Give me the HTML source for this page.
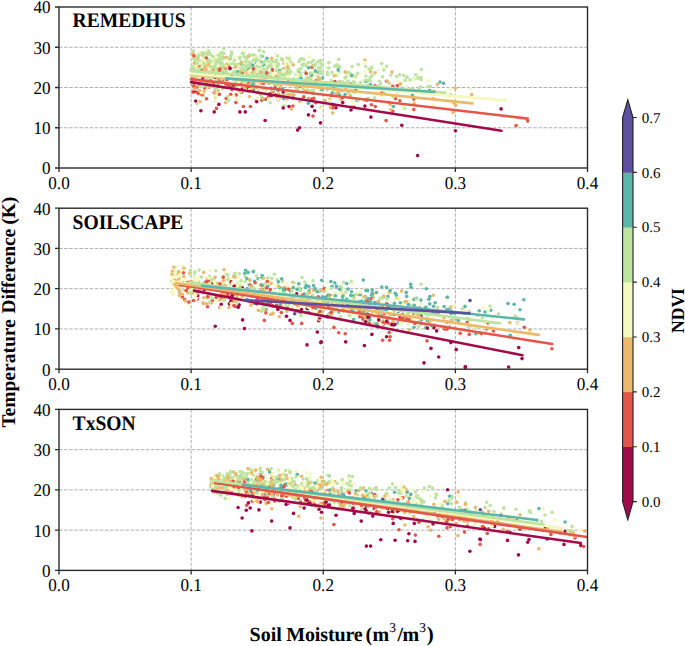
<!DOCTYPE html><html><head><meta charset="utf-8"><style>html,body{margin:0;padding:0;background:#fff;}svg{display:block;}text{font-family:"Liberation Serif",serif;text-rendering:geometricPrecision;}</style></head><body>
<svg width="685" height="646" viewBox="0 0 685 646">
<rect width="685" height="646" fill="#fff"/>
<defs><clipPath id="c0"><rect x="59.0" y="7.0" width="528.5" height="161.0"/></clipPath></defs>
<path d="M191.12 7.00V168.00M323.25 7.00V168.00M455.38 7.00V168.00M59.00 127.75H587.50M59.00 87.50H587.50M59.00 47.25H587.50" stroke="#b0b0b0" stroke-width="1" stroke-dasharray="3.6 1.5" fill="none"/>
<g clip-path="url(#c0)">
<circle cx="207.6" cy="77.8" r="1.8" fill="#f4fabd"/>
<circle cx="471.7" cy="94.6" r="1.8" fill="#ebb86c"/>
<circle cx="195.4" cy="63.0" r="1.8" fill="#ebb86c"/>
<circle cx="228.7" cy="85.1" r="1.8" fill="#e2574a"/>
<circle cx="289.6" cy="95.3" r="1.8" fill="#bde4a0"/>
<circle cx="265.0" cy="78.4" r="1.8" fill="#e2574a"/>
<circle cx="226.9" cy="84.9" r="1.8" fill="#a10b49"/>
<circle cx="220.9" cy="52.9" r="1.8" fill="#bde4a0"/>
<circle cx="254.1" cy="71.0" r="1.8" fill="#ebb86c"/>
<circle cx="437.5" cy="84.3" r="1.8" fill="#ebb86c"/>
<circle cx="267.4" cy="73.2" r="1.8" fill="#bde4a0"/>
<circle cx="338.7" cy="69.1" r="1.8" fill="#bde4a0"/>
<circle cx="357.2" cy="100.5" r="1.8" fill="#e2574a"/>
<circle cx="248.2" cy="68.5" r="1.8" fill="#f4fabd"/>
<circle cx="256.5" cy="62.7" r="1.8" fill="#5cb6a9"/>
<circle cx="291.5" cy="93.7" r="1.8" fill="#bde4a0"/>
<circle cx="279.0" cy="76.5" r="1.8" fill="#ebb86c"/>
<circle cx="261.9" cy="70.8" r="1.8" fill="#bde4a0"/>
<circle cx="203.0" cy="82.0" r="1.8" fill="#bde4a0"/>
<circle cx="226.2" cy="98.4" r="1.8" fill="#e2574a"/>
<circle cx="211.3" cy="75.3" r="1.8" fill="#bde4a0"/>
<circle cx="267.9" cy="67.3" r="1.8" fill="#ebb86c"/>
<circle cx="254.3" cy="76.2" r="1.8" fill="#bde4a0"/>
<circle cx="379.4" cy="81.2" r="1.8" fill="#bde4a0"/>
<circle cx="225.8" cy="84.1" r="1.8" fill="#e2574a"/>
<circle cx="250.2" cy="55.6" r="1.8" fill="#bde4a0"/>
<circle cx="244.2" cy="50.5" r="1.8" fill="#f4fabd"/>
<circle cx="299.8" cy="86.2" r="1.8" fill="#e2574a"/>
<circle cx="265.7" cy="75.6" r="1.8" fill="#5cb6a9"/>
<circle cx="217.5" cy="81.2" r="1.8" fill="#e2574a"/>
<circle cx="245.5" cy="61.2" r="1.8" fill="#bde4a0"/>
<circle cx="308.7" cy="98.8" r="1.8" fill="#e2574a"/>
<circle cx="284.1" cy="80.3" r="1.8" fill="#ebb86c"/>
<circle cx="220.1" cy="60.3" r="1.8" fill="#bde4a0"/>
<circle cx="252.3" cy="65.7" r="1.8" fill="#bde4a0"/>
<circle cx="261.6" cy="67.5" r="1.8" fill="#f4fabd"/>
<circle cx="256.3" cy="57.6" r="1.8" fill="#bde4a0"/>
<circle cx="214.7" cy="101.4" r="1.8" fill="#f4fabd"/>
<circle cx="304.6" cy="84.8" r="1.8" fill="#bde4a0"/>
<circle cx="203.1" cy="95.2" r="1.8" fill="#f4fabd"/>
<circle cx="248.6" cy="85.6" r="1.8" fill="#f4fabd"/>
<circle cx="353.5" cy="81.9" r="1.8" fill="#bde4a0"/>
<circle cx="302.3" cy="64.6" r="1.8" fill="#bde4a0"/>
<circle cx="353.5" cy="85.1" r="1.8" fill="#bde4a0"/>
<circle cx="302.5" cy="88.3" r="1.8" fill="#bde4a0"/>
<circle cx="306.8" cy="87.7" r="1.8" fill="#bde4a0"/>
<circle cx="222.1" cy="64.0" r="1.8" fill="#f4fabd"/>
<circle cx="228.4" cy="65.0" r="1.8" fill="#bde4a0"/>
<circle cx="386.4" cy="81.3" r="1.8" fill="#5cb6a9"/>
<circle cx="237.4" cy="64.2" r="1.8" fill="#bde4a0"/>
<circle cx="247.9" cy="73.0" r="1.8" fill="#bde4a0"/>
<circle cx="210.7" cy="66.9" r="1.8" fill="#f4fabd"/>
<circle cx="192.0" cy="70.2" r="1.8" fill="#f4fabd"/>
<circle cx="235.3" cy="83.2" r="1.8" fill="#f4fabd"/>
<circle cx="257.3" cy="78.4" r="1.8" fill="#bde4a0"/>
<circle cx="277.8" cy="82.0" r="1.8" fill="#ebb86c"/>
<circle cx="231.3" cy="74.5" r="1.8" fill="#e2574a"/>
<circle cx="360.5" cy="82.5" r="1.8" fill="#bde4a0"/>
<circle cx="241.1" cy="84.6" r="1.8" fill="#ebb86c"/>
<circle cx="215.0" cy="60.3" r="1.8" fill="#ebb86c"/>
<circle cx="225.2" cy="80.5" r="1.8" fill="#bde4a0"/>
<circle cx="267.4" cy="67.5" r="1.8" fill="#bde4a0"/>
<circle cx="221.2" cy="67.6" r="1.8" fill="#bde4a0"/>
<circle cx="236.6" cy="83.5" r="1.8" fill="#ebb86c"/>
<circle cx="216.2" cy="83.5" r="1.8" fill="#ebb86c"/>
<circle cx="220.5" cy="75.5" r="1.8" fill="#ebb86c"/>
<circle cx="243.2" cy="80.4" r="1.8" fill="#f4fabd"/>
<circle cx="236.5" cy="82.9" r="1.8" fill="#5cb6a9"/>
<circle cx="241.2" cy="77.1" r="1.8" fill="#e2574a"/>
<circle cx="262.2" cy="81.1" r="1.8" fill="#e2574a"/>
<circle cx="267.9" cy="98.3" r="1.8" fill="#ebb86c"/>
<circle cx="269.5" cy="95.4" r="1.8" fill="#a10b49"/>
<circle cx="255.7" cy="77.5" r="1.8" fill="#bde4a0"/>
<circle cx="381.8" cy="95.5" r="1.8" fill="#f4fabd"/>
<circle cx="264.7" cy="75.2" r="1.8" fill="#bde4a0"/>
<circle cx="251.2" cy="71.3" r="1.8" fill="#5cb6a9"/>
<circle cx="198.7" cy="66.5" r="1.8" fill="#bde4a0"/>
<circle cx="368.2" cy="80.2" r="1.8" fill="#ebb86c"/>
<circle cx="241.8" cy="76.8" r="1.8" fill="#bde4a0"/>
<circle cx="243.1" cy="65.3" r="1.8" fill="#bde4a0"/>
<circle cx="193.0" cy="92.3" r="1.8" fill="#e2574a"/>
<circle cx="221.5" cy="62.3" r="1.8" fill="#bde4a0"/>
<circle cx="206.9" cy="68.8" r="1.8" fill="#bde4a0"/>
<circle cx="283.2" cy="92.1" r="1.8" fill="#a10b49"/>
<circle cx="208.6" cy="66.5" r="1.8" fill="#f4fabd"/>
<circle cx="287.6" cy="67.8" r="1.8" fill="#ebb86c"/>
<circle cx="220.7" cy="81.2" r="1.8" fill="#bde4a0"/>
<circle cx="310.7" cy="73.6" r="1.8" fill="#5cb6a9"/>
<circle cx="412.0" cy="88.3" r="1.8" fill="#bde4a0"/>
<circle cx="244.6" cy="79.7" r="1.8" fill="#bde4a0"/>
<circle cx="255.1" cy="56.1" r="1.8" fill="#bde4a0"/>
<circle cx="324.8" cy="84.2" r="1.8" fill="#e2574a"/>
<circle cx="454.0" cy="103.1" r="1.8" fill="#ebb86c"/>
<circle cx="219.2" cy="58.8" r="1.8" fill="#bde4a0"/>
<circle cx="199.9" cy="68.2" r="1.8" fill="#f4fabd"/>
<circle cx="309.6" cy="86.2" r="1.8" fill="#bde4a0"/>
<circle cx="305.5" cy="87.0" r="1.8" fill="#bde4a0"/>
<circle cx="234.3" cy="60.3" r="1.8" fill="#bde4a0"/>
<circle cx="288.4" cy="93.7" r="1.8" fill="#bde4a0"/>
<circle cx="193.6" cy="59.0" r="1.8" fill="#bde4a0"/>
<circle cx="229.7" cy="59.5" r="1.8" fill="#bde4a0"/>
<circle cx="346.9" cy="88.5" r="1.8" fill="#bde4a0"/>
<circle cx="199.5" cy="68.0" r="1.8" fill="#ebb86c"/>
<circle cx="250.4" cy="106.5" r="1.8" fill="#e2574a"/>
<circle cx="197.6" cy="55.6" r="1.8" fill="#f4fabd"/>
<circle cx="282.3" cy="59.7" r="1.8" fill="#ebb86c"/>
<circle cx="229.3" cy="67.3" r="1.8" fill="#bde4a0"/>
<circle cx="237.9" cy="72.1" r="1.8" fill="#bde4a0"/>
<circle cx="364.9" cy="60.0" r="1.8" fill="#ebb86c"/>
<circle cx="275.1" cy="85.2" r="1.8" fill="#bde4a0"/>
<circle cx="227.9" cy="96.5" r="1.8" fill="#bde4a0"/>
<circle cx="330.5" cy="94.2" r="1.8" fill="#bde4a0"/>
<circle cx="248.3" cy="91.3" r="1.8" fill="#ebb86c"/>
<circle cx="192.8" cy="74.5" r="1.8" fill="#bde4a0"/>
<circle cx="252.1" cy="84.0" r="1.8" fill="#bde4a0"/>
<circle cx="237.2" cy="86.5" r="1.8" fill="#e2574a"/>
<circle cx="339.8" cy="81.5" r="1.8" fill="#ebb86c"/>
<circle cx="254.3" cy="82.5" r="1.8" fill="#ebb86c"/>
<circle cx="331.4" cy="95.5" r="1.8" fill="#e2574a"/>
<circle cx="213.4" cy="75.2" r="1.8" fill="#ebb86c"/>
<circle cx="208.9" cy="87.2" r="1.8" fill="#e2574a"/>
<circle cx="308.9" cy="90.9" r="1.8" fill="#bde4a0"/>
<circle cx="192.6" cy="76.4" r="1.8" fill="#bde4a0"/>
<circle cx="204.0" cy="52.8" r="1.8" fill="#bde4a0"/>
<circle cx="204.0" cy="91.4" r="1.8" fill="#ebb86c"/>
<circle cx="239.7" cy="58.8" r="1.8" fill="#bde4a0"/>
<circle cx="217.5" cy="70.2" r="1.8" fill="#f4fabd"/>
<circle cx="242.2" cy="84.1" r="1.8" fill="#f4fabd"/>
<circle cx="309.3" cy="99.8" r="1.8" fill="#f4fabd"/>
<circle cx="259.9" cy="84.9" r="1.8" fill="#f4fabd"/>
<circle cx="294.3" cy="95.0" r="1.8" fill="#bde4a0"/>
<circle cx="205.9" cy="88.9" r="1.8" fill="#bde4a0"/>
<circle cx="264.5" cy="90.7" r="1.8" fill="#f4fabd"/>
<circle cx="276.9" cy="80.5" r="1.8" fill="#ebb86c"/>
<circle cx="244.2" cy="56.7" r="1.8" fill="#bde4a0"/>
<circle cx="279.9" cy="97.5" r="1.8" fill="#ebb86c"/>
<circle cx="213.5" cy="76.9" r="1.8" fill="#bde4a0"/>
<circle cx="257.4" cy="91.9" r="1.8" fill="#e2574a"/>
<circle cx="390.8" cy="75.3" r="1.8" fill="#bde4a0"/>
<circle cx="224.5" cy="72.9" r="1.8" fill="#ebb86c"/>
<circle cx="234.3" cy="64.2" r="1.8" fill="#bde4a0"/>
<circle cx="372.1" cy="75.4" r="1.8" fill="#bde4a0"/>
<circle cx="381.3" cy="92.7" r="1.8" fill="#ebb86c"/>
<circle cx="399.9" cy="100.8" r="1.8" fill="#e2574a"/>
<circle cx="257.1" cy="76.9" r="1.8" fill="#5cb6a9"/>
<circle cx="222.3" cy="80.2" r="1.8" fill="#e2574a"/>
<circle cx="253.0" cy="65.5" r="1.8" fill="#bde4a0"/>
<circle cx="258.0" cy="75.0" r="1.8" fill="#f4fabd"/>
<circle cx="200.0" cy="52.2" r="1.8" fill="#f4fabd"/>
<circle cx="308.2" cy="78.6" r="1.8" fill="#bde4a0"/>
<circle cx="259.4" cy="50.4" r="1.8" fill="#bde4a0"/>
<circle cx="246.7" cy="66.5" r="1.8" fill="#bde4a0"/>
<circle cx="214.2" cy="92.8" r="1.8" fill="#e2574a"/>
<circle cx="243.1" cy="77.8" r="1.8" fill="#bde4a0"/>
<circle cx="204.9" cy="62.5" r="1.8" fill="#f4fabd"/>
<circle cx="248.5" cy="78.1" r="1.8" fill="#bde4a0"/>
<circle cx="242.3" cy="77.3" r="1.8" fill="#5cb6a9"/>
<circle cx="312.9" cy="65.3" r="1.8" fill="#ebb86c"/>
<circle cx="279.4" cy="81.9" r="1.8" fill="#f4fabd"/>
<circle cx="293.2" cy="64.9" r="1.8" fill="#ebb86c"/>
<circle cx="241.5" cy="61.8" r="1.8" fill="#bde4a0"/>
<circle cx="252.2" cy="77.7" r="1.8" fill="#ebb86c"/>
<circle cx="248.6" cy="83.3" r="1.8" fill="#e2574a"/>
<circle cx="419.1" cy="88.2" r="1.8" fill="#bde4a0"/>
<circle cx="274.6" cy="81.1" r="1.8" fill="#e2574a"/>
<circle cx="237.5" cy="77.7" r="1.8" fill="#f4fabd"/>
<circle cx="237.4" cy="65.8" r="1.8" fill="#bde4a0"/>
<circle cx="278.2" cy="99.7" r="1.8" fill="#e2574a"/>
<circle cx="192.6" cy="83.9" r="1.8" fill="#a10b49"/>
<circle cx="235.9" cy="102.6" r="1.8" fill="#e2574a"/>
<circle cx="370.4" cy="77.3" r="1.8" fill="#bde4a0"/>
<circle cx="332.0" cy="72.4" r="1.8" fill="#bde4a0"/>
<circle cx="199.8" cy="65.5" r="1.8" fill="#e2574a"/>
<circle cx="318.6" cy="83.4" r="1.8" fill="#f4fabd"/>
<circle cx="336.7" cy="75.1" r="1.8" fill="#bde4a0"/>
<circle cx="208.3" cy="60.3" r="1.8" fill="#bde4a0"/>
<circle cx="252.9" cy="70.9" r="1.8" fill="#bde4a0"/>
<circle cx="237.2" cy="86.6" r="1.8" fill="#bde4a0"/>
<circle cx="277.5" cy="55.8" r="1.8" fill="#bde4a0"/>
<circle cx="232.0" cy="89.6" r="1.8" fill="#e2574a"/>
<circle cx="318.4" cy="77.4" r="1.8" fill="#ebb86c"/>
<circle cx="288.4" cy="74.1" r="1.8" fill="#bde4a0"/>
<circle cx="364.6" cy="62.6" r="1.8" fill="#f4fabd"/>
<circle cx="322.5" cy="78.1" r="1.8" fill="#5cb6a9"/>
<circle cx="216.4" cy="86.6" r="1.8" fill="#e2574a"/>
<circle cx="401.8" cy="125.3" r="1.8" fill="#a10b49"/>
<circle cx="315.7" cy="79.8" r="1.8" fill="#f4fabd"/>
<circle cx="214.7" cy="83.4" r="1.8" fill="#e2574a"/>
<circle cx="236.4" cy="80.0" r="1.8" fill="#bde4a0"/>
<circle cx="261.9" cy="72.6" r="1.8" fill="#bde4a0"/>
<circle cx="310.8" cy="79.0" r="1.8" fill="#e2574a"/>
<circle cx="413.8" cy="99.1" r="1.8" fill="#e2574a"/>
<circle cx="201.2" cy="69.6" r="1.8" fill="#bde4a0"/>
<circle cx="248.7" cy="88.6" r="1.8" fill="#a10b49"/>
<circle cx="191.4" cy="69.9" r="1.8" fill="#e2574a"/>
<circle cx="266.9" cy="80.4" r="1.8" fill="#e2574a"/>
<circle cx="253.4" cy="88.0" r="1.8" fill="#ebb86c"/>
<circle cx="318.5" cy="68.1" r="1.8" fill="#bde4a0"/>
<circle cx="242.1" cy="72.2" r="1.8" fill="#bde4a0"/>
<circle cx="314.9" cy="72.9" r="1.8" fill="#bde4a0"/>
<circle cx="246.9" cy="67.6" r="1.8" fill="#ebb86c"/>
<circle cx="249.6" cy="89.5" r="1.8" fill="#f4fabd"/>
<circle cx="304.9" cy="90.1" r="1.8" fill="#ebb86c"/>
<circle cx="257.0" cy="75.2" r="1.8" fill="#f4fabd"/>
<circle cx="414.2" cy="103.4" r="1.8" fill="#ebb86c"/>
<circle cx="320.4" cy="90.4" r="1.8" fill="#bde4a0"/>
<circle cx="265.2" cy="72.0" r="1.8" fill="#bde4a0"/>
<circle cx="312.4" cy="79.1" r="1.8" fill="#f4fabd"/>
<circle cx="267.1" cy="62.8" r="1.8" fill="#bde4a0"/>
<circle cx="204.1" cy="60.6" r="1.8" fill="#f4fabd"/>
<circle cx="262.0" cy="56.2" r="1.8" fill="#5cb6a9"/>
<circle cx="236.7" cy="64.5" r="1.8" fill="#f4fabd"/>
<circle cx="192.6" cy="84.3" r="1.8" fill="#e2574a"/>
<circle cx="395.6" cy="98.8" r="1.8" fill="#e2574a"/>
<circle cx="210.5" cy="84.8" r="1.8" fill="#ebb86c"/>
<circle cx="389.7" cy="83.6" r="1.8" fill="#bde4a0"/>
<circle cx="200.9" cy="110.7" r="1.8" fill="#a10b49"/>
<circle cx="367.6" cy="80.5" r="1.8" fill="#bde4a0"/>
<circle cx="305.8" cy="79.8" r="1.8" fill="#bde4a0"/>
<circle cx="369.7" cy="84.9" r="1.8" fill="#bde4a0"/>
<circle cx="420.6" cy="86.9" r="1.8" fill="#bde4a0"/>
<circle cx="281.4" cy="58.7" r="1.8" fill="#bde4a0"/>
<circle cx="249.2" cy="75.5" r="1.8" fill="#ebb86c"/>
<circle cx="194.8" cy="85.4" r="1.8" fill="#bde4a0"/>
<circle cx="370.4" cy="80.9" r="1.8" fill="#bde4a0"/>
<circle cx="380.6" cy="83.9" r="1.8" fill="#bde4a0"/>
<circle cx="235.3" cy="57.2" r="1.8" fill="#f4fabd"/>
<circle cx="297.9" cy="79.4" r="1.8" fill="#bde4a0"/>
<circle cx="229.1" cy="67.1" r="1.8" fill="#e2574a"/>
<circle cx="214.6" cy="77.4" r="1.8" fill="#bde4a0"/>
<circle cx="210.5" cy="80.7" r="1.8" fill="#e2574a"/>
<circle cx="197.9" cy="56.2" r="1.8" fill="#bde4a0"/>
<circle cx="207.1" cy="61.0" r="1.8" fill="#bde4a0"/>
<circle cx="193.8" cy="84.9" r="1.8" fill="#f4fabd"/>
<circle cx="254.6" cy="57.9" r="1.8" fill="#f4fabd"/>
<circle cx="287.2" cy="69.8" r="1.8" fill="#bde4a0"/>
<circle cx="223.1" cy="73.4" r="1.8" fill="#e2574a"/>
<circle cx="299.9" cy="101.4" r="1.8" fill="#ebb86c"/>
<circle cx="196.9" cy="92.2" r="1.8" fill="#e2574a"/>
<circle cx="253.8" cy="59.9" r="1.8" fill="#f4fabd"/>
<circle cx="375.0" cy="85.7" r="1.8" fill="#e2574a"/>
<circle cx="206.6" cy="65.5" r="1.8" fill="#ebb86c"/>
<circle cx="277.8" cy="73.7" r="1.8" fill="#f4fabd"/>
<circle cx="345.1" cy="87.1" r="1.8" fill="#ebb86c"/>
<circle cx="312.1" cy="75.2" r="1.8" fill="#f4fabd"/>
<circle cx="248.5" cy="68.4" r="1.8" fill="#f4fabd"/>
<circle cx="325.0" cy="100.5" r="1.8" fill="#ebb86c"/>
<circle cx="349.6" cy="86.5" r="1.8" fill="#bde4a0"/>
<circle cx="194.1" cy="82.6" r="1.8" fill="#ebb86c"/>
<circle cx="283.6" cy="63.5" r="1.8" fill="#bde4a0"/>
<circle cx="236.6" cy="84.7" r="1.8" fill="#ebb86c"/>
<circle cx="270.0" cy="93.6" r="1.8" fill="#e2574a"/>
<circle cx="276.0" cy="61.6" r="1.8" fill="#bde4a0"/>
<circle cx="204.3" cy="70.0" r="1.8" fill="#f4fabd"/>
<circle cx="279.0" cy="82.6" r="1.8" fill="#f4fabd"/>
<circle cx="221.4" cy="73.6" r="1.8" fill="#bde4a0"/>
<circle cx="355.6" cy="89.5" r="1.8" fill="#e2574a"/>
<circle cx="229.8" cy="69.3" r="1.8" fill="#bde4a0"/>
<circle cx="278.2" cy="99.5" r="1.8" fill="#f4fabd"/>
<circle cx="246.4" cy="69.5" r="1.8" fill="#bde4a0"/>
<circle cx="218.2" cy="71.8" r="1.8" fill="#bde4a0"/>
<circle cx="410.0" cy="80.0" r="1.8" fill="#bde4a0"/>
<circle cx="348.5" cy="72.4" r="1.8" fill="#bde4a0"/>
<circle cx="255.0" cy="68.9" r="1.8" fill="#bde4a0"/>
<circle cx="212.0" cy="82.2" r="1.8" fill="#e2574a"/>
<circle cx="204.8" cy="75.8" r="1.8" fill="#e2574a"/>
<circle cx="241.6" cy="68.4" r="1.8" fill="#f4fabd"/>
<circle cx="256.0" cy="100.4" r="1.8" fill="#ebb86c"/>
<circle cx="193.4" cy="50.8" r="1.8" fill="#bde4a0"/>
<circle cx="263.5" cy="69.0" r="1.8" fill="#bde4a0"/>
<circle cx="370.6" cy="71.7" r="1.8" fill="#ebb86c"/>
<circle cx="229.5" cy="64.2" r="1.8" fill="#bde4a0"/>
<circle cx="226.9" cy="64.0" r="1.8" fill="#ebb86c"/>
<circle cx="247.9" cy="72.5" r="1.8" fill="#ebb86c"/>
<circle cx="316.6" cy="82.2" r="1.8" fill="#5cb6a9"/>
<circle cx="311.1" cy="66.7" r="1.8" fill="#bde4a0"/>
<circle cx="201.7" cy="79.5" r="1.8" fill="#e2574a"/>
<circle cx="215.7" cy="71.5" r="1.8" fill="#bde4a0"/>
<circle cx="327.7" cy="74.2" r="1.8" fill="#bde4a0"/>
<circle cx="242.7" cy="65.6" r="1.8" fill="#bde4a0"/>
<circle cx="284.2" cy="75.9" r="1.8" fill="#5cb6a9"/>
<circle cx="314.3" cy="84.8" r="1.8" fill="#5cb6a9"/>
<circle cx="194.3" cy="90.8" r="1.8" fill="#a10b49"/>
<circle cx="216.1" cy="64.1" r="1.8" fill="#bde4a0"/>
<circle cx="304.6" cy="90.4" r="1.8" fill="#5cb6a9"/>
<circle cx="217.5" cy="85.3" r="1.8" fill="#e2574a"/>
<circle cx="337.2" cy="64.8" r="1.8" fill="#bde4a0"/>
<circle cx="221.5" cy="68.4" r="1.8" fill="#bde4a0"/>
<circle cx="220.8" cy="62.0" r="1.8" fill="#bde4a0"/>
<circle cx="200.7" cy="63.7" r="1.8" fill="#bde4a0"/>
<circle cx="305.8" cy="89.9" r="1.8" fill="#5cb6a9"/>
<circle cx="275.3" cy="87.1" r="1.8" fill="#e2574a"/>
<circle cx="303.9" cy="59.5" r="1.8" fill="#bde4a0"/>
<circle cx="284.6" cy="76.7" r="1.8" fill="#bde4a0"/>
<circle cx="310.8" cy="98.9" r="1.8" fill="#ebb86c"/>
<circle cx="261.1" cy="79.0" r="1.8" fill="#bde4a0"/>
<circle cx="334.7" cy="66.1" r="1.8" fill="#bde4a0"/>
<circle cx="255.1" cy="88.6" r="1.8" fill="#f4fabd"/>
<circle cx="198.2" cy="57.5" r="1.8" fill="#bde4a0"/>
<circle cx="240.0" cy="72.1" r="1.8" fill="#ebb86c"/>
<circle cx="374.5" cy="97.7" r="1.8" fill="#bde4a0"/>
<circle cx="272.3" cy="72.2" r="1.8" fill="#e2574a"/>
<circle cx="293.1" cy="95.1" r="1.8" fill="#ebb86c"/>
<circle cx="283.7" cy="72.7" r="1.8" fill="#bde4a0"/>
<circle cx="283.2" cy="106.3" r="1.8" fill="#bde4a0"/>
<circle cx="239.6" cy="85.8" r="1.8" fill="#e2574a"/>
<circle cx="404.6" cy="106.2" r="1.8" fill="#f4fabd"/>
<circle cx="208.3" cy="50.7" r="1.8" fill="#bde4a0"/>
<circle cx="207.5" cy="67.5" r="1.8" fill="#bde4a0"/>
<circle cx="375.1" cy="72.7" r="1.8" fill="#ebb86c"/>
<circle cx="287.4" cy="71.9" r="1.8" fill="#bde4a0"/>
<circle cx="204.0" cy="59.3" r="1.8" fill="#ebb86c"/>
<circle cx="241.8" cy="69.5" r="1.8" fill="#f4fabd"/>
<circle cx="406.9" cy="77.1" r="1.8" fill="#bde4a0"/>
<circle cx="279.1" cy="72.2" r="1.8" fill="#ebb86c"/>
<circle cx="231.4" cy="68.2" r="1.8" fill="#bde4a0"/>
<circle cx="197.2" cy="66.0" r="1.8" fill="#ebb86c"/>
<circle cx="256.8" cy="58.2" r="1.8" fill="#f4fabd"/>
<circle cx="392.0" cy="72.1" r="1.8" fill="#ebb86c"/>
<circle cx="305.5" cy="72.4" r="1.8" fill="#bde4a0"/>
<circle cx="335.9" cy="107.8" r="1.8" fill="#a10b49"/>
<circle cx="223.7" cy="53.6" r="1.8" fill="#bde4a0"/>
<circle cx="327.1" cy="82.5" r="1.8" fill="#bde4a0"/>
<circle cx="195.2" cy="81.9" r="1.8" fill="#bde4a0"/>
<circle cx="245.3" cy="82.1" r="1.8" fill="#ebb86c"/>
<circle cx="316.1" cy="73.8" r="1.8" fill="#ebb86c"/>
<circle cx="309.9" cy="80.5" r="1.8" fill="#ebb86c"/>
<circle cx="208.2" cy="65.0" r="1.8" fill="#f4fabd"/>
<circle cx="238.9" cy="87.2" r="1.8" fill="#bde4a0"/>
<circle cx="203.3" cy="60.5" r="1.8" fill="#ebb86c"/>
<circle cx="202.0" cy="69.8" r="1.8" fill="#f4fabd"/>
<circle cx="211.0" cy="72.1" r="1.8" fill="#ebb86c"/>
<circle cx="213.7" cy="61.1" r="1.8" fill="#bde4a0"/>
<circle cx="192.4" cy="71.3" r="1.8" fill="#f4fabd"/>
<circle cx="300.9" cy="85.2" r="1.8" fill="#ebb86c"/>
<circle cx="204.6" cy="74.9" r="1.8" fill="#f4fabd"/>
<circle cx="342.7" cy="102.6" r="1.8" fill="#a10b49"/>
<circle cx="213.6" cy="78.0" r="1.8" fill="#bde4a0"/>
<circle cx="305.5" cy="91.3" r="1.8" fill="#e2574a"/>
<circle cx="399.5" cy="74.7" r="1.8" fill="#bde4a0"/>
<circle cx="267.2" cy="61.1" r="1.8" fill="#bde4a0"/>
<circle cx="253.4" cy="54.7" r="1.8" fill="#bde4a0"/>
<circle cx="270.2" cy="102.7" r="1.8" fill="#bde4a0"/>
<circle cx="210.2" cy="61.0" r="1.8" fill="#bde4a0"/>
<circle cx="209.8" cy="62.2" r="1.8" fill="#bde4a0"/>
<circle cx="260.3" cy="71.1" r="1.8" fill="#f4fabd"/>
<circle cx="216.3" cy="92.7" r="1.8" fill="#f4fabd"/>
<circle cx="313.2" cy="90.8" r="1.8" fill="#bde4a0"/>
<circle cx="377.1" cy="70.5" r="1.8" fill="#f4fabd"/>
<circle cx="229.2" cy="78.3" r="1.8" fill="#e2574a"/>
<circle cx="262.6" cy="88.4" r="1.8" fill="#bde4a0"/>
<circle cx="400.6" cy="84.1" r="1.8" fill="#bde4a0"/>
<circle cx="196.8" cy="59.0" r="1.8" fill="#ebb86c"/>
<circle cx="312.5" cy="83.5" r="1.8" fill="#f4fabd"/>
<circle cx="236.9" cy="72.7" r="1.8" fill="#5cb6a9"/>
<circle cx="256.7" cy="101.7" r="1.8" fill="#a10b49"/>
<circle cx="222.1" cy="56.9" r="1.8" fill="#bde4a0"/>
<circle cx="249.9" cy="54.8" r="1.8" fill="#bde4a0"/>
<circle cx="220.4" cy="60.3" r="1.8" fill="#f4fabd"/>
<circle cx="404.6" cy="108.2" r="1.8" fill="#bde4a0"/>
<circle cx="237.7" cy="65.2" r="1.8" fill="#bde4a0"/>
<circle cx="346.6" cy="72.8" r="1.8" fill="#bde4a0"/>
<circle cx="323.5" cy="81.4" r="1.8" fill="#f4fabd"/>
<circle cx="241.2" cy="71.8" r="1.8" fill="#ebb86c"/>
<circle cx="254.4" cy="60.3" r="1.8" fill="#bde4a0"/>
<circle cx="200.2" cy="86.7" r="1.8" fill="#bde4a0"/>
<circle cx="264.8" cy="64.3" r="1.8" fill="#bde4a0"/>
<circle cx="318.9" cy="72.2" r="1.8" fill="#5cb6a9"/>
<circle cx="261.6" cy="76.3" r="1.8" fill="#ebb86c"/>
<circle cx="433.8" cy="93.8" r="1.8" fill="#5cb6a9"/>
<circle cx="237.6" cy="89.7" r="1.8" fill="#ebb86c"/>
<circle cx="398.6" cy="81.2" r="1.8" fill="#f4fabd"/>
<circle cx="341.8" cy="90.4" r="1.8" fill="#5cb6a9"/>
<circle cx="279.8" cy="70.6" r="1.8" fill="#5cb6a9"/>
<circle cx="192.4" cy="71.6" r="1.8" fill="#bde4a0"/>
<circle cx="366.0" cy="88.5" r="1.8" fill="#bde4a0"/>
<circle cx="250.2" cy="64.8" r="1.8" fill="#bde4a0"/>
<circle cx="392.7" cy="111.3" r="1.8" fill="#e2574a"/>
<circle cx="230.0" cy="82.9" r="1.8" fill="#bde4a0"/>
<circle cx="312.5" cy="99.6" r="1.8" fill="#e2574a"/>
<circle cx="227.7" cy="76.7" r="1.8" fill="#f4fabd"/>
<circle cx="208.7" cy="64.9" r="1.8" fill="#ebb86c"/>
<circle cx="341.1" cy="99.5" r="1.8" fill="#ebb86c"/>
<circle cx="201.1" cy="68.0" r="1.8" fill="#f4fabd"/>
<circle cx="222.7" cy="88.3" r="1.8" fill="#ebb86c"/>
<circle cx="307.1" cy="77.5" r="1.8" fill="#bde4a0"/>
<circle cx="223.5" cy="57.9" r="1.8" fill="#ebb86c"/>
<circle cx="393.2" cy="97.0" r="1.8" fill="#bde4a0"/>
<circle cx="267.0" cy="58.2" r="1.8" fill="#5cb6a9"/>
<circle cx="193.4" cy="85.5" r="1.8" fill="#bde4a0"/>
<circle cx="253.9" cy="81.2" r="1.8" fill="#f4fabd"/>
<circle cx="222.6" cy="52.9" r="1.8" fill="#bde4a0"/>
<circle cx="214.3" cy="63.1" r="1.8" fill="#bde4a0"/>
<circle cx="283.4" cy="95.5" r="1.8" fill="#ebb86c"/>
<circle cx="288.7" cy="85.3" r="1.8" fill="#f4fabd"/>
<circle cx="351.1" cy="75.5" r="1.8" fill="#bde4a0"/>
<circle cx="329.8" cy="99.2" r="1.8" fill="#ebb86c"/>
<circle cx="365.7" cy="66.5" r="1.8" fill="#bde4a0"/>
<circle cx="195.5" cy="60.0" r="1.8" fill="#bde4a0"/>
<circle cx="216.9" cy="66.2" r="1.8" fill="#bde4a0"/>
<circle cx="223.8" cy="48.6" r="1.8" fill="#bde4a0"/>
<circle cx="340.9" cy="81.7" r="1.8" fill="#bde4a0"/>
<circle cx="276.3" cy="76.1" r="1.8" fill="#ebb86c"/>
<circle cx="338.8" cy="71.9" r="1.8" fill="#bde4a0"/>
<circle cx="217.0" cy="66.6" r="1.8" fill="#bde4a0"/>
<circle cx="248.1" cy="56.3" r="1.8" fill="#ebb86c"/>
<circle cx="198.5" cy="94.3" r="1.8" fill="#bde4a0"/>
<circle cx="287.0" cy="58.1" r="1.8" fill="#bde4a0"/>
<circle cx="292.8" cy="92.0" r="1.8" fill="#bde4a0"/>
<circle cx="205.8" cy="62.5" r="1.8" fill="#bde4a0"/>
<circle cx="207.2" cy="86.7" r="1.8" fill="#bde4a0"/>
<circle cx="217.1" cy="56.3" r="1.8" fill="#bde4a0"/>
<circle cx="226.2" cy="87.8" r="1.8" fill="#bde4a0"/>
<circle cx="192.6" cy="70.1" r="1.8" fill="#ebb86c"/>
<circle cx="290.9" cy="63.0" r="1.8" fill="#bde4a0"/>
<circle cx="215.7" cy="97.6" r="1.8" fill="#ebb86c"/>
<circle cx="243.3" cy="81.3" r="1.8" fill="#f4fabd"/>
<circle cx="203.2" cy="74.8" r="1.8" fill="#f4fabd"/>
<circle cx="346.8" cy="82.6" r="1.8" fill="#bde4a0"/>
<circle cx="332.8" cy="86.9" r="1.8" fill="#f4fabd"/>
<circle cx="311.0" cy="81.9" r="1.8" fill="#f4fabd"/>
<circle cx="210.2" cy="82.0" r="1.8" fill="#e2574a"/>
<circle cx="421.3" cy="79.8" r="1.8" fill="#bde4a0"/>
<circle cx="245.7" cy="81.7" r="1.8" fill="#ebb86c"/>
<circle cx="282.4" cy="71.0" r="1.8" fill="#bde4a0"/>
<circle cx="334.8" cy="105.4" r="1.8" fill="#e2574a"/>
<circle cx="345.2" cy="77.9" r="1.8" fill="#bde4a0"/>
<circle cx="352.7" cy="90.0" r="1.8" fill="#f4fabd"/>
<circle cx="226.1" cy="66.5" r="1.8" fill="#f4fabd"/>
<circle cx="283.5" cy="68.4" r="1.8" fill="#ebb86c"/>
<circle cx="191.7" cy="68.7" r="1.8" fill="#bde4a0"/>
<circle cx="216.7" cy="77.9" r="1.8" fill="#ebb86c"/>
<circle cx="294.1" cy="91.3" r="1.8" fill="#bde4a0"/>
<circle cx="195.4" cy="61.4" r="1.8" fill="#bde4a0"/>
<circle cx="355.4" cy="76.7" r="1.8" fill="#bde4a0"/>
<circle cx="327.2" cy="72.2" r="1.8" fill="#bde4a0"/>
<circle cx="242.9" cy="64.1" r="1.8" fill="#f4fabd"/>
<circle cx="215.4" cy="89.0" r="1.8" fill="#e2574a"/>
<circle cx="272.7" cy="74.9" r="1.8" fill="#f4fabd"/>
<circle cx="338.7" cy="59.2" r="1.8" fill="#bde4a0"/>
<circle cx="342.8" cy="83.2" r="1.8" fill="#bde4a0"/>
<circle cx="311.4" cy="91.2" r="1.8" fill="#bde4a0"/>
<circle cx="311.7" cy="75.2" r="1.8" fill="#5cb6a9"/>
<circle cx="235.4" cy="90.0" r="1.8" fill="#f4fabd"/>
<circle cx="197.1" cy="103.7" r="1.8" fill="#bde4a0"/>
<circle cx="222.2" cy="66.7" r="1.8" fill="#e2574a"/>
<circle cx="203.7" cy="62.6" r="1.8" fill="#bde4a0"/>
<circle cx="210.1" cy="80.8" r="1.8" fill="#e2574a"/>
<circle cx="332.9" cy="107.9" r="1.8" fill="#e2574a"/>
<circle cx="300.5" cy="76.8" r="1.8" fill="#bde4a0"/>
<circle cx="358.2" cy="64.6" r="1.8" fill="#bde4a0"/>
<circle cx="315.3" cy="70.9" r="1.8" fill="#5cb6a9"/>
<circle cx="282.8" cy="69.3" r="1.8" fill="#bde4a0"/>
<circle cx="371.4" cy="104.8" r="1.8" fill="#e2574a"/>
<circle cx="210.5" cy="67.0" r="1.8" fill="#bde4a0"/>
<circle cx="305.2" cy="72.2" r="1.8" fill="#bde4a0"/>
<circle cx="268.6" cy="96.8" r="1.8" fill="#e2574a"/>
<circle cx="319.4" cy="60.9" r="1.8" fill="#bde4a0"/>
<circle cx="400.4" cy="83.7" r="1.8" fill="#ebb86c"/>
<circle cx="207.7" cy="72.1" r="1.8" fill="#f4fabd"/>
<circle cx="352.0" cy="66.5" r="1.8" fill="#bde4a0"/>
<circle cx="405.2" cy="80.4" r="1.8" fill="#bde4a0"/>
<circle cx="293.1" cy="79.9" r="1.8" fill="#ebb86c"/>
<circle cx="316.2" cy="80.7" r="1.8" fill="#e2574a"/>
<circle cx="315.3" cy="64.6" r="1.8" fill="#bde4a0"/>
<circle cx="300.4" cy="77.0" r="1.8" fill="#bde4a0"/>
<circle cx="276.4" cy="78.6" r="1.8" fill="#e2574a"/>
<circle cx="403.1" cy="106.4" r="1.8" fill="#f4fabd"/>
<circle cx="327.2" cy="89.9" r="1.8" fill="#bde4a0"/>
<circle cx="200.6" cy="78.1" r="1.8" fill="#e2574a"/>
<circle cx="271.9" cy="89.9" r="1.8" fill="#bde4a0"/>
<circle cx="194.4" cy="76.6" r="1.8" fill="#bde4a0"/>
<circle cx="349.9" cy="87.4" r="1.8" fill="#bde4a0"/>
<circle cx="191.3" cy="54.0" r="1.8" fill="#bde4a0"/>
<circle cx="317.1" cy="84.3" r="1.8" fill="#bde4a0"/>
<circle cx="275.4" cy="54.3" r="1.8" fill="#f4fabd"/>
<circle cx="276.3" cy="70.5" r="1.8" fill="#bde4a0"/>
<circle cx="241.5" cy="92.2" r="1.8" fill="#e2574a"/>
<circle cx="256.1" cy="77.6" r="1.8" fill="#ebb86c"/>
<circle cx="393.4" cy="106.5" r="1.8" fill="#5cb6a9"/>
<circle cx="417.0" cy="74.7" r="1.8" fill="#f4fabd"/>
<circle cx="198.8" cy="76.4" r="1.8" fill="#ebb86c"/>
<circle cx="230.3" cy="58.2" r="1.8" fill="#ebb86c"/>
<circle cx="321.0" cy="63.4" r="1.8" fill="#bde4a0"/>
<circle cx="226.1" cy="57.3" r="1.8" fill="#ebb86c"/>
<circle cx="309.1" cy="56.4" r="1.8" fill="#f4fabd"/>
<circle cx="216.5" cy="97.3" r="1.8" fill="#f4fabd"/>
<circle cx="235.2" cy="73.4" r="1.8" fill="#ebb86c"/>
<circle cx="236.2" cy="94.9" r="1.8" fill="#e2574a"/>
<circle cx="275.6" cy="65.8" r="1.8" fill="#f4fabd"/>
<circle cx="348.1" cy="81.3" r="1.8" fill="#bde4a0"/>
<circle cx="264.6" cy="88.0" r="1.8" fill="#bde4a0"/>
<circle cx="207.5" cy="72.1" r="1.8" fill="#ebb86c"/>
<circle cx="354.3" cy="92.3" r="1.8" fill="#bde4a0"/>
<circle cx="229.5" cy="82.9" r="1.8" fill="#f4fabd"/>
<circle cx="287.5" cy="66.1" r="1.8" fill="#bde4a0"/>
<circle cx="203.0" cy="95.5" r="1.8" fill="#e2574a"/>
<circle cx="279.6" cy="88.1" r="1.8" fill="#bde4a0"/>
<circle cx="261.8" cy="79.9" r="1.8" fill="#e2574a"/>
<circle cx="332.5" cy="84.8" r="1.8" fill="#5cb6a9"/>
<circle cx="423.0" cy="93.1" r="1.8" fill="#bde4a0"/>
<circle cx="308.0" cy="62.6" r="1.8" fill="#bde4a0"/>
<circle cx="285.4" cy="76.2" r="1.8" fill="#bde4a0"/>
<circle cx="191.9" cy="67.2" r="1.8" fill="#bde4a0"/>
<circle cx="378.2" cy="87.1" r="1.8" fill="#e2574a"/>
<circle cx="250.0" cy="68.1" r="1.8" fill="#bde4a0"/>
<circle cx="270.2" cy="76.8" r="1.8" fill="#ebb86c"/>
<circle cx="243.0" cy="84.2" r="1.8" fill="#f4fabd"/>
<circle cx="375.3" cy="106.6" r="1.8" fill="#e2574a"/>
<circle cx="381.4" cy="93.6" r="1.8" fill="#e2574a"/>
<circle cx="243.4" cy="78.9" r="1.8" fill="#bde4a0"/>
<circle cx="220.4" cy="61.9" r="1.8" fill="#bde4a0"/>
<circle cx="221.1" cy="78.1" r="1.8" fill="#bde4a0"/>
<circle cx="273.9" cy="77.9" r="1.8" fill="#bde4a0"/>
<circle cx="230.5" cy="87.2" r="1.8" fill="#e2574a"/>
<circle cx="247.9" cy="71.4" r="1.8" fill="#ebb86c"/>
<circle cx="223.4" cy="58.7" r="1.8" fill="#bde4a0"/>
<circle cx="257.9" cy="90.5" r="1.8" fill="#ebb86c"/>
<circle cx="245.8" cy="66.7" r="1.8" fill="#bde4a0"/>
<circle cx="208.0" cy="60.2" r="1.8" fill="#ebb86c"/>
<circle cx="215.1" cy="88.1" r="1.8" fill="#bde4a0"/>
<circle cx="202.0" cy="77.0" r="1.8" fill="#bde4a0"/>
<circle cx="264.1" cy="72.8" r="1.8" fill="#bde4a0"/>
<circle cx="231.6" cy="54.2" r="1.8" fill="#bde4a0"/>
<circle cx="298.5" cy="71.4" r="1.8" fill="#5cb6a9"/>
<circle cx="276.0" cy="64.4" r="1.8" fill="#bde4a0"/>
<circle cx="349.8" cy="95.0" r="1.8" fill="#bde4a0"/>
<circle cx="302.8" cy="65.2" r="1.8" fill="#bde4a0"/>
<circle cx="251.4" cy="90.0" r="1.8" fill="#ebb86c"/>
<circle cx="240.3" cy="67.8" r="1.8" fill="#ebb86c"/>
<circle cx="368.1" cy="98.2" r="1.8" fill="#bde4a0"/>
<circle cx="220.8" cy="76.7" r="1.8" fill="#bde4a0"/>
<circle cx="212.5" cy="67.1" r="1.8" fill="#f4fabd"/>
<circle cx="241.5" cy="88.7" r="1.8" fill="#a10b49"/>
<circle cx="261.6" cy="97.1" r="1.8" fill="#bde4a0"/>
<circle cx="254.3" cy="90.3" r="1.8" fill="#e2574a"/>
<circle cx="252.8" cy="80.4" r="1.8" fill="#bde4a0"/>
<circle cx="414.0" cy="79.0" r="1.8" fill="#bde4a0"/>
<circle cx="338.8" cy="94.5" r="1.8" fill="#bde4a0"/>
<circle cx="338.2" cy="92.3" r="1.8" fill="#ebb86c"/>
<circle cx="270.4" cy="71.7" r="1.8" fill="#f4fabd"/>
<circle cx="194.6" cy="68.2" r="1.8" fill="#bde4a0"/>
<circle cx="237.2" cy="75.2" r="1.8" fill="#bde4a0"/>
<circle cx="206.5" cy="80.1" r="1.8" fill="#f4fabd"/>
<circle cx="204.6" cy="75.8" r="1.8" fill="#f4fabd"/>
<circle cx="202.4" cy="68.6" r="1.8" fill="#f4fabd"/>
<circle cx="412.4" cy="94.9" r="1.8" fill="#5cb6a9"/>
<circle cx="242.4" cy="53.4" r="1.8" fill="#bde4a0"/>
<circle cx="330.2" cy="82.9" r="1.8" fill="#bde4a0"/>
<circle cx="321.2" cy="107.2" r="1.8" fill="#ebb86c"/>
<circle cx="220.1" cy="66.3" r="1.8" fill="#ebb86c"/>
<circle cx="265.3" cy="60.6" r="1.8" fill="#bde4a0"/>
<circle cx="253.3" cy="67.9" r="1.8" fill="#bde4a0"/>
<circle cx="319.2" cy="83.6" r="1.8" fill="#ebb86c"/>
<circle cx="205.7" cy="70.2" r="1.8" fill="#ebb86c"/>
<circle cx="268.0" cy="80.9" r="1.8" fill="#bde4a0"/>
<circle cx="313.3" cy="83.9" r="1.8" fill="#ebb86c"/>
<circle cx="270.1" cy="61.3" r="1.8" fill="#bde4a0"/>
<circle cx="205.0" cy="61.1" r="1.8" fill="#f4fabd"/>
<circle cx="214.8" cy="65.7" r="1.8" fill="#bde4a0"/>
<circle cx="269.3" cy="83.4" r="1.8" fill="#ebb86c"/>
<circle cx="390.2" cy="104.4" r="1.8" fill="#ebb86c"/>
<circle cx="199.0" cy="84.5" r="1.8" fill="#e2574a"/>
<circle cx="248.5" cy="68.5" r="1.8" fill="#5cb6a9"/>
<circle cx="356.8" cy="84.0" r="1.8" fill="#f4fabd"/>
<circle cx="253.7" cy="66.0" r="1.8" fill="#bde4a0"/>
<circle cx="255.4" cy="71.1" r="1.8" fill="#bde4a0"/>
<circle cx="428.3" cy="80.6" r="1.8" fill="#f4fabd"/>
<circle cx="302.3" cy="81.1" r="1.8" fill="#ebb86c"/>
<circle cx="201.0" cy="78.2" r="1.8" fill="#bde4a0"/>
<circle cx="299.6" cy="84.8" r="1.8" fill="#bde4a0"/>
<circle cx="333.9" cy="89.7" r="1.8" fill="#bde4a0"/>
<circle cx="271.0" cy="66.3" r="1.8" fill="#bde4a0"/>
<circle cx="516.1" cy="125.6" r="1.8" fill="#e2574a"/>
<circle cx="272.2" cy="80.8" r="1.8" fill="#bde4a0"/>
<circle cx="238.3" cy="75.1" r="1.8" fill="#ebb86c"/>
<circle cx="278.0" cy="83.9" r="1.8" fill="#5cb6a9"/>
<circle cx="254.1" cy="87.1" r="1.8" fill="#bde4a0"/>
<circle cx="208.2" cy="81.2" r="1.8" fill="#ebb86c"/>
<circle cx="319.8" cy="73.4" r="1.8" fill="#bde4a0"/>
<circle cx="345.1" cy="94.6" r="1.8" fill="#5cb6a9"/>
<circle cx="248.0" cy="80.7" r="1.8" fill="#e2574a"/>
<circle cx="336.0" cy="93.5" r="1.8" fill="#ebb86c"/>
<circle cx="309.7" cy="77.8" r="1.8" fill="#ebb86c"/>
<circle cx="261.8" cy="100.3" r="1.8" fill="#e2574a"/>
<circle cx="413.8" cy="109.6" r="1.8" fill="#e2574a"/>
<circle cx="218.1" cy="90.2" r="1.8" fill="#ebb86c"/>
<circle cx="282.4" cy="78.3" r="1.8" fill="#f4fabd"/>
<circle cx="203.4" cy="59.9" r="1.8" fill="#f4fabd"/>
<circle cx="238.9" cy="65.5" r="1.8" fill="#f4fabd"/>
<circle cx="260.2" cy="84.4" r="1.8" fill="#ebb86c"/>
<circle cx="311.2" cy="91.0" r="1.8" fill="#bde4a0"/>
<circle cx="240.0" cy="95.9" r="1.8" fill="#f4fabd"/>
<circle cx="260.0" cy="71.4" r="1.8" fill="#bde4a0"/>
<circle cx="403.5" cy="75.5" r="1.8" fill="#bde4a0"/>
<circle cx="348.4" cy="91.9" r="1.8" fill="#ebb86c"/>
<circle cx="233.5" cy="95.8" r="1.8" fill="#f4fabd"/>
<circle cx="293.8" cy="78.9" r="1.8" fill="#bde4a0"/>
<circle cx="286.8" cy="65.7" r="1.8" fill="#bde4a0"/>
<circle cx="194.3" cy="55.9" r="1.8" fill="#bde4a0"/>
<circle cx="260.4" cy="94.2" r="1.8" fill="#ebb86c"/>
<circle cx="240.3" cy="66.2" r="1.8" fill="#f4fabd"/>
<circle cx="242.9" cy="69.2" r="1.8" fill="#bde4a0"/>
<circle cx="315.4" cy="71.5" r="1.8" fill="#5cb6a9"/>
<circle cx="418.1" cy="78.4" r="1.8" fill="#bde4a0"/>
<circle cx="196.5" cy="87.8" r="1.8" fill="#e2574a"/>
<circle cx="238.2" cy="72.9" r="1.8" fill="#bde4a0"/>
<circle cx="217.6" cy="76.6" r="1.8" fill="#e2574a"/>
<circle cx="203.4" cy="95.8" r="1.8" fill="#bde4a0"/>
<circle cx="195.1" cy="88.8" r="1.8" fill="#bde4a0"/>
<circle cx="257.4" cy="74.5" r="1.8" fill="#ebb86c"/>
<circle cx="225.4" cy="102.8" r="1.8" fill="#ebb86c"/>
<circle cx="221.4" cy="70.7" r="1.8" fill="#bde4a0"/>
<circle cx="302.1" cy="58.6" r="1.8" fill="#bde4a0"/>
<circle cx="201.8" cy="94.4" r="1.8" fill="#e2574a"/>
<circle cx="365.9" cy="76.1" r="1.8" fill="#bde4a0"/>
<circle cx="214.9" cy="75.6" r="1.8" fill="#bde4a0"/>
<circle cx="270.4" cy="78.8" r="1.8" fill="#ebb86c"/>
<circle cx="310.3" cy="84.7" r="1.8" fill="#bde4a0"/>
<circle cx="272.9" cy="91.2" r="1.8" fill="#e2574a"/>
<circle cx="350.6" cy="73.8" r="1.8" fill="#bde4a0"/>
<circle cx="218.6" cy="53.0" r="1.8" fill="#f4fabd"/>
<circle cx="296.6" cy="88.9" r="1.8" fill="#bde4a0"/>
<circle cx="270.9" cy="64.9" r="1.8" fill="#bde4a0"/>
<circle cx="386.7" cy="66.2" r="1.8" fill="#bde4a0"/>
<circle cx="218.4" cy="67.4" r="1.8" fill="#bde4a0"/>
<circle cx="254.8" cy="84.1" r="1.8" fill="#bde4a0"/>
<circle cx="319.2" cy="84.0" r="1.8" fill="#ebb86c"/>
<circle cx="245.2" cy="87.4" r="1.8" fill="#ebb86c"/>
<circle cx="264.0" cy="99.3" r="1.8" fill="#5cb6a9"/>
<circle cx="209.3" cy="86.9" r="1.8" fill="#ebb86c"/>
<circle cx="320.0" cy="78.1" r="1.8" fill="#bde4a0"/>
<circle cx="224.7" cy="68.8" r="1.8" fill="#bde4a0"/>
<circle cx="209.4" cy="60.1" r="1.8" fill="#bde4a0"/>
<circle cx="233.7" cy="72.3" r="1.8" fill="#bde4a0"/>
<circle cx="291.6" cy="82.0" r="1.8" fill="#ebb86c"/>
<circle cx="238.6" cy="84.5" r="1.8" fill="#a10b49"/>
<circle cx="351.0" cy="110.0" r="1.8" fill="#a10b49"/>
<circle cx="286.4" cy="90.9" r="1.8" fill="#f4fabd"/>
<circle cx="257.0" cy="98.3" r="1.8" fill="#f4fabd"/>
<circle cx="245.8" cy="82.5" r="1.8" fill="#bde4a0"/>
<circle cx="291.0" cy="64.1" r="1.8" fill="#bde4a0"/>
<circle cx="243.7" cy="54.0" r="1.8" fill="#bde4a0"/>
<circle cx="214.0" cy="69.2" r="1.8" fill="#e2574a"/>
<circle cx="205.9" cy="83.0" r="1.8" fill="#e2574a"/>
<circle cx="352.4" cy="84.9" r="1.8" fill="#5cb6a9"/>
<circle cx="279.6" cy="75.8" r="1.8" fill="#bde4a0"/>
<circle cx="234.6" cy="82.8" r="1.8" fill="#bde4a0"/>
<circle cx="369.0" cy="69.0" r="1.8" fill="#bde4a0"/>
<circle cx="267.5" cy="63.6" r="1.8" fill="#f4fabd"/>
<circle cx="304.1" cy="64.1" r="1.8" fill="#bde4a0"/>
<circle cx="370.6" cy="84.9" r="1.8" fill="#5cb6a9"/>
<circle cx="207.8" cy="54.2" r="1.8" fill="#bde4a0"/>
<circle cx="300.9" cy="68.6" r="1.8" fill="#bde4a0"/>
<circle cx="371.3" cy="68.3" r="1.8" fill="#bde4a0"/>
<circle cx="206.4" cy="58.2" r="1.8" fill="#bde4a0"/>
<circle cx="216.1" cy="84.1" r="1.8" fill="#a10b49"/>
<circle cx="223.6" cy="68.8" r="1.8" fill="#bde4a0"/>
<circle cx="247.3" cy="86.5" r="1.8" fill="#e2574a"/>
<circle cx="236.1" cy="71.6" r="1.8" fill="#bde4a0"/>
<circle cx="228.2" cy="58.1" r="1.8" fill="#bde4a0"/>
<circle cx="237.4" cy="71.6" r="1.8" fill="#5cb6a9"/>
<circle cx="332.4" cy="92.9" r="1.8" fill="#5cb6a9"/>
<circle cx="297.7" cy="89.4" r="1.8" fill="#bde4a0"/>
<circle cx="332.4" cy="104.2" r="1.8" fill="#a10b49"/>
<circle cx="310.9" cy="73.1" r="1.8" fill="#bde4a0"/>
<circle cx="367.3" cy="85.5" r="1.8" fill="#bde4a0"/>
<circle cx="331.2" cy="107.4" r="1.8" fill="#e2574a"/>
<circle cx="199.6" cy="79.0" r="1.8" fill="#f4fabd"/>
<circle cx="328.8" cy="62.6" r="1.8" fill="#bde4a0"/>
<circle cx="238.3" cy="79.0" r="1.8" fill="#bde4a0"/>
<circle cx="362.6" cy="80.3" r="1.8" fill="#f4fabd"/>
<circle cx="275.5" cy="94.9" r="1.8" fill="#e2574a"/>
<circle cx="387.4" cy="81.3" r="1.8" fill="#ebb86c"/>
<circle cx="350.8" cy="84.0" r="1.8" fill="#e2574a"/>
<circle cx="308.4" cy="103.3" r="1.8" fill="#5cb6a9"/>
<circle cx="228.6" cy="100.5" r="1.8" fill="#bde4a0"/>
<circle cx="250.7" cy="65.3" r="1.8" fill="#bde4a0"/>
<circle cx="255.8" cy="86.2" r="1.8" fill="#bde4a0"/>
<circle cx="350.5" cy="96.0" r="1.8" fill="#ebb86c"/>
<circle cx="225.1" cy="68.0" r="1.8" fill="#ebb86c"/>
<circle cx="200.6" cy="68.2" r="1.8" fill="#bde4a0"/>
<circle cx="289.0" cy="56.5" r="1.8" fill="#f4fabd"/>
<circle cx="277.2" cy="67.2" r="1.8" fill="#bde4a0"/>
<circle cx="211.0" cy="70.8" r="1.8" fill="#bde4a0"/>
<circle cx="224.0" cy="78.1" r="1.8" fill="#bde4a0"/>
<circle cx="337.6" cy="73.4" r="1.8" fill="#f4fabd"/>
<circle cx="219.2" cy="71.7" r="1.8" fill="#ebb86c"/>
<circle cx="319.9" cy="87.6" r="1.8" fill="#ebb86c"/>
<circle cx="286.8" cy="64.7" r="1.8" fill="#ebb86c"/>
<circle cx="266.4" cy="69.9" r="1.8" fill="#bde4a0"/>
<circle cx="220.1" cy="54.5" r="1.8" fill="#bde4a0"/>
<circle cx="290.0" cy="83.8" r="1.8" fill="#ebb86c"/>
<circle cx="200.2" cy="80.1" r="1.8" fill="#ebb86c"/>
<circle cx="382.4" cy="76.8" r="1.8" fill="#bde4a0"/>
<circle cx="443.5" cy="83.2" r="1.8" fill="#5cb6a9"/>
<circle cx="320.8" cy="60.6" r="1.8" fill="#bde4a0"/>
<circle cx="250.6" cy="70.9" r="1.8" fill="#5cb6a9"/>
<circle cx="232.7" cy="63.5" r="1.8" fill="#bde4a0"/>
<circle cx="215.1" cy="65.2" r="1.8" fill="#bde4a0"/>
<circle cx="244.6" cy="70.3" r="1.8" fill="#bde4a0"/>
<circle cx="236.8" cy="83.4" r="1.8" fill="#bde4a0"/>
<circle cx="310.7" cy="85.7" r="1.8" fill="#bde4a0"/>
<circle cx="218.8" cy="77.6" r="1.8" fill="#bde4a0"/>
<circle cx="241.4" cy="79.4" r="1.8" fill="#e2574a"/>
<circle cx="255.8" cy="59.6" r="1.8" fill="#f4fabd"/>
<circle cx="327.0" cy="67.5" r="1.8" fill="#f4fabd"/>
<circle cx="248.5" cy="65.2" r="1.8" fill="#bde4a0"/>
<circle cx="256.5" cy="69.2" r="1.8" fill="#ebb86c"/>
<circle cx="288.7" cy="68.8" r="1.8" fill="#bde4a0"/>
<circle cx="204.5" cy="87.7" r="1.8" fill="#e2574a"/>
<circle cx="257.2" cy="66.1" r="1.8" fill="#bde4a0"/>
<circle cx="259.7" cy="78.4" r="1.8" fill="#bde4a0"/>
<circle cx="260.3" cy="61.1" r="1.8" fill="#bde4a0"/>
<circle cx="296.1" cy="82.1" r="1.8" fill="#ebb86c"/>
<circle cx="260.9" cy="78.9" r="1.8" fill="#ebb86c"/>
<circle cx="278.9" cy="94.0" r="1.8" fill="#ebb86c"/>
<circle cx="217.8" cy="55.9" r="1.8" fill="#bde4a0"/>
<circle cx="278.1" cy="90.4" r="1.8" fill="#5cb6a9"/>
<circle cx="308.4" cy="114.9" r="1.8" fill="#a10b49"/>
<circle cx="300.2" cy="59.4" r="1.8" fill="#bde4a0"/>
<circle cx="247.6" cy="67.0" r="1.8" fill="#bde4a0"/>
<circle cx="297.9" cy="75.4" r="1.8" fill="#f4fabd"/>
<circle cx="311.9" cy="99.4" r="1.8" fill="#e2574a"/>
<circle cx="217.1" cy="71.4" r="1.8" fill="#bde4a0"/>
<circle cx="250.6" cy="62.8" r="1.8" fill="#bde4a0"/>
<circle cx="214.9" cy="93.0" r="1.8" fill="#ebb86c"/>
<circle cx="355.7" cy="76.1" r="1.8" fill="#bde4a0"/>
<circle cx="209.6" cy="52.5" r="1.8" fill="#bde4a0"/>
<circle cx="312.1" cy="67.8" r="1.8" fill="#e2574a"/>
<circle cx="329.8" cy="100.8" r="1.8" fill="#f4fabd"/>
<circle cx="206.4" cy="57.7" r="1.8" fill="#e2574a"/>
<circle cx="201.4" cy="74.8" r="1.8" fill="#f4fabd"/>
<circle cx="292.9" cy="106.0" r="1.8" fill="#e2574a"/>
<circle cx="336.9" cy="66.5" r="1.8" fill="#bde4a0"/>
<circle cx="313.5" cy="90.3" r="1.8" fill="#bde4a0"/>
<circle cx="276.7" cy="85.0" r="1.8" fill="#bde4a0"/>
<circle cx="199.6" cy="63.6" r="1.8" fill="#bde4a0"/>
<circle cx="295.7" cy="74.1" r="1.8" fill="#bde4a0"/>
<circle cx="195.0" cy="72.5" r="1.8" fill="#bde4a0"/>
<circle cx="202.3" cy="52.9" r="1.8" fill="#bde4a0"/>
<circle cx="261.4" cy="75.2" r="1.8" fill="#bde4a0"/>
<circle cx="319.0" cy="80.6" r="1.8" fill="#ebb86c"/>
<circle cx="216.7" cy="62.6" r="1.8" fill="#bde4a0"/>
<circle cx="263.4" cy="64.9" r="1.8" fill="#5cb6a9"/>
<circle cx="240.9" cy="83.7" r="1.8" fill="#5cb6a9"/>
<circle cx="274.6" cy="64.6" r="1.8" fill="#f4fabd"/>
<circle cx="286.1" cy="82.8" r="1.8" fill="#f4fabd"/>
<circle cx="413.7" cy="79.7" r="1.8" fill="#f4fabd"/>
<circle cx="352.1" cy="106.6" r="1.8" fill="#ebb86c"/>
<circle cx="263.7" cy="51.7" r="1.8" fill="#bde4a0"/>
<circle cx="245.0" cy="77.2" r="1.8" fill="#bde4a0"/>
<circle cx="297.7" cy="86.6" r="1.8" fill="#ebb86c"/>
<circle cx="302.0" cy="82.1" r="1.8" fill="#f4fabd"/>
<circle cx="365.1" cy="100.2" r="1.8" fill="#ebb86c"/>
<circle cx="213.2" cy="56.9" r="1.8" fill="#bde4a0"/>
<circle cx="232.8" cy="78.7" r="1.8" fill="#5cb6a9"/>
<circle cx="193.8" cy="85.9" r="1.8" fill="#e2574a"/>
<circle cx="252.7" cy="65.1" r="1.8" fill="#5cb6a9"/>
<circle cx="204.8" cy="81.0" r="1.8" fill="#ebb86c"/>
<circle cx="262.2" cy="62.5" r="1.8" fill="#5cb6a9"/>
<circle cx="284.3" cy="82.5" r="1.8" fill="#ebb86c"/>
<circle cx="289.1" cy="58.9" r="1.8" fill="#bde4a0"/>
<circle cx="215.9" cy="76.1" r="1.8" fill="#a10b49"/>
<circle cx="312.2" cy="70.3" r="1.8" fill="#f4fabd"/>
<circle cx="274.2" cy="61.5" r="1.8" fill="#bde4a0"/>
<circle cx="216.7" cy="57.0" r="1.8" fill="#bde4a0"/>
<circle cx="338.2" cy="69.9" r="1.8" fill="#5cb6a9"/>
<circle cx="308.3" cy="82.5" r="1.8" fill="#e2574a"/>
<circle cx="256.1" cy="69.5" r="1.8" fill="#f4fabd"/>
<circle cx="312.3" cy="81.7" r="1.8" fill="#bde4a0"/>
<circle cx="266.5" cy="89.5" r="1.8" fill="#bde4a0"/>
<circle cx="450.8" cy="94.6" r="1.8" fill="#bde4a0"/>
<circle cx="233.4" cy="74.9" r="1.8" fill="#f4fabd"/>
<circle cx="319.6" cy="79.9" r="1.8" fill="#ebb86c"/>
<circle cx="259.8" cy="66.9" r="1.8" fill="#bde4a0"/>
<circle cx="192.2" cy="79.1" r="1.8" fill="#e2574a"/>
<circle cx="406.3" cy="86.5" r="1.8" fill="#f4fabd"/>
<circle cx="193.2" cy="66.7" r="1.8" fill="#bde4a0"/>
<circle cx="315.8" cy="102.8" r="1.8" fill="#e2574a"/>
<circle cx="365.9" cy="81.4" r="1.8" fill="#5cb6a9"/>
<circle cx="194.1" cy="89.5" r="1.8" fill="#ebb86c"/>
<circle cx="230.5" cy="56.5" r="1.8" fill="#bde4a0"/>
<circle cx="273.1" cy="61.4" r="1.8" fill="#bde4a0"/>
<circle cx="308.5" cy="67.8" r="1.8" fill="#5cb6a9"/>
<circle cx="205.6" cy="51.6" r="1.8" fill="#bde4a0"/>
<circle cx="229.9" cy="76.0" r="1.8" fill="#bde4a0"/>
<circle cx="330.4" cy="106.9" r="1.8" fill="#ebb86c"/>
<circle cx="296.9" cy="81.8" r="1.8" fill="#f4fabd"/>
<circle cx="288.4" cy="73.2" r="1.8" fill="#bde4a0"/>
<circle cx="301.1" cy="78.6" r="1.8" fill="#5cb6a9"/>
<circle cx="240.7" cy="68.8" r="1.8" fill="#bde4a0"/>
<circle cx="236.6" cy="64.5" r="1.8" fill="#bde4a0"/>
<circle cx="208.3" cy="74.0" r="1.8" fill="#f4fabd"/>
<circle cx="260.9" cy="72.5" r="1.8" fill="#ebb86c"/>
<circle cx="301.6" cy="98.9" r="1.8" fill="#bde4a0"/>
<circle cx="256.3" cy="79.2" r="1.8" fill="#ebb86c"/>
<circle cx="287.8" cy="67.6" r="1.8" fill="#ebb86c"/>
<circle cx="277.9" cy="80.0" r="1.8" fill="#bde4a0"/>
<circle cx="245.9" cy="71.8" r="1.8" fill="#ebb86c"/>
<circle cx="195.7" cy="76.5" r="1.8" fill="#bde4a0"/>
<circle cx="248.4" cy="80.3" r="1.8" fill="#bde4a0"/>
<circle cx="227.0" cy="88.1" r="1.8" fill="#f4fabd"/>
<circle cx="216.2" cy="83.8" r="1.8" fill="#bde4a0"/>
<circle cx="282.1" cy="88.4" r="1.8" fill="#5cb6a9"/>
<circle cx="295.4" cy="81.9" r="1.8" fill="#bde4a0"/>
<circle cx="202.6" cy="76.8" r="1.8" fill="#f4fabd"/>
<circle cx="198.7" cy="62.9" r="1.8" fill="#f4fabd"/>
<circle cx="322.3" cy="73.5" r="1.8" fill="#bde4a0"/>
<circle cx="286.5" cy="94.4" r="1.8" fill="#bde4a0"/>
<circle cx="352.6" cy="101.6" r="1.8" fill="#f4fabd"/>
<circle cx="268.4" cy="79.7" r="1.8" fill="#f4fabd"/>
<circle cx="253.2" cy="60.2" r="1.8" fill="#bde4a0"/>
<circle cx="226.6" cy="86.9" r="1.8" fill="#e2574a"/>
<circle cx="352.1" cy="85.3" r="1.8" fill="#f4fabd"/>
<circle cx="213.9" cy="68.1" r="1.8" fill="#ebb86c"/>
<circle cx="255.6" cy="89.8" r="1.8" fill="#5cb6a9"/>
<circle cx="233.5" cy="85.2" r="1.8" fill="#a10b49"/>
<circle cx="249.4" cy="85.1" r="1.8" fill="#bde4a0"/>
<circle cx="277.6" cy="65.4" r="1.8" fill="#bde4a0"/>
<circle cx="352.9" cy="85.2" r="1.8" fill="#f4fabd"/>
<circle cx="321.3" cy="86.2" r="1.8" fill="#bde4a0"/>
<circle cx="199.5" cy="60.7" r="1.8" fill="#bde4a0"/>
<circle cx="279.8" cy="73.0" r="1.8" fill="#bde4a0"/>
<circle cx="198.2" cy="76.9" r="1.8" fill="#bde4a0"/>
<circle cx="300.7" cy="73.4" r="1.8" fill="#bde4a0"/>
<circle cx="242.4" cy="73.8" r="1.8" fill="#e2574a"/>
<circle cx="286.3" cy="75.6" r="1.8" fill="#f4fabd"/>
<circle cx="231.7" cy="52.0" r="1.8" fill="#bde4a0"/>
<circle cx="455.3" cy="88.3" r="1.8" fill="#ebb86c"/>
<circle cx="296.5" cy="73.1" r="1.8" fill="#f4fabd"/>
<circle cx="390.8" cy="109.7" r="1.8" fill="#ebb86c"/>
<circle cx="429.7" cy="90.6" r="1.8" fill="#e2574a"/>
<circle cx="392.8" cy="86.4" r="1.8" fill="#e2574a"/>
<circle cx="242.5" cy="65.1" r="1.8" fill="#bde4a0"/>
<circle cx="265.9" cy="99.2" r="1.8" fill="#e2574a"/>
<circle cx="322.6" cy="65.2" r="1.8" fill="#bde4a0"/>
<circle cx="352.8" cy="77.3" r="1.8" fill="#f4fabd"/>
<circle cx="320.6" cy="67.9" r="1.8" fill="#bde4a0"/>
<circle cx="218.2" cy="65.7" r="1.8" fill="#f4fabd"/>
<circle cx="217.1" cy="81.2" r="1.8" fill="#ebb86c"/>
<circle cx="211.0" cy="82.3" r="1.8" fill="#bde4a0"/>
<circle cx="212.5" cy="72.3" r="1.8" fill="#bde4a0"/>
<circle cx="198.7" cy="55.1" r="1.8" fill="#bde4a0"/>
<circle cx="244.8" cy="65.0" r="1.8" fill="#bde4a0"/>
<circle cx="204.0" cy="73.5" r="1.8" fill="#ebb86c"/>
<circle cx="261.1" cy="56.0" r="1.8" fill="#bde4a0"/>
<circle cx="268.3" cy="78.0" r="1.8" fill="#ebb86c"/>
<circle cx="258.4" cy="74.1" r="1.8" fill="#bde4a0"/>
<circle cx="427.8" cy="86.8" r="1.8" fill="#bde4a0"/>
<circle cx="290.9" cy="62.0" r="1.8" fill="#bde4a0"/>
<circle cx="220.7" cy="79.9" r="1.8" fill="#bde4a0"/>
<circle cx="309.7" cy="82.2" r="1.8" fill="#bde4a0"/>
<circle cx="381.8" cy="63.5" r="1.8" fill="#bde4a0"/>
<circle cx="303.8" cy="96.9" r="1.8" fill="#e2574a"/>
<circle cx="225.0" cy="79.3" r="1.8" fill="#bde4a0"/>
<circle cx="352.2" cy="89.2" r="1.8" fill="#bde4a0"/>
<circle cx="246.1" cy="78.2" r="1.8" fill="#bde4a0"/>
<circle cx="240.3" cy="91.3" r="1.8" fill="#e2574a"/>
<circle cx="315.1" cy="74.2" r="1.8" fill="#f4fabd"/>
<circle cx="334.1" cy="75.7" r="1.8" fill="#ebb86c"/>
<circle cx="391.3" cy="90.2" r="1.8" fill="#f4fabd"/>
<circle cx="347.7" cy="86.5" r="1.8" fill="#bde4a0"/>
<circle cx="202.2" cy="54.9" r="1.8" fill="#ebb86c"/>
<circle cx="287.2" cy="72.9" r="1.8" fill="#ebb86c"/>
<circle cx="198.2" cy="93.3" r="1.8" fill="#e2574a"/>
<circle cx="219.1" cy="55.5" r="1.8" fill="#bde4a0"/>
<circle cx="268.6" cy="99.0" r="1.8" fill="#f4fabd"/>
<circle cx="280.8" cy="86.9" r="1.8" fill="#ebb86c"/>
<circle cx="204.4" cy="81.7" r="1.8" fill="#f4fabd"/>
<circle cx="354.1" cy="107.5" r="1.8" fill="#a10b49"/>
<circle cx="339.3" cy="95.0" r="1.8" fill="#5cb6a9"/>
<circle cx="228.6" cy="74.6" r="1.8" fill="#f4fabd"/>
<circle cx="214.5" cy="59.7" r="1.8" fill="#f4fabd"/>
<circle cx="197.7" cy="70.7" r="1.8" fill="#bde4a0"/>
<circle cx="225.8" cy="70.1" r="1.8" fill="#e2574a"/>
<circle cx="290.0" cy="73.2" r="1.8" fill="#bde4a0"/>
<circle cx="219.7" cy="75.6" r="1.8" fill="#ebb86c"/>
<circle cx="211.5" cy="55.2" r="1.8" fill="#bde4a0"/>
<circle cx="203.2" cy="56.0" r="1.8" fill="#bde4a0"/>
<circle cx="290.6" cy="71.1" r="1.8" fill="#bde4a0"/>
<circle cx="367.0" cy="100.1" r="1.8" fill="#e2574a"/>
<circle cx="203.9" cy="77.7" r="1.8" fill="#ebb86c"/>
<circle cx="256.8" cy="89.9" r="1.8" fill="#f4fabd"/>
<circle cx="230.1" cy="68.5" r="1.8" fill="#a10b49"/>
<circle cx="236.8" cy="78.6" r="1.8" fill="#ebb86c"/>
<circle cx="262.8" cy="63.3" r="1.8" fill="#bde4a0"/>
<circle cx="342.5" cy="97.8" r="1.8" fill="#e2574a"/>
<circle cx="241.7" cy="74.3" r="1.8" fill="#5cb6a9"/>
<circle cx="281.5" cy="74.4" r="1.8" fill="#bde4a0"/>
<circle cx="335.9" cy="82.9" r="1.8" fill="#bde4a0"/>
<circle cx="257.4" cy="59.4" r="1.8" fill="#bde4a0"/>
<circle cx="198.1" cy="63.1" r="1.8" fill="#f4fabd"/>
<circle cx="272.4" cy="90.3" r="1.8" fill="#bde4a0"/>
<circle cx="285.6" cy="80.2" r="1.8" fill="#f4fabd"/>
<circle cx="216.5" cy="70.2" r="1.8" fill="#bde4a0"/>
<circle cx="345.4" cy="88.6" r="1.8" fill="#ebb86c"/>
<circle cx="314.4" cy="66.5" r="1.8" fill="#bde4a0"/>
<circle cx="255.7" cy="59.5" r="1.8" fill="#bde4a0"/>
<circle cx="396.7" cy="76.6" r="1.8" fill="#bde4a0"/>
<circle cx="433.3" cy="98.6" r="1.8" fill="#ebb86c"/>
<circle cx="320.6" cy="71.4" r="1.8" fill="#bde4a0"/>
<circle cx="321.9" cy="108.0" r="1.8" fill="#f4fabd"/>
<circle cx="203.4" cy="66.0" r="1.8" fill="#f4fabd"/>
<circle cx="195.8" cy="65.9" r="1.8" fill="#f4fabd"/>
<circle cx="245.0" cy="69.4" r="1.8" fill="#bde4a0"/>
<circle cx="242.4" cy="78.5" r="1.8" fill="#ebb86c"/>
<circle cx="354.7" cy="73.7" r="1.8" fill="#f4fabd"/>
<circle cx="215.8" cy="77.1" r="1.8" fill="#e2574a"/>
<circle cx="219.4" cy="94.4" r="1.8" fill="#e2574a"/>
<circle cx="240.6" cy="91.5" r="1.8" fill="#bde4a0"/>
<circle cx="216.3" cy="59.2" r="1.8" fill="#bde4a0"/>
<circle cx="286.9" cy="98.9" r="1.8" fill="#ebb86c"/>
<circle cx="278.5" cy="64.2" r="1.8" fill="#bde4a0"/>
<circle cx="358.0" cy="100.3" r="1.8" fill="#bde4a0"/>
<circle cx="210.5" cy="72.8" r="1.8" fill="#bde4a0"/>
<circle cx="247.8" cy="76.2" r="1.8" fill="#e2574a"/>
<circle cx="191.3" cy="82.6" r="1.8" fill="#f4fabd"/>
<circle cx="241.0" cy="63.8" r="1.8" fill="#5cb6a9"/>
<circle cx="285.6" cy="64.5" r="1.8" fill="#f4fabd"/>
<circle cx="252.3" cy="72.7" r="1.8" fill="#ebb86c"/>
<circle cx="226.9" cy="73.4" r="1.8" fill="#bde4a0"/>
<circle cx="227.0" cy="79.7" r="1.8" fill="#e2574a"/>
<circle cx="319.4" cy="83.1" r="1.8" fill="#bde4a0"/>
<circle cx="201.5" cy="78.0" r="1.8" fill="#f4fabd"/>
<circle cx="197.7" cy="72.3" r="1.8" fill="#bde4a0"/>
<circle cx="200.6" cy="63.2" r="1.8" fill="#f4fabd"/>
<circle cx="310.7" cy="78.5" r="1.8" fill="#bde4a0"/>
<circle cx="269.4" cy="65.8" r="1.8" fill="#bde4a0"/>
<circle cx="342.8" cy="90.8" r="1.8" fill="#bde4a0"/>
<circle cx="202.7" cy="79.1" r="1.8" fill="#a10b49"/>
<circle cx="298.7" cy="69.3" r="1.8" fill="#bde4a0"/>
<circle cx="271.6" cy="95.5" r="1.8" fill="#a10b49"/>
<circle cx="217.4" cy="73.3" r="1.8" fill="#bde4a0"/>
<circle cx="257.5" cy="63.3" r="1.8" fill="#f4fabd"/>
<circle cx="203.5" cy="54.6" r="1.8" fill="#bde4a0"/>
<circle cx="343.1" cy="82.1" r="1.8" fill="#bde4a0"/>
<circle cx="263.4" cy="83.4" r="1.8" fill="#e2574a"/>
<circle cx="204.5" cy="68.2" r="1.8" fill="#ebb86c"/>
<circle cx="194.2" cy="63.3" r="1.8" fill="#ebb86c"/>
<circle cx="193.0" cy="53.7" r="1.8" fill="#ebb86c"/>
<circle cx="216.1" cy="70.1" r="1.8" fill="#f4fabd"/>
<circle cx="220.3" cy="62.9" r="1.8" fill="#bde4a0"/>
<circle cx="248.7" cy="72.1" r="1.8" fill="#f4fabd"/>
<circle cx="298.3" cy="70.3" r="1.8" fill="#bde4a0"/>
<circle cx="276.5" cy="60.1" r="1.8" fill="#bde4a0"/>
<circle cx="268.4" cy="74.4" r="1.8" fill="#bde4a0"/>
<circle cx="209.3" cy="68.3" r="1.8" fill="#f4fabd"/>
<circle cx="203.8" cy="63.8" r="1.8" fill="#bde4a0"/>
<circle cx="271.0" cy="88.2" r="1.8" fill="#e2574a"/>
<circle cx="383.4" cy="93.0" r="1.8" fill="#e2574a"/>
<circle cx="433.3" cy="105.2" r="1.8" fill="#f4fabd"/>
<circle cx="201.9" cy="73.5" r="1.8" fill="#bde4a0"/>
<circle cx="289.9" cy="64.0" r="1.8" fill="#f4fabd"/>
<circle cx="193.9" cy="55.9" r="1.8" fill="#e2574a"/>
<circle cx="334.9" cy="81.5" r="1.8" fill="#e2574a"/>
<circle cx="397.3" cy="85.5" r="1.8" fill="#e2574a"/>
<circle cx="200.0" cy="84.4" r="1.8" fill="#ebb86c"/>
<circle cx="421.4" cy="69.4" r="1.8" fill="#bde4a0"/>
<circle cx="339.2" cy="88.2" r="1.8" fill="#bde4a0"/>
<circle cx="388.7" cy="102.5" r="1.8" fill="#ebb86c"/>
<circle cx="200.1" cy="101.6" r="1.8" fill="#ebb86c"/>
<circle cx="238.8" cy="78.6" r="1.8" fill="#e2574a"/>
<circle cx="225.5" cy="77.0" r="1.8" fill="#bde4a0"/>
<circle cx="201.8" cy="70.7" r="1.8" fill="#e2574a"/>
<circle cx="220.7" cy="59.2" r="1.8" fill="#bde4a0"/>
<circle cx="289.2" cy="94.9" r="1.8" fill="#ebb86c"/>
<circle cx="354.4" cy="82.6" r="1.8" fill="#bde4a0"/>
<circle cx="219.6" cy="79.8" r="1.8" fill="#e2574a"/>
<circle cx="415.6" cy="74.7" r="1.8" fill="#bde4a0"/>
<circle cx="206.8" cy="73.2" r="1.8" fill="#f4fabd"/>
<circle cx="213.0" cy="63.2" r="1.8" fill="#f4fabd"/>
<circle cx="339.6" cy="66.6" r="1.8" fill="#bde4a0"/>
<circle cx="226.3" cy="87.1" r="1.8" fill="#ebb86c"/>
<circle cx="269.5" cy="80.2" r="1.8" fill="#bde4a0"/>
<circle cx="230.7" cy="94.3" r="1.8" fill="#e2574a"/>
<circle cx="205.9" cy="79.2" r="1.8" fill="#bde4a0"/>
<circle cx="216.6" cy="69.5" r="1.8" fill="#bde4a0"/>
<circle cx="365.9" cy="80.2" r="1.8" fill="#bde4a0"/>
<circle cx="287.1" cy="74.2" r="1.8" fill="#bde4a0"/>
<circle cx="216.3" cy="57.2" r="1.8" fill="#f4fabd"/>
<circle cx="345.1" cy="71.9" r="1.8" fill="#ebb86c"/>
<circle cx="215.1" cy="77.3" r="1.8" fill="#a10b49"/>
<circle cx="260.5" cy="86.2" r="1.8" fill="#f4fabd"/>
<circle cx="306.0" cy="88.6" r="1.8" fill="#bde4a0"/>
<circle cx="254.0" cy="73.8" r="1.8" fill="#bde4a0"/>
<circle cx="299.1" cy="61.4" r="1.8" fill="#bde4a0"/>
<circle cx="205.0" cy="67.0" r="1.8" fill="#ebb86c"/>
<circle cx="220.6" cy="62.2" r="1.8" fill="#bde4a0"/>
<circle cx="199.5" cy="90.6" r="1.8" fill="#ebb86c"/>
<circle cx="280.0" cy="72.6" r="1.8" fill="#bde4a0"/>
<circle cx="216.5" cy="80.3" r="1.8" fill="#bde4a0"/>
<circle cx="237.5" cy="99.7" r="1.8" fill="#f4fabd"/>
<circle cx="300.7" cy="83.5" r="1.8" fill="#ebb86c"/>
<circle cx="278.2" cy="63.8" r="1.8" fill="#bde4a0"/>
<circle cx="228.5" cy="62.0" r="1.8" fill="#f4fabd"/>
<circle cx="203.4" cy="86.4" r="1.8" fill="#bde4a0"/>
<circle cx="284.6" cy="106.0" r="1.8" fill="#bde4a0"/>
<circle cx="313.8" cy="98.3" r="1.8" fill="#e2574a"/>
<circle cx="239.9" cy="57.2" r="1.8" fill="#bde4a0"/>
<circle cx="270.6" cy="72.5" r="1.8" fill="#bde4a0"/>
<circle cx="321.8" cy="89.3" r="1.8" fill="#5cb6a9"/>
<circle cx="241.3" cy="63.1" r="1.8" fill="#ebb86c"/>
<circle cx="219.5" cy="70.2" r="1.8" fill="#e2574a"/>
<circle cx="266.8" cy="72.9" r="1.8" fill="#e2574a"/>
<circle cx="252.9" cy="83.7" r="1.8" fill="#5cb6a9"/>
<circle cx="277.0" cy="96.0" r="1.8" fill="#e2574a"/>
<circle cx="283.2" cy="108.0" r="1.8" fill="#a10b49"/>
<circle cx="278.8" cy="89.3" r="1.8" fill="#e2574a"/>
<circle cx="364.7" cy="71.2" r="1.8" fill="#f4fabd"/>
<circle cx="221.2" cy="66.5" r="1.8" fill="#bde4a0"/>
<circle cx="371.6" cy="67.4" r="1.8" fill="#bde4a0"/>
<circle cx="296.3" cy="83.3" r="1.8" fill="#f4fabd"/>
<circle cx="239.7" cy="87.2" r="1.8" fill="#f4fabd"/>
<circle cx="384.5" cy="93.1" r="1.8" fill="#bde4a0"/>
<circle cx="193.8" cy="73.8" r="1.8" fill="#ebb86c"/>
<circle cx="239.9" cy="111.9" r="1.8" fill="#a10b49"/>
<circle cx="193.6" cy="71.4" r="1.8" fill="#bde4a0"/>
<circle cx="311.1" cy="62.2" r="1.8" fill="#bde4a0"/>
<circle cx="241.9" cy="81.4" r="1.8" fill="#ebb86c"/>
<circle cx="246.0" cy="57.6" r="1.8" fill="#bde4a0"/>
<circle cx="308.0" cy="79.7" r="1.8" fill="#bde4a0"/>
<circle cx="217.2" cy="62.7" r="1.8" fill="#bde4a0"/>
<circle cx="279.9" cy="72.2" r="1.8" fill="#bde4a0"/>
<circle cx="211.3" cy="72.7" r="1.8" fill="#bde4a0"/>
<circle cx="206.6" cy="98.8" r="1.8" fill="#e2574a"/>
<circle cx="397.5" cy="91.7" r="1.8" fill="#bde4a0"/>
<circle cx="313.1" cy="93.5" r="1.8" fill="#5cb6a9"/>
<circle cx="197.0" cy="62.9" r="1.8" fill="#bde4a0"/>
<circle cx="218.4" cy="60.0" r="1.8" fill="#bde4a0"/>
<circle cx="318.7" cy="89.0" r="1.8" fill="#f4fabd"/>
<circle cx="288.3" cy="80.9" r="1.8" fill="#e2574a"/>
<circle cx="384.5" cy="68.1" r="1.8" fill="#f4fabd"/>
<circle cx="222.5" cy="64.1" r="1.8" fill="#bde4a0"/>
<circle cx="453.0" cy="112.5" r="1.8" fill="#ebb86c"/>
<circle cx="262.9" cy="98.5" r="1.8" fill="#ebb86c"/>
<circle cx="354.4" cy="84.4" r="1.8" fill="#bde4a0"/>
<circle cx="259.3" cy="81.6" r="1.8" fill="#f4fabd"/>
<circle cx="306.4" cy="65.8" r="1.8" fill="#bde4a0"/>
<circle cx="249.4" cy="96.6" r="1.8" fill="#ebb86c"/>
<circle cx="195.7" cy="101.0" r="1.8" fill="#a10b49"/>
<circle cx="234.9" cy="71.9" r="1.8" fill="#bde4a0"/>
<circle cx="238.8" cy="81.9" r="1.8" fill="#f4fabd"/>
<circle cx="333.3" cy="86.9" r="1.8" fill="#5cb6a9"/>
<circle cx="223.3" cy="65.5" r="1.8" fill="#bde4a0"/>
<circle cx="270.5" cy="78.6" r="1.8" fill="#bde4a0"/>
<circle cx="434.5" cy="91.9" r="1.8" fill="#e2574a"/>
<circle cx="347.2" cy="76.2" r="1.8" fill="#f4fabd"/>
<circle cx="305.4" cy="71.9" r="1.8" fill="#bde4a0"/>
<circle cx="256.4" cy="87.6" r="1.8" fill="#ebb86c"/>
<circle cx="221.0" cy="78.7" r="1.8" fill="#bde4a0"/>
<circle cx="272.4" cy="69.5" r="1.8" fill="#e2574a"/>
<circle cx="328.8" cy="68.0" r="1.8" fill="#bde4a0"/>
<circle cx="345.7" cy="77.1" r="1.8" fill="#bde4a0"/>
<circle cx="305.3" cy="89.2" r="1.8" fill="#f4fabd"/>
<circle cx="255.7" cy="79.3" r="1.8" fill="#f4fabd"/>
<circle cx="273.1" cy="73.6" r="1.8" fill="#f4fabd"/>
<circle cx="371.6" cy="88.6" r="1.8" fill="#f4fabd"/>
<circle cx="306.2" cy="73.4" r="1.8" fill="#e2574a"/>
<circle cx="199.6" cy="75.1" r="1.8" fill="#bde4a0"/>
<circle cx="286.9" cy="61.1" r="1.8" fill="#f4fabd"/>
<circle cx="251.1" cy="78.8" r="1.8" fill="#e2574a"/>
<circle cx="191.4" cy="74.0" r="1.8" fill="#bde4a0"/>
<circle cx="229.6" cy="85.2" r="1.8" fill="#e2574a"/>
<circle cx="210.6" cy="66.8" r="1.8" fill="#bde4a0"/>
<circle cx="248.4" cy="62.3" r="1.8" fill="#bde4a0"/>
<circle cx="357.8" cy="73.3" r="1.8" fill="#bde4a0"/>
<circle cx="246.8" cy="58.8" r="1.8" fill="#bde4a0"/>
<circle cx="221.3" cy="75.2" r="1.8" fill="#ebb86c"/>
<circle cx="207.2" cy="51.7" r="1.8" fill="#bde4a0"/>
<circle cx="288.6" cy="76.4" r="1.8" fill="#f4fabd"/>
<circle cx="407.1" cy="77.3" r="1.8" fill="#bde4a0"/>
<circle cx="277.5" cy="65.7" r="1.8" fill="#bde4a0"/>
<circle cx="319.0" cy="83.0" r="1.8" fill="#f4fabd"/>
<circle cx="283.7" cy="98.6" r="1.8" fill="#5cb6a9"/>
<circle cx="208.6" cy="78.3" r="1.8" fill="#bde4a0"/>
<circle cx="256.6" cy="79.8" r="1.8" fill="#bde4a0"/>
<circle cx="317.6" cy="62.0" r="1.8" fill="#bde4a0"/>
<circle cx="219.7" cy="69.0" r="1.8" fill="#e2574a"/>
<circle cx="276.5" cy="79.8" r="1.8" fill="#bde4a0"/>
<circle cx="225.4" cy="70.7" r="1.8" fill="#bde4a0"/>
<circle cx="336.3" cy="89.1" r="1.8" fill="#ebb86c"/>
<circle cx="253.4" cy="68.9" r="1.8" fill="#e2574a"/>
<circle cx="327.8" cy="87.0" r="1.8" fill="#bde4a0"/>
<circle cx="199.0" cy="78.6" r="1.8" fill="#f4fabd"/>
<circle cx="313.0" cy="116.1" r="1.8" fill="#e2574a"/>
<circle cx="205.6" cy="51.0" r="1.8" fill="#f4fabd"/>
<circle cx="417.9" cy="77.8" r="1.8" fill="#bde4a0"/>
<circle cx="292.9" cy="98.0" r="1.8" fill="#e2574a"/>
<circle cx="206.5" cy="53.2" r="1.8" fill="#bde4a0"/>
<circle cx="299.5" cy="127.8" r="1.8" fill="#a10b49"/>
<circle cx="201.6" cy="92.7" r="1.8" fill="#f4fabd"/>
<circle cx="331.3" cy="80.6" r="1.8" fill="#bde4a0"/>
<circle cx="304.8" cy="90.5" r="1.8" fill="#ebb86c"/>
<circle cx="235.2" cy="67.2" r="1.8" fill="#ebb86c"/>
<circle cx="213.9" cy="66.7" r="1.8" fill="#bde4a0"/>
<circle cx="231.8" cy="76.6" r="1.8" fill="#a10b49"/>
<circle cx="250.3" cy="70.4" r="1.8" fill="#f4fabd"/>
<circle cx="204.1" cy="82.7" r="1.8" fill="#bde4a0"/>
<circle cx="195.7" cy="79.8" r="1.8" fill="#bde4a0"/>
<circle cx="351.9" cy="75.6" r="1.8" fill="#5cb6a9"/>
<circle cx="195.3" cy="71.8" r="1.8" fill="#bde4a0"/>
<circle cx="236.7" cy="74.9" r="1.8" fill="#5cb6a9"/>
<circle cx="232.6" cy="78.8" r="1.8" fill="#ebb86c"/>
<circle cx="271.7" cy="58.3" r="1.8" fill="#ebb86c"/>
<circle cx="237.5" cy="74.6" r="1.8" fill="#bde4a0"/>
<circle cx="313.5" cy="60.5" r="1.8" fill="#bde4a0"/>
<circle cx="283.2" cy="71.5" r="1.8" fill="#f4fabd"/>
<circle cx="292.5" cy="85.0" r="1.8" fill="#f4fabd"/>
<circle cx="207.4" cy="54.9" r="1.8" fill="#bde4a0"/>
<circle cx="383.7" cy="70.0" r="1.8" fill="#bde4a0"/>
<circle cx="217.0" cy="89.2" r="1.8" fill="#bde4a0"/>
<circle cx="312.1" cy="106.4" r="1.8" fill="#a10b49"/>
<circle cx="417.6" cy="155.6" r="1.8" fill="#a10b49"/>
<circle cx="386.1" cy="120.6" r="1.8" fill="#e2574a"/>
<circle cx="216.5" cy="108.4" r="1.8" fill="#e2574a"/>
<circle cx="430.2" cy="86.4" r="1.8" fill="#bde4a0"/>
<circle cx="314.7" cy="110.7" r="1.8" fill="#a10b49"/>
<circle cx="214.2" cy="111.9" r="1.8" fill="#a10b49"/>
<circle cx="455.8" cy="105.2" r="1.8" fill="#ebb86c"/>
<circle cx="320.5" cy="122.9" r="1.8" fill="#a10b49"/>
<circle cx="289.0" cy="106.5" r="1.8" fill="#a10b49"/>
<circle cx="421.0" cy="77.6" r="1.8" fill="#bde4a0"/>
<circle cx="501.1" cy="108.9" r="1.8" fill="#a10b49"/>
<circle cx="218.9" cy="104.4" r="1.8" fill="#a10b49"/>
<circle cx="370.9" cy="117.1" r="1.8" fill="#a10b49"/>
<circle cx="440.0" cy="82.0" r="1.8" fill="#5cb6a9"/>
<circle cx="504.8" cy="100.0" r="1.8" fill="#f4fabd"/>
<circle cx="243.4" cy="106.5" r="1.8" fill="#e2574a"/>
<circle cx="265.1" cy="120.5" r="1.8" fill="#a10b49"/>
<circle cx="245.3" cy="111.9" r="1.8" fill="#a10b49"/>
<circle cx="291.3" cy="109.0" r="1.8" fill="#ebb86c"/>
<circle cx="527.7" cy="121.1" r="1.8" fill="#e2574a"/>
<circle cx="332.7" cy="113.0" r="1.8" fill="#ebb86c"/>
<circle cx="297.6" cy="130.1" r="1.8" fill="#a10b49"/>
<circle cx="450.2" cy="88.8" r="1.8" fill="#f4fabd"/>
<circle cx="455.4" cy="130.7" r="1.8" fill="#a10b49"/>
<circle cx="364.9" cy="106.1" r="1.8" fill="#a10b49"/>
<circle cx="470.7" cy="88.8" r="1.8" fill="#f4fabd"/>
<line x1="191.0" y1="82.1" x2="501.5" y2="130.8" stroke="#a10b49" stroke-width="2.6" stroke-linecap="round"/>
<line x1="191.0" y1="79.1" x2="527.7" y2="118.6" stroke="#e2574a" stroke-width="2.6" stroke-linecap="round"/>
<line x1="191.0" y1="74.5" x2="472.3" y2="103.4" stroke="#ebb86c" stroke-width="2.6" stroke-linecap="round"/>
<line x1="191.0" y1="73.6" x2="505.0" y2="100.4" stroke="#f4fabd" stroke-width="2.6" stroke-linecap="round"/>
<line x1="191.0" y1="70.8" x2="445.4" y2="92.8" stroke="#bde4a0" stroke-width="2.6" stroke-linecap="round"/>
<line x1="226.0" y1="78.4" x2="434.3" y2="92.0" stroke="#5cb6a9" stroke-width="2.6" stroke-linecap="round"/>
</g>
<rect x="59.0" y="7.0" width="528.5" height="161.0" fill="none" stroke="#2b2b2b" stroke-width="1.4"/>
<path d="M55.00 168.00H59.00M59.00 168.00V172.00M55.00 127.75H59.00M191.12 168.00V172.00M55.00 87.50H59.00M323.25 168.00V172.00M55.00 47.25H59.00M455.38 168.00V172.00M55.00 7.00H59.00M587.50 168.00V172.00" stroke="#2b2b2b" stroke-width="1.3" fill="none"/>
<text transform="translate(50.6,174.40) scale(0.95,1)" font-size="18" text-anchor="end">0</text>
<text transform="translate(59.00,188.90) scale(0.95,1)" font-size="18" text-anchor="middle">0.0</text>
<text transform="translate(50.6,134.15) scale(0.95,1)" font-size="18" text-anchor="end">10</text>
<text transform="translate(191.12,188.90) scale(0.95,1)" font-size="18" text-anchor="middle">0.1</text>
<text transform="translate(50.6,93.90) scale(0.95,1)" font-size="18" text-anchor="end">20</text>
<text transform="translate(323.25,188.90) scale(0.95,1)" font-size="18" text-anchor="middle">0.2</text>
<text transform="translate(50.6,53.65) scale(0.95,1)" font-size="18" text-anchor="end">30</text>
<text transform="translate(455.38,188.90) scale(0.95,1)" font-size="18" text-anchor="middle">0.3</text>
<text transform="translate(50.6,13.40) scale(0.95,1)" font-size="18" text-anchor="end">40</text>
<text transform="translate(587.50,188.90) scale(0.95,1)" font-size="18" text-anchor="middle">0.4</text>
<text transform="translate(72.6,27.40) scale(0.94,1)" font-size="20.8" font-weight="bold">REMEDHUS</text>
<defs><clipPath id="c1"><rect x="59.0" y="208.2" width="528.5" height="161.0"/></clipPath></defs>
<path d="M191.12 208.20V369.20M323.25 208.20V369.20M455.38 208.20V369.20M59.00 328.95H587.50M59.00 288.70H587.50M59.00 248.45H587.50" stroke="#b0b0b0" stroke-width="1" stroke-dasharray="3.6 1.5" fill="none"/>
<g clip-path="url(#c1)">
<circle cx="389.2" cy="332.5" r="1.8" fill="#e2574a"/>
<circle cx="187.7" cy="292.8" r="1.8" fill="#ebb86c"/>
<circle cx="470.0" cy="300.5" r="1.8" fill="#5d50a0"/>
<circle cx="485.0" cy="312.0" r="1.8" fill="#5cb6a9"/>
<circle cx="301.7" cy="323.4" r="1.8" fill="#e2574a"/>
<circle cx="465.3" cy="366.6" r="1.8" fill="#a10b49"/>
<circle cx="244.4" cy="328.6" r="1.8" fill="#a10b49"/>
<circle cx="390.1" cy="336.7" r="1.8" fill="#e2574a"/>
<circle cx="509.8" cy="322.6" r="1.8" fill="#ebb86c"/>
<circle cx="522.0" cy="358.6" r="1.8" fill="#a10b49"/>
<circle cx="518.7" cy="347.6" r="1.8" fill="#a10b49"/>
<circle cx="290.0" cy="320.4" r="1.8" fill="#a10b49"/>
<circle cx="450.8" cy="342.6" r="1.8" fill="#a10b49"/>
<circle cx="220.1" cy="307.5" r="1.8" fill="#e2574a"/>
<circle cx="317.3" cy="332.1" r="1.8" fill="#a10b49"/>
<circle cx="338.7" cy="332.8" r="1.8" fill="#e2574a"/>
<circle cx="508.0" cy="303.5" r="1.8" fill="#5cb6a9"/>
<circle cx="292.3" cy="323.4" r="1.8" fill="#e2574a"/>
<circle cx="382.6" cy="340.2" r="1.8" fill="#e2574a"/>
<circle cx="318.7" cy="320.8" r="1.8" fill="#a10b49"/>
<circle cx="456.2" cy="349.6" r="1.8" fill="#a10b49"/>
<circle cx="524.3" cy="327.3" r="1.8" fill="#e2574a"/>
<circle cx="307.0" cy="344.9" r="1.8" fill="#a10b49"/>
<circle cx="215.2" cy="326.2" r="1.8" fill="#a10b49"/>
<circle cx="551.9" cy="348.8" r="1.8" fill="#e2574a"/>
<circle cx="173.4" cy="284.8" r="1.8" fill="#f4fabd"/>
<circle cx="479.2" cy="310.7" r="1.8" fill="#5cb6a9"/>
<circle cx="188.6" cy="304.5" r="1.8" fill="#f4fabd"/>
<circle cx="221.0" cy="286.5" r="1.8" fill="#bde4a0"/>
<circle cx="298.6" cy="311.3" r="1.8" fill="#5cb6a9"/>
<circle cx="379.6" cy="314.6" r="1.8" fill="#e2574a"/>
<circle cx="349.0" cy="300.8" r="1.8" fill="#e2574a"/>
<circle cx="330.5" cy="312.8" r="1.8" fill="#f4fabd"/>
<circle cx="429.8" cy="303.9" r="1.8" fill="#5cb6a9"/>
<circle cx="402.2" cy="303.7" r="1.8" fill="#f4fabd"/>
<circle cx="335.0" cy="302.2" r="1.8" fill="#f4fabd"/>
<circle cx="402.6" cy="318.3" r="1.8" fill="#5cb6a9"/>
<circle cx="406.7" cy="318.9" r="1.8" fill="#e2574a"/>
<circle cx="184.7" cy="278.9" r="1.8" fill="#f4fabd"/>
<circle cx="294.9" cy="285.9" r="1.8" fill="#f4fabd"/>
<circle cx="222.5" cy="298.7" r="1.8" fill="#f4fabd"/>
<circle cx="280.1" cy="294.1" r="1.8" fill="#5cb6a9"/>
<circle cx="341.9" cy="300.0" r="1.8" fill="#bde4a0"/>
<circle cx="228.9" cy="278.4" r="1.8" fill="#ebb86c"/>
<circle cx="211.3" cy="302.9" r="1.8" fill="#ebb86c"/>
<circle cx="176.0" cy="284.6" r="1.8" fill="#ebb86c"/>
<circle cx="311.8" cy="310.0" r="1.8" fill="#f4fabd"/>
<circle cx="396.2" cy="297.3" r="1.8" fill="#bde4a0"/>
<circle cx="247.7" cy="291.3" r="1.8" fill="#e2574a"/>
<circle cx="282.7" cy="281.6" r="1.8" fill="#bde4a0"/>
<circle cx="407.7" cy="324.0" r="1.8" fill="#f4fabd"/>
<circle cx="300.1" cy="305.6" r="1.8" fill="#f4fabd"/>
<circle cx="380.3" cy="310.1" r="1.8" fill="#e2574a"/>
<circle cx="322.5" cy="297.2" r="1.8" fill="#bde4a0"/>
<circle cx="281.5" cy="299.8" r="1.8" fill="#f4fabd"/>
<circle cx="365.0" cy="305.5" r="1.8" fill="#5cb6a9"/>
<circle cx="203.7" cy="272.4" r="1.8" fill="#ebb86c"/>
<circle cx="433.2" cy="313.1" r="1.8" fill="#5cb6a9"/>
<circle cx="191.6" cy="286.0" r="1.8" fill="#e2574a"/>
<circle cx="359.7" cy="316.8" r="1.8" fill="#e2574a"/>
<circle cx="194.9" cy="271.9" r="1.8" fill="#bde4a0"/>
<circle cx="309.0" cy="290.9" r="1.8" fill="#5cb6a9"/>
<circle cx="204.3" cy="289.6" r="1.8" fill="#a10b49"/>
<circle cx="329.2" cy="314.3" r="1.8" fill="#a10b49"/>
<circle cx="410.0" cy="313.5" r="1.8" fill="#5cb6a9"/>
<circle cx="277.3" cy="279.6" r="1.8" fill="#bde4a0"/>
<circle cx="354.0" cy="298.6" r="1.8" fill="#ebb86c"/>
<circle cx="365.0" cy="319.1" r="1.8" fill="#f4fabd"/>
<circle cx="191.1" cy="282.1" r="1.8" fill="#e2574a"/>
<circle cx="230.2" cy="283.9" r="1.8" fill="#bde4a0"/>
<circle cx="227.6" cy="274.9" r="1.8" fill="#bde4a0"/>
<circle cx="180.7" cy="273.3" r="1.8" fill="#f4fabd"/>
<circle cx="374.3" cy="307.5" r="1.8" fill="#5cb6a9"/>
<circle cx="249.2" cy="284.7" r="1.8" fill="#5cb6a9"/>
<circle cx="304.9" cy="297.1" r="1.8" fill="#bde4a0"/>
<circle cx="305.6" cy="286.4" r="1.8" fill="#f4fabd"/>
<circle cx="232.4" cy="292.7" r="1.8" fill="#bde4a0"/>
<circle cx="470.5" cy="325.5" r="1.8" fill="#e2574a"/>
<circle cx="187.3" cy="288.1" r="1.8" fill="#e2574a"/>
<circle cx="363.3" cy="280.1" r="1.8" fill="#5cb6a9"/>
<circle cx="221.5" cy="297.4" r="1.8" fill="#e2574a"/>
<circle cx="339.1" cy="312.0" r="1.8" fill="#5cb6a9"/>
<circle cx="265.7" cy="294.8" r="1.8" fill="#ebb86c"/>
<circle cx="324.4" cy="304.4" r="1.8" fill="#a10b49"/>
<circle cx="209.3" cy="279.2" r="1.8" fill="#f4fabd"/>
<circle cx="383.3" cy="296.9" r="1.8" fill="#5cb6a9"/>
<circle cx="303.3" cy="300.7" r="1.8" fill="#a10b49"/>
<circle cx="283.0" cy="306.1" r="1.8" fill="#ebb86c"/>
<circle cx="436.7" cy="313.2" r="1.8" fill="#e2574a"/>
<circle cx="284.4" cy="287.3" r="1.8" fill="#ebb86c"/>
<circle cx="332.3" cy="297.6" r="1.8" fill="#5cb6a9"/>
<circle cx="254.7" cy="294.4" r="1.8" fill="#f4fabd"/>
<circle cx="254.3" cy="303.4" r="1.8" fill="#5cb6a9"/>
<circle cx="300.1" cy="296.9" r="1.8" fill="#ebb86c"/>
<circle cx="447.9" cy="297.1" r="1.8" fill="#bde4a0"/>
<circle cx="281.7" cy="290.4" r="1.8" fill="#bde4a0"/>
<circle cx="235.2" cy="299.3" r="1.8" fill="#ebb86c"/>
<circle cx="325.9" cy="302.9" r="1.8" fill="#5cb6a9"/>
<circle cx="175.1" cy="275.6" r="1.8" fill="#f4fabd"/>
<circle cx="341.3" cy="303.0" r="1.8" fill="#f4fabd"/>
<circle cx="257.7" cy="303.9" r="1.8" fill="#bde4a0"/>
<circle cx="351.2" cy="317.3" r="1.8" fill="#f4fabd"/>
<circle cx="254.9" cy="292.2" r="1.8" fill="#f4fabd"/>
<circle cx="281.6" cy="291.9" r="1.8" fill="#f4fabd"/>
<circle cx="386.6" cy="322.4" r="1.8" fill="#e2574a"/>
<circle cx="258.3" cy="285.4" r="1.8" fill="#f4fabd"/>
<circle cx="281.9" cy="296.8" r="1.8" fill="#bde4a0"/>
<circle cx="290.9" cy="301.2" r="1.8" fill="#a10b49"/>
<circle cx="468.3" cy="326.8" r="1.8" fill="#bde4a0"/>
<circle cx="174.7" cy="272.1" r="1.8" fill="#f4fabd"/>
<circle cx="250.8" cy="285.2" r="1.8" fill="#e2574a"/>
<circle cx="437.7" cy="307.4" r="1.8" fill="#bde4a0"/>
<circle cx="297.4" cy="304.7" r="1.8" fill="#e2574a"/>
<circle cx="343.2" cy="295.1" r="1.8" fill="#ebb86c"/>
<circle cx="273.8" cy="292.8" r="1.8" fill="#ebb86c"/>
<circle cx="292.1" cy="294.8" r="1.8" fill="#f4fabd"/>
<circle cx="363.5" cy="308.8" r="1.8" fill="#5cb6a9"/>
<circle cx="224.3" cy="273.7" r="1.8" fill="#f4fabd"/>
<circle cx="411.1" cy="322.1" r="1.8" fill="#f4fabd"/>
<circle cx="386.6" cy="336.7" r="1.8" fill="#a10b49"/>
<circle cx="244.1" cy="293.3" r="1.8" fill="#f4fabd"/>
<circle cx="290.5" cy="291.6" r="1.8" fill="#5cb6a9"/>
<circle cx="398.9" cy="309.8" r="1.8" fill="#f4fabd"/>
<circle cx="420.0" cy="314.8" r="1.8" fill="#e2574a"/>
<circle cx="230.5" cy="278.6" r="1.8" fill="#f4fabd"/>
<circle cx="318.4" cy="313.0" r="1.8" fill="#ebb86c"/>
<circle cx="334.4" cy="306.2" r="1.8" fill="#bde4a0"/>
<circle cx="342.3" cy="311.4" r="1.8" fill="#5cb6a9"/>
<circle cx="332.0" cy="286.5" r="1.8" fill="#5cb6a9"/>
<circle cx="353.6" cy="295.7" r="1.8" fill="#5cb6a9"/>
<circle cx="304.4" cy="293.1" r="1.8" fill="#f4fabd"/>
<circle cx="194.4" cy="273.0" r="1.8" fill="#bde4a0"/>
<circle cx="420.7" cy="303.4" r="1.8" fill="#f4fabd"/>
<circle cx="420.9" cy="300.1" r="1.8" fill="#5cb6a9"/>
<circle cx="244.9" cy="273.3" r="1.8" fill="#5cb6a9"/>
<circle cx="426.3" cy="288.7" r="1.8" fill="#5cb6a9"/>
<circle cx="373.8" cy="323.1" r="1.8" fill="#bde4a0"/>
<circle cx="328.7" cy="305.0" r="1.8" fill="#5cb6a9"/>
<circle cx="300.4" cy="312.2" r="1.8" fill="#e2574a"/>
<circle cx="281.9" cy="306.9" r="1.8" fill="#5cb6a9"/>
<circle cx="348.0" cy="301.1" r="1.8" fill="#f4fabd"/>
<circle cx="175.6" cy="287.4" r="1.8" fill="#ebb86c"/>
<circle cx="268.7" cy="297.8" r="1.8" fill="#ebb86c"/>
<circle cx="330.7" cy="299.9" r="1.8" fill="#5cb6a9"/>
<circle cx="267.4" cy="294.9" r="1.8" fill="#bde4a0"/>
<circle cx="252.0" cy="296.3" r="1.8" fill="#5cb6a9"/>
<circle cx="313.3" cy="290.1" r="1.8" fill="#ebb86c"/>
<circle cx="371.5" cy="313.7" r="1.8" fill="#bde4a0"/>
<circle cx="334.8" cy="293.2" r="1.8" fill="#f4fabd"/>
<circle cx="221.2" cy="304.2" r="1.8" fill="#a10b49"/>
<circle cx="213.7" cy="279.2" r="1.8" fill="#bde4a0"/>
<circle cx="451.1" cy="313.4" r="1.8" fill="#5cb6a9"/>
<circle cx="183.4" cy="272.7" r="1.8" fill="#e2574a"/>
<circle cx="174.8" cy="280.1" r="1.8" fill="#ebb86c"/>
<circle cx="180.9" cy="271.1" r="1.8" fill="#f4fabd"/>
<circle cx="514.1" cy="304.3" r="1.8" fill="#5cb6a9"/>
<circle cx="250.9" cy="305.3" r="1.8" fill="#ebb86c"/>
<circle cx="214.1" cy="288.6" r="1.8" fill="#ebb86c"/>
<circle cx="420.2" cy="309.6" r="1.8" fill="#f4fabd"/>
<circle cx="410.3" cy="313.0" r="1.8" fill="#5cb6a9"/>
<circle cx="266.6" cy="301.9" r="1.8" fill="#e2574a"/>
<circle cx="475.8" cy="333.7" r="1.8" fill="#5cb6a9"/>
<circle cx="364.4" cy="345.6" r="1.8" fill="#a10b49"/>
<circle cx="234.1" cy="286.7" r="1.8" fill="#bde4a0"/>
<circle cx="236.6" cy="287.9" r="1.8" fill="#e2574a"/>
<circle cx="237.4" cy="298.7" r="1.8" fill="#ebb86c"/>
<circle cx="482.4" cy="317.8" r="1.8" fill="#bde4a0"/>
<circle cx="305.4" cy="287.5" r="1.8" fill="#5cb6a9"/>
<circle cx="444.4" cy="329.0" r="1.8" fill="#e2574a"/>
<circle cx="225.2" cy="289.6" r="1.8" fill="#e2574a"/>
<circle cx="321.5" cy="307.7" r="1.8" fill="#5cb6a9"/>
<circle cx="498.6" cy="313.7" r="1.8" fill="#bde4a0"/>
<circle cx="254.6" cy="281.4" r="1.8" fill="#5cb6a9"/>
<circle cx="300.5" cy="289.0" r="1.8" fill="#5cb6a9"/>
<circle cx="347.6" cy="311.2" r="1.8" fill="#bde4a0"/>
<circle cx="394.4" cy="303.4" r="1.8" fill="#5cb6a9"/>
<circle cx="212.4" cy="300.3" r="1.8" fill="#e2574a"/>
<circle cx="258.1" cy="278.7" r="1.8" fill="#5cb6a9"/>
<circle cx="517.9" cy="335.0" r="1.8" fill="#f4fabd"/>
<circle cx="216.6" cy="288.5" r="1.8" fill="#bde4a0"/>
<circle cx="371.9" cy="334.4" r="1.8" fill="#a10b49"/>
<circle cx="415.3" cy="322.6" r="1.8" fill="#ebb86c"/>
<circle cx="263.7" cy="304.9" r="1.8" fill="#bde4a0"/>
<circle cx="361.9" cy="301.1" r="1.8" fill="#5cb6a9"/>
<circle cx="374.6" cy="304.5" r="1.8" fill="#bde4a0"/>
<circle cx="230.8" cy="291.3" r="1.8" fill="#f4fabd"/>
<circle cx="266.8" cy="294.1" r="1.8" fill="#bde4a0"/>
<circle cx="357.1" cy="301.0" r="1.8" fill="#f4fabd"/>
<circle cx="264.3" cy="320.4" r="1.8" fill="#e2574a"/>
<circle cx="285.3" cy="304.1" r="1.8" fill="#5cb6a9"/>
<circle cx="402.4" cy="320.8" r="1.8" fill="#e2574a"/>
<circle cx="308.8" cy="312.5" r="1.8" fill="#5cb6a9"/>
<circle cx="261.6" cy="311.2" r="1.8" fill="#bde4a0"/>
<circle cx="279.2" cy="287.4" r="1.8" fill="#5cb6a9"/>
<circle cx="460.2" cy="333.2" r="1.8" fill="#e2574a"/>
<circle cx="195.1" cy="293.2" r="1.8" fill="#e2574a"/>
<circle cx="173.0" cy="294.6" r="1.8" fill="#f4fabd"/>
<circle cx="362.6" cy="318.9" r="1.8" fill="#5cb6a9"/>
<circle cx="409.4" cy="329.8" r="1.8" fill="#ebb86c"/>
<circle cx="189.8" cy="273.2" r="1.8" fill="#ebb86c"/>
<circle cx="372.7" cy="308.2" r="1.8" fill="#ebb86c"/>
<circle cx="253.9" cy="270.8" r="1.8" fill="#bde4a0"/>
<circle cx="331.5" cy="296.0" r="1.8" fill="#5cb6a9"/>
<circle cx="217.8" cy="283.4" r="1.8" fill="#ebb86c"/>
<circle cx="197.7" cy="295.8" r="1.8" fill="#a10b49"/>
<circle cx="253.5" cy="290.9" r="1.8" fill="#5cb6a9"/>
<circle cx="321.2" cy="305.7" r="1.8" fill="#bde4a0"/>
<circle cx="369.4" cy="307.8" r="1.8" fill="#5cb6a9"/>
<circle cx="343.3" cy="309.9" r="1.8" fill="#ebb86c"/>
<circle cx="218.1" cy="285.1" r="1.8" fill="#bde4a0"/>
<circle cx="413.8" cy="299.9" r="1.8" fill="#bde4a0"/>
<circle cx="237.4" cy="284.5" r="1.8" fill="#f4fabd"/>
<circle cx="288.5" cy="286.5" r="1.8" fill="#f4fabd"/>
<circle cx="238.0" cy="283.1" r="1.8" fill="#bde4a0"/>
<circle cx="276.5" cy="305.4" r="1.8" fill="#e2574a"/>
<circle cx="299.3" cy="299.3" r="1.8" fill="#ebb86c"/>
<circle cx="207.5" cy="297.6" r="1.8" fill="#ebb86c"/>
<circle cx="369.3" cy="316.7" r="1.8" fill="#5cb6a9"/>
<circle cx="390.4" cy="315.0" r="1.8" fill="#ebb86c"/>
<circle cx="366.9" cy="299.4" r="1.8" fill="#f4fabd"/>
<circle cx="262.1" cy="287.2" r="1.8" fill="#f4fabd"/>
<circle cx="347.5" cy="304.5" r="1.8" fill="#ebb86c"/>
<circle cx="359.4" cy="310.5" r="1.8" fill="#ebb86c"/>
<circle cx="416.4" cy="298.4" r="1.8" fill="#5cb6a9"/>
<circle cx="429.4" cy="322.1" r="1.8" fill="#ebb86c"/>
<circle cx="386.5" cy="287.4" r="1.8" fill="#5cb6a9"/>
<circle cx="317.4" cy="299.2" r="1.8" fill="#e2574a"/>
<circle cx="431.6" cy="319.9" r="1.8" fill="#ebb86c"/>
<circle cx="308.8" cy="286.5" r="1.8" fill="#5cb6a9"/>
<circle cx="263.5" cy="302.7" r="1.8" fill="#e2574a"/>
<circle cx="518.0" cy="323.1" r="1.8" fill="#e2574a"/>
<circle cx="256.4" cy="276.0" r="1.8" fill="#bde4a0"/>
<circle cx="412.6" cy="313.8" r="1.8" fill="#e2574a"/>
<circle cx="281.2" cy="291.5" r="1.8" fill="#5cb6a9"/>
<circle cx="179.5" cy="295.6" r="1.8" fill="#ebb86c"/>
<circle cx="365.6" cy="303.2" r="1.8" fill="#5cb6a9"/>
<circle cx="406.7" cy="296.4" r="1.8" fill="#5cb6a9"/>
<circle cx="449.0" cy="309.2" r="1.8" fill="#5cb6a9"/>
<circle cx="211.7" cy="283.9" r="1.8" fill="#a10b49"/>
<circle cx="280.9" cy="296.2" r="1.8" fill="#ebb86c"/>
<circle cx="392.6" cy="309.3" r="1.8" fill="#f4fabd"/>
<circle cx="306.6" cy="296.1" r="1.8" fill="#bde4a0"/>
<circle cx="453.0" cy="319.9" r="1.8" fill="#bde4a0"/>
<circle cx="301.2" cy="305.6" r="1.8" fill="#f4fabd"/>
<circle cx="290.8" cy="300.7" r="1.8" fill="#bde4a0"/>
<circle cx="334.8" cy="282.9" r="1.8" fill="#5cb6a9"/>
<circle cx="216.2" cy="297.4" r="1.8" fill="#e2574a"/>
<circle cx="299.2" cy="288.0" r="1.8" fill="#bde4a0"/>
<circle cx="466.9" cy="318.2" r="1.8" fill="#bde4a0"/>
<circle cx="193.3" cy="281.7" r="1.8" fill="#bde4a0"/>
<circle cx="415.6" cy="312.8" r="1.8" fill="#bde4a0"/>
<circle cx="419.5" cy="321.9" r="1.8" fill="#bde4a0"/>
<circle cx="215.0" cy="285.0" r="1.8" fill="#f4fabd"/>
<circle cx="207.3" cy="278.7" r="1.8" fill="#ebb86c"/>
<circle cx="190.7" cy="285.5" r="1.8" fill="#e2574a"/>
<circle cx="223.1" cy="279.4" r="1.8" fill="#f4fabd"/>
<circle cx="234.4" cy="285.8" r="1.8" fill="#e2574a"/>
<circle cx="362.3" cy="307.3" r="1.8" fill="#f4fabd"/>
<circle cx="281.6" cy="306.3" r="1.8" fill="#e2574a"/>
<circle cx="287.6" cy="288.5" r="1.8" fill="#bde4a0"/>
<circle cx="341.5" cy="311.9" r="1.8" fill="#f4fabd"/>
<circle cx="273.4" cy="298.0" r="1.8" fill="#ebb86c"/>
<circle cx="327.7" cy="299.8" r="1.8" fill="#5cb6a9"/>
<circle cx="245.4" cy="281.3" r="1.8" fill="#bde4a0"/>
<circle cx="182.8" cy="285.3" r="1.8" fill="#e2574a"/>
<circle cx="490.7" cy="310.3" r="1.8" fill="#5cb6a9"/>
<circle cx="332.5" cy="310.1" r="1.8" fill="#ebb86c"/>
<circle cx="330.0" cy="305.1" r="1.8" fill="#f4fabd"/>
<circle cx="310.9" cy="298.2" r="1.8" fill="#e2574a"/>
<circle cx="294.9" cy="311.3" r="1.8" fill="#ebb86c"/>
<circle cx="325.8" cy="289.5" r="1.8" fill="#5cb6a9"/>
<circle cx="289.1" cy="297.4" r="1.8" fill="#bde4a0"/>
<circle cx="402.6" cy="314.4" r="1.8" fill="#e2574a"/>
<circle cx="360.5" cy="312.7" r="1.8" fill="#f4fabd"/>
<circle cx="444.0" cy="318.1" r="1.8" fill="#ebb86c"/>
<circle cx="252.0" cy="290.1" r="1.8" fill="#f4fabd"/>
<circle cx="394.1" cy="314.4" r="1.8" fill="#a10b49"/>
<circle cx="314.6" cy="306.6" r="1.8" fill="#e2574a"/>
<circle cx="281.6" cy="294.1" r="1.8" fill="#f4fabd"/>
<circle cx="411.1" cy="287.2" r="1.8" fill="#5cb6a9"/>
<circle cx="357.7" cy="294.7" r="1.8" fill="#ebb86c"/>
<circle cx="469.2" cy="311.2" r="1.8" fill="#bde4a0"/>
<circle cx="292.6" cy="305.9" r="1.8" fill="#f4fabd"/>
<circle cx="262.2" cy="275.5" r="1.8" fill="#5cb6a9"/>
<circle cx="280.9" cy="296.4" r="1.8" fill="#5cb6a9"/>
<circle cx="366.8" cy="318.4" r="1.8" fill="#ebb86c"/>
<circle cx="292.0" cy="299.0" r="1.8" fill="#ebb86c"/>
<circle cx="328.6" cy="314.7" r="1.8" fill="#bde4a0"/>
<circle cx="312.5" cy="295.6" r="1.8" fill="#ebb86c"/>
<circle cx="362.8" cy="304.1" r="1.8" fill="#f4fabd"/>
<circle cx="400.3" cy="302.7" r="1.8" fill="#5cb6a9"/>
<circle cx="410.7" cy="284.4" r="1.8" fill="#5cb6a9"/>
<circle cx="416.4" cy="308.1" r="1.8" fill="#5cb6a9"/>
<circle cx="233.3" cy="294.8" r="1.8" fill="#e2574a"/>
<circle cx="227.0" cy="294.8" r="1.8" fill="#e2574a"/>
<circle cx="362.5" cy="317.3" r="1.8" fill="#e2574a"/>
<circle cx="197.4" cy="299.0" r="1.8" fill="#e2574a"/>
<circle cx="297.8" cy="305.9" r="1.8" fill="#ebb86c"/>
<circle cx="266.2" cy="309.3" r="1.8" fill="#5cb6a9"/>
<circle cx="523.8" cy="299.7" r="1.8" fill="#5cb6a9"/>
<circle cx="392.0" cy="308.2" r="1.8" fill="#f4fabd"/>
<circle cx="350.9" cy="309.8" r="1.8" fill="#bde4a0"/>
<circle cx="205.5" cy="282.3" r="1.8" fill="#e2574a"/>
<circle cx="364.0" cy="305.9" r="1.8" fill="#ebb86c"/>
<circle cx="376.5" cy="292.5" r="1.8" fill="#5cb6a9"/>
<circle cx="277.5" cy="285.0" r="1.8" fill="#bde4a0"/>
<circle cx="387.7" cy="318.4" r="1.8" fill="#f4fabd"/>
<circle cx="381.0" cy="314.5" r="1.8" fill="#f4fabd"/>
<circle cx="217.8" cy="286.0" r="1.8" fill="#ebb86c"/>
<circle cx="388.6" cy="323.2" r="1.8" fill="#e2574a"/>
<circle cx="403.5" cy="318.4" r="1.8" fill="#e2574a"/>
<circle cx="313.6" cy="285.5" r="1.8" fill="#5cb6a9"/>
<circle cx="259.8" cy="295.2" r="1.8" fill="#e2574a"/>
<circle cx="213.9" cy="281.5" r="1.8" fill="#f4fabd"/>
<circle cx="172.4" cy="271.1" r="1.8" fill="#ebb86c"/>
<circle cx="261.2" cy="285.0" r="1.8" fill="#e2574a"/>
<circle cx="330.3" cy="308.5" r="1.8" fill="#bde4a0"/>
<circle cx="384.1" cy="313.9" r="1.8" fill="#e2574a"/>
<circle cx="367.0" cy="321.2" r="1.8" fill="#ebb86c"/>
<circle cx="381.2" cy="305.7" r="1.8" fill="#f4fabd"/>
<circle cx="337.0" cy="309.2" r="1.8" fill="#bde4a0"/>
<circle cx="425.2" cy="324.2" r="1.8" fill="#ebb86c"/>
<circle cx="281.3" cy="312.6" r="1.8" fill="#e2574a"/>
<circle cx="435.2" cy="302.7" r="1.8" fill="#5cb6a9"/>
<circle cx="223.1" cy="296.0" r="1.8" fill="#e2574a"/>
<circle cx="184.7" cy="289.6" r="1.8" fill="#ebb86c"/>
<circle cx="321.9" cy="305.1" r="1.8" fill="#5cb6a9"/>
<circle cx="281.8" cy="301.6" r="1.8" fill="#a10b49"/>
<circle cx="368.2" cy="299.6" r="1.8" fill="#5cb6a9"/>
<circle cx="182.8" cy="282.5" r="1.8" fill="#e2574a"/>
<circle cx="271.8" cy="306.1" r="1.8" fill="#f4fabd"/>
<circle cx="225.6" cy="289.6" r="1.8" fill="#ebb86c"/>
<circle cx="401.5" cy="291.1" r="1.8" fill="#ebb86c"/>
<circle cx="351.2" cy="281.4" r="1.8" fill="#bde4a0"/>
<circle cx="378.2" cy="309.6" r="1.8" fill="#5cb6a9"/>
<circle cx="304.3" cy="294.0" r="1.8" fill="#5cb6a9"/>
<circle cx="412.6" cy="321.6" r="1.8" fill="#e2574a"/>
<circle cx="411.1" cy="305.8" r="1.8" fill="#bde4a0"/>
<circle cx="365.9" cy="300.5" r="1.8" fill="#5cb6a9"/>
<circle cx="417.9" cy="312.5" r="1.8" fill="#5cb6a9"/>
<circle cx="193.2" cy="287.4" r="1.8" fill="#f4fabd"/>
<circle cx="187.1" cy="282.5" r="1.8" fill="#ebb86c"/>
<circle cx="179.8" cy="285.4" r="1.8" fill="#ebb86c"/>
<circle cx="198.2" cy="285.0" r="1.8" fill="#a10b49"/>
<circle cx="428.9" cy="299.2" r="1.8" fill="#5cb6a9"/>
<circle cx="301.1" cy="315.6" r="1.8" fill="#bde4a0"/>
<circle cx="302.1" cy="295.1" r="1.8" fill="#e2574a"/>
<circle cx="234.8" cy="288.9" r="1.8" fill="#bde4a0"/>
<circle cx="251.0" cy="291.5" r="1.8" fill="#5cb6a9"/>
<circle cx="265.7" cy="283.8" r="1.8" fill="#bde4a0"/>
<circle cx="172.2" cy="291.3" r="1.8" fill="#f4fabd"/>
<circle cx="373.1" cy="297.6" r="1.8" fill="#ebb86c"/>
<circle cx="403.6" cy="319.9" r="1.8" fill="#ebb86c"/>
<circle cx="467.1" cy="322.5" r="1.8" fill="#e2574a"/>
<circle cx="380.7" cy="320.7" r="1.8" fill="#bde4a0"/>
<circle cx="319.3" cy="291.2" r="1.8" fill="#5cb6a9"/>
<circle cx="357.2" cy="301.5" r="1.8" fill="#bde4a0"/>
<circle cx="282.1" cy="303.0" r="1.8" fill="#f4fabd"/>
<circle cx="248.1" cy="272.4" r="1.8" fill="#5cb6a9"/>
<circle cx="322.5" cy="310.9" r="1.8" fill="#a10b49"/>
<circle cx="356.0" cy="306.4" r="1.8" fill="#f4fabd"/>
<circle cx="238.7" cy="283.0" r="1.8" fill="#f4fabd"/>
<circle cx="247.2" cy="288.5" r="1.8" fill="#5cb6a9"/>
<circle cx="234.0" cy="276.6" r="1.8" fill="#e2574a"/>
<circle cx="265.1" cy="305.1" r="1.8" fill="#bde4a0"/>
<circle cx="305.3" cy="314.8" r="1.8" fill="#f4fabd"/>
<circle cx="386.9" cy="293.0" r="1.8" fill="#f4fabd"/>
<circle cx="306.9" cy="307.0" r="1.8" fill="#ebb86c"/>
<circle cx="179.9" cy="291.4" r="1.8" fill="#ebb86c"/>
<circle cx="424.8" cy="307.9" r="1.8" fill="#bde4a0"/>
<circle cx="306.8" cy="301.8" r="1.8" fill="#5cb6a9"/>
<circle cx="199.6" cy="285.7" r="1.8" fill="#e2574a"/>
<circle cx="429.2" cy="309.7" r="1.8" fill="#f4fabd"/>
<circle cx="421.2" cy="316.6" r="1.8" fill="#a10b49"/>
<circle cx="363.7" cy="309.9" r="1.8" fill="#5cb6a9"/>
<circle cx="341.3" cy="291.3" r="1.8" fill="#bde4a0"/>
<circle cx="275.7" cy="285.4" r="1.8" fill="#f4fabd"/>
<circle cx="288.7" cy="289.3" r="1.8" fill="#e2574a"/>
<circle cx="286.9" cy="283.8" r="1.8" fill="#f4fabd"/>
<circle cx="302.0" cy="277.6" r="1.8" fill="#bde4a0"/>
<circle cx="363.2" cy="314.8" r="1.8" fill="#bde4a0"/>
<circle cx="346.8" cy="299.0" r="1.8" fill="#5cb6a9"/>
<circle cx="182.7" cy="283.6" r="1.8" fill="#f4fabd"/>
<circle cx="283.7" cy="306.5" r="1.8" fill="#bde4a0"/>
<circle cx="293.7" cy="301.1" r="1.8" fill="#ebb86c"/>
<circle cx="239.1" cy="304.9" r="1.8" fill="#a10b49"/>
<circle cx="253.0" cy="291.9" r="1.8" fill="#5cb6a9"/>
<circle cx="203.3" cy="283.2" r="1.8" fill="#bde4a0"/>
<circle cx="189.7" cy="281.5" r="1.8" fill="#ebb86c"/>
<circle cx="348.1" cy="289.1" r="1.8" fill="#5cb6a9"/>
<circle cx="294.5" cy="296.2" r="1.8" fill="#5cb6a9"/>
<circle cx="208.5" cy="281.0" r="1.8" fill="#e2574a"/>
<circle cx="326.0" cy="302.5" r="1.8" fill="#ebb86c"/>
<circle cx="386.8" cy="321.1" r="1.8" fill="#a10b49"/>
<circle cx="263.8" cy="287.3" r="1.8" fill="#ebb86c"/>
<circle cx="387.9" cy="296.4" r="1.8" fill="#5cb6a9"/>
<circle cx="366.9" cy="307.9" r="1.8" fill="#e2574a"/>
<circle cx="307.7" cy="294.1" r="1.8" fill="#bde4a0"/>
<circle cx="207.5" cy="306.8" r="1.8" fill="#e2574a"/>
<circle cx="365.3" cy="296.7" r="1.8" fill="#5cb6a9"/>
<circle cx="425.8" cy="327.7" r="1.8" fill="#5cb6a9"/>
<circle cx="278.5" cy="281.7" r="1.8" fill="#5cb6a9"/>
<circle cx="264.8" cy="309.8" r="1.8" fill="#ebb86c"/>
<circle cx="202.3" cy="286.0" r="1.8" fill="#f4fabd"/>
<circle cx="328.2" cy="303.1" r="1.8" fill="#e2574a"/>
<circle cx="340.3" cy="286.5" r="1.8" fill="#bde4a0"/>
<circle cx="398.1" cy="322.9" r="1.8" fill="#5cb6a9"/>
<circle cx="271.8" cy="278.3" r="1.8" fill="#bde4a0"/>
<circle cx="227.4" cy="292.5" r="1.8" fill="#e2574a"/>
<circle cx="433.6" cy="306.2" r="1.8" fill="#5cb6a9"/>
<circle cx="413.5" cy="323.5" r="1.8" fill="#f4fabd"/>
<circle cx="353.6" cy="319.6" r="1.8" fill="#5cb6a9"/>
<circle cx="352.8" cy="300.5" r="1.8" fill="#f4fabd"/>
<circle cx="332.9" cy="301.4" r="1.8" fill="#bde4a0"/>
<circle cx="408.2" cy="314.6" r="1.8" fill="#ebb86c"/>
<circle cx="215.8" cy="270.8" r="1.8" fill="#bde4a0"/>
<circle cx="292.8" cy="282.2" r="1.8" fill="#ebb86c"/>
<circle cx="281.5" cy="302.6" r="1.8" fill="#ebb86c"/>
<circle cx="298.9" cy="303.7" r="1.8" fill="#ebb86c"/>
<circle cx="446.7" cy="309.7" r="1.8" fill="#5cb6a9"/>
<circle cx="272.7" cy="305.9" r="1.8" fill="#e2574a"/>
<circle cx="175.9" cy="266.8" r="1.8" fill="#f4fabd"/>
<circle cx="343.6" cy="282.2" r="1.8" fill="#bde4a0"/>
<circle cx="196.7" cy="287.3" r="1.8" fill="#bde4a0"/>
<circle cx="393.1" cy="321.5" r="1.8" fill="#ebb86c"/>
<circle cx="281.3" cy="288.6" r="1.8" fill="#5cb6a9"/>
<circle cx="290.7" cy="298.0" r="1.8" fill="#5cb6a9"/>
<circle cx="364.8" cy="317.9" r="1.8" fill="#ebb86c"/>
<circle cx="224.4" cy="280.2" r="1.8" fill="#bde4a0"/>
<circle cx="204.1" cy="288.4" r="1.8" fill="#ebb86c"/>
<circle cx="342.4" cy="304.1" r="1.8" fill="#ebb86c"/>
<circle cx="336.7" cy="302.9" r="1.8" fill="#5cb6a9"/>
<circle cx="296.8" cy="293.7" r="1.8" fill="#a10b49"/>
<circle cx="434.0" cy="325.3" r="1.8" fill="#e2574a"/>
<circle cx="380.2" cy="298.3" r="1.8" fill="#bde4a0"/>
<circle cx="338.9" cy="302.6" r="1.8" fill="#bde4a0"/>
<circle cx="450.9" cy="320.4" r="1.8" fill="#ebb86c"/>
<circle cx="321.5" cy="309.3" r="1.8" fill="#bde4a0"/>
<circle cx="383.7" cy="296.0" r="1.8" fill="#ebb86c"/>
<circle cx="348.2" cy="304.8" r="1.8" fill="#e2574a"/>
<circle cx="294.9" cy="303.9" r="1.8" fill="#5cb6a9"/>
<circle cx="269.8" cy="283.7" r="1.8" fill="#bde4a0"/>
<circle cx="173.3" cy="284.4" r="1.8" fill="#f4fabd"/>
<circle cx="197.3" cy="281.8" r="1.8" fill="#bde4a0"/>
<circle cx="348.1" cy="304.3" r="1.8" fill="#5d50a0"/>
<circle cx="399.5" cy="317.3" r="1.8" fill="#ebb86c"/>
<circle cx="221.1" cy="307.5" r="1.8" fill="#f4fabd"/>
<circle cx="191.8" cy="282.3" r="1.8" fill="#ebb86c"/>
<circle cx="263.8" cy="288.4" r="1.8" fill="#f4fabd"/>
<circle cx="294.2" cy="302.8" r="1.8" fill="#ebb86c"/>
<circle cx="179.5" cy="282.0" r="1.8" fill="#ebb86c"/>
<circle cx="239.3" cy="273.9" r="1.8" fill="#bde4a0"/>
<circle cx="329.4" cy="295.4" r="1.8" fill="#e2574a"/>
<circle cx="323.8" cy="305.6" r="1.8" fill="#bde4a0"/>
<circle cx="230.3" cy="289.6" r="1.8" fill="#f4fabd"/>
<circle cx="216.4" cy="287.9" r="1.8" fill="#e2574a"/>
<circle cx="232.3" cy="295.4" r="1.8" fill="#a10b49"/>
<circle cx="209.7" cy="302.1" r="1.8" fill="#bde4a0"/>
<circle cx="230.4" cy="290.0" r="1.8" fill="#ebb86c"/>
<circle cx="313.6" cy="297.1" r="1.8" fill="#f4fabd"/>
<circle cx="381.3" cy="315.9" r="1.8" fill="#5cb6a9"/>
<circle cx="419.5" cy="307.7" r="1.8" fill="#5cb6a9"/>
<circle cx="269.1" cy="299.8" r="1.8" fill="#e2574a"/>
<circle cx="191.7" cy="293.1" r="1.8" fill="#ebb86c"/>
<circle cx="235.4" cy="293.4" r="1.8" fill="#e2574a"/>
<circle cx="434.0" cy="327.8" r="1.8" fill="#a10b49"/>
<circle cx="335.5" cy="295.8" r="1.8" fill="#5cb6a9"/>
<circle cx="322.4" cy="298.6" r="1.8" fill="#f4fabd"/>
<circle cx="341.5" cy="287.6" r="1.8" fill="#bde4a0"/>
<circle cx="298.8" cy="303.5" r="1.8" fill="#5cb6a9"/>
<circle cx="427.4" cy="328.1" r="1.8" fill="#a10b49"/>
<circle cx="285.9" cy="302.4" r="1.8" fill="#e2574a"/>
<circle cx="477.3" cy="315.5" r="1.8" fill="#bde4a0"/>
<circle cx="242.6" cy="319.9" r="1.8" fill="#a10b49"/>
<circle cx="438.1" cy="313.0" r="1.8" fill="#5cb6a9"/>
<circle cx="300.5" cy="290.5" r="1.8" fill="#bde4a0"/>
<circle cx="230.3" cy="291.7" r="1.8" fill="#e2574a"/>
<circle cx="260.5" cy="292.5" r="1.8" fill="#5cb6a9"/>
<circle cx="267.7" cy="286.5" r="1.8" fill="#5cb6a9"/>
<circle cx="224.4" cy="293.4" r="1.8" fill="#ebb86c"/>
<circle cx="328.1" cy="294.7" r="1.8" fill="#ebb86c"/>
<circle cx="320.8" cy="307.4" r="1.8" fill="#f4fabd"/>
<circle cx="279.0" cy="286.5" r="1.8" fill="#ebb86c"/>
<circle cx="371.6" cy="306.2" r="1.8" fill="#f4fabd"/>
<circle cx="186.2" cy="290.5" r="1.8" fill="#e2574a"/>
<circle cx="184.6" cy="299.5" r="1.8" fill="#e2574a"/>
<circle cx="409.0" cy="301.1" r="1.8" fill="#f4fabd"/>
<circle cx="323.4" cy="297.7" r="1.8" fill="#5cb6a9"/>
<circle cx="195.8" cy="294.9" r="1.8" fill="#f4fabd"/>
<circle cx="209.6" cy="276.3" r="1.8" fill="#bde4a0"/>
<circle cx="327.2" cy="282.5" r="1.8" fill="#f4fabd"/>
<circle cx="175.1" cy="282.2" r="1.8" fill="#f4fabd"/>
<circle cx="261.1" cy="278.6" r="1.8" fill="#5cb6a9"/>
<circle cx="298.8" cy="283.7" r="1.8" fill="#5cb6a9"/>
<circle cx="285.4" cy="303.7" r="1.8" fill="#bde4a0"/>
<circle cx="198.6" cy="282.0" r="1.8" fill="#ebb86c"/>
<circle cx="516.9" cy="317.6" r="1.8" fill="#bde4a0"/>
<circle cx="224.2" cy="284.7" r="1.8" fill="#bde4a0"/>
<circle cx="377.6" cy="323.8" r="1.8" fill="#ebb86c"/>
<circle cx="356.3" cy="306.6" r="1.8" fill="#e2574a"/>
<circle cx="194.4" cy="277.0" r="1.8" fill="#bde4a0"/>
<circle cx="465.0" cy="306.4" r="1.8" fill="#5cb6a9"/>
<circle cx="361.0" cy="309.2" r="1.8" fill="#e2574a"/>
<circle cx="257.2" cy="304.1" r="1.8" fill="#bde4a0"/>
<circle cx="179.0" cy="278.4" r="1.8" fill="#ebb86c"/>
<circle cx="370.8" cy="298.8" r="1.8" fill="#e2574a"/>
<circle cx="272.3" cy="313.9" r="1.8" fill="#bde4a0"/>
<circle cx="327.9" cy="317.0" r="1.8" fill="#a10b49"/>
<circle cx="493.4" cy="330.9" r="1.8" fill="#e2574a"/>
<circle cx="195.0" cy="292.2" r="1.8" fill="#bde4a0"/>
<circle cx="389.6" cy="340.2" r="1.8" fill="#e2574a"/>
<circle cx="400.6" cy="310.2" r="1.8" fill="#5cb6a9"/>
<circle cx="417.3" cy="311.3" r="1.8" fill="#ebb86c"/>
<circle cx="297.2" cy="289.4" r="1.8" fill="#5cb6a9"/>
<circle cx="350.3" cy="306.3" r="1.8" fill="#5cb6a9"/>
<circle cx="400.4" cy="317.0" r="1.8" fill="#a10b49"/>
<circle cx="245.1" cy="276.5" r="1.8" fill="#bde4a0"/>
<circle cx="431.5" cy="325.8" r="1.8" fill="#5cb6a9"/>
<circle cx="368.9" cy="317.8" r="1.8" fill="#a10b49"/>
<circle cx="270.1" cy="281.9" r="1.8" fill="#f4fabd"/>
<circle cx="270.6" cy="314.5" r="1.8" fill="#ebb86c"/>
<circle cx="220.1" cy="285.6" r="1.8" fill="#e2574a"/>
<circle cx="342.7" cy="299.8" r="1.8" fill="#5cb6a9"/>
<circle cx="375.6" cy="310.7" r="1.8" fill="#5d50a0"/>
<circle cx="174.9" cy="282.0" r="1.8" fill="#f4fabd"/>
<circle cx="398.5" cy="298.4" r="1.8" fill="#ebb86c"/>
<circle cx="394.2" cy="310.4" r="1.8" fill="#ebb86c"/>
<circle cx="323.1" cy="300.4" r="1.8" fill="#5cb6a9"/>
<circle cx="401.6" cy="321.2" r="1.8" fill="#f4fabd"/>
<circle cx="264.3" cy="298.0" r="1.8" fill="#a10b49"/>
<circle cx="518.3" cy="323.3" r="1.8" fill="#f4fabd"/>
<circle cx="383.5" cy="324.1" r="1.8" fill="#a10b49"/>
<circle cx="180.7" cy="284.0" r="1.8" fill="#f4fabd"/>
<circle cx="394.9" cy="324.4" r="1.8" fill="#a10b49"/>
<circle cx="370.3" cy="301.0" r="1.8" fill="#5cb6a9"/>
<circle cx="253.5" cy="287.7" r="1.8" fill="#bde4a0"/>
<circle cx="353.6" cy="298.1" r="1.8" fill="#bde4a0"/>
<circle cx="188.8" cy="302.1" r="1.8" fill="#e2574a"/>
<circle cx="414.3" cy="305.3" r="1.8" fill="#5cb6a9"/>
<circle cx="223.1" cy="282.0" r="1.8" fill="#f4fabd"/>
<circle cx="257.3" cy="292.9" r="1.8" fill="#bde4a0"/>
<circle cx="479.1" cy="332.9" r="1.8" fill="#ebb86c"/>
<circle cx="455.7" cy="318.7" r="1.8" fill="#ebb86c"/>
<circle cx="363.9" cy="319.7" r="1.8" fill="#e2574a"/>
<circle cx="194.4" cy="288.9" r="1.8" fill="#bde4a0"/>
<circle cx="319.1" cy="319.5" r="1.8" fill="#ebb86c"/>
<circle cx="222.7" cy="289.5" r="1.8" fill="#ebb86c"/>
<circle cx="352.2" cy="283.7" r="1.8" fill="#f4fabd"/>
<circle cx="199.3" cy="277.5" r="1.8" fill="#f4fabd"/>
<circle cx="373.6" cy="311.4" r="1.8" fill="#bde4a0"/>
<circle cx="356.1" cy="314.8" r="1.8" fill="#f4fabd"/>
<circle cx="226.6" cy="289.8" r="1.8" fill="#e2574a"/>
<circle cx="383.5" cy="323.4" r="1.8" fill="#e2574a"/>
<circle cx="254.0" cy="295.5" r="1.8" fill="#e2574a"/>
<circle cx="258.4" cy="310.4" r="1.8" fill="#ebb86c"/>
<circle cx="451.9" cy="311.4" r="1.8" fill="#5cb6a9"/>
<circle cx="376.9" cy="317.3" r="1.8" fill="#f4fabd"/>
<circle cx="316.0" cy="308.4" r="1.8" fill="#5cb6a9"/>
<circle cx="178.3" cy="276.2" r="1.8" fill="#f4fabd"/>
<circle cx="172.0" cy="274.2" r="1.8" fill="#ebb86c"/>
<circle cx="383.4" cy="311.4" r="1.8" fill="#5cb6a9"/>
<circle cx="219.7" cy="296.1" r="1.8" fill="#e2574a"/>
<circle cx="322.5" cy="296.8" r="1.8" fill="#5cb6a9"/>
<circle cx="356.4" cy="306.5" r="1.8" fill="#f4fabd"/>
<circle cx="295.7" cy="303.0" r="1.8" fill="#ebb86c"/>
<circle cx="257.8" cy="298.4" r="1.8" fill="#ebb86c"/>
<circle cx="481.4" cy="333.6" r="1.8" fill="#e2574a"/>
<circle cx="318.2" cy="302.2" r="1.8" fill="#f4fabd"/>
<circle cx="315.5" cy="290.4" r="1.8" fill="#5cb6a9"/>
<circle cx="331.6" cy="303.9" r="1.8" fill="#e2574a"/>
<circle cx="322.5" cy="313.4" r="1.8" fill="#bde4a0"/>
<circle cx="271.2" cy="283.4" r="1.8" fill="#ebb86c"/>
<circle cx="251.1" cy="300.4" r="1.8" fill="#f4fabd"/>
<circle cx="250.6" cy="302.2" r="1.8" fill="#e2574a"/>
<circle cx="364.6" cy="312.2" r="1.8" fill="#5cb6a9"/>
<circle cx="390.6" cy="325.1" r="1.8" fill="#bde4a0"/>
<circle cx="386.9" cy="298.9" r="1.8" fill="#bde4a0"/>
<circle cx="298.9" cy="309.3" r="1.8" fill="#f4fabd"/>
<circle cx="392.7" cy="322.6" r="1.8" fill="#ebb86c"/>
<circle cx="331.6" cy="296.5" r="1.8" fill="#5cb6a9"/>
<circle cx="469.1" cy="319.4" r="1.8" fill="#5cb6a9"/>
<circle cx="242.3" cy="296.6" r="1.8" fill="#ebb86c"/>
<circle cx="365.8" cy="298.2" r="1.8" fill="#bde4a0"/>
<circle cx="363.4" cy="307.8" r="1.8" fill="#e2574a"/>
<circle cx="386.3" cy="310.3" r="1.8" fill="#5cb6a9"/>
<circle cx="176.8" cy="273.2" r="1.8" fill="#ebb86c"/>
<circle cx="318.9" cy="290.9" r="1.8" fill="#bde4a0"/>
<circle cx="261.7" cy="300.8" r="1.8" fill="#e2574a"/>
<circle cx="222.9" cy="277.8" r="1.8" fill="#bde4a0"/>
<circle cx="322.1" cy="290.3" r="1.8" fill="#ebb86c"/>
<circle cx="181.9" cy="297.7" r="1.8" fill="#f4fabd"/>
<circle cx="364.3" cy="307.5" r="1.8" fill="#5cb6a9"/>
<circle cx="488.3" cy="309.8" r="1.8" fill="#f4fabd"/>
<circle cx="450.9" cy="307.1" r="1.8" fill="#ebb86c"/>
<circle cx="199.1" cy="270.1" r="1.8" fill="#bde4a0"/>
<circle cx="377.0" cy="312.7" r="1.8" fill="#f4fabd"/>
<circle cx="275.0" cy="294.2" r="1.8" fill="#bde4a0"/>
<circle cx="465.4" cy="367.5" r="1.8" fill="#a10b49"/>
<circle cx="376.4" cy="324.1" r="1.8" fill="#5cb6a9"/>
<circle cx="355.2" cy="307.6" r="1.8" fill="#ebb86c"/>
<circle cx="267.8" cy="277.9" r="1.8" fill="#f4fabd"/>
<circle cx="367.8" cy="299.3" r="1.8" fill="#ebb86c"/>
<circle cx="274.3" cy="274.2" r="1.8" fill="#bde4a0"/>
<circle cx="317.4" cy="291.8" r="1.8" fill="#5cb6a9"/>
<circle cx="421.5" cy="313.5" r="1.8" fill="#5cb6a9"/>
<circle cx="372.2" cy="290.0" r="1.8" fill="#5cb6a9"/>
<circle cx="280.6" cy="293.0" r="1.8" fill="#f4fabd"/>
<circle cx="242.0" cy="287.3" r="1.8" fill="#a10b49"/>
<circle cx="286.8" cy="298.5" r="1.8" fill="#ebb86c"/>
<circle cx="245.6" cy="270.2" r="1.8" fill="#5cb6a9"/>
<circle cx="382.7" cy="307.9" r="1.8" fill="#e2574a"/>
<circle cx="286.5" cy="316.2" r="1.8" fill="#a10b49"/>
<circle cx="194.0" cy="290.0" r="1.8" fill="#bde4a0"/>
<circle cx="359.9" cy="301.5" r="1.8" fill="#5cb6a9"/>
<circle cx="281.7" cy="278.9" r="1.8" fill="#5cb6a9"/>
<circle cx="458.2" cy="320.5" r="1.8" fill="#5cb6a9"/>
<circle cx="194.7" cy="279.7" r="1.8" fill="#f4fabd"/>
<circle cx="366.9" cy="304.2" r="1.8" fill="#bde4a0"/>
<circle cx="387.6" cy="318.4" r="1.8" fill="#e2574a"/>
<circle cx="328.8" cy="306.2" r="1.8" fill="#e2574a"/>
<circle cx="448.6" cy="326.1" r="1.8" fill="#e2574a"/>
<circle cx="336.6" cy="301.9" r="1.8" fill="#ebb86c"/>
<circle cx="367.3" cy="307.9" r="1.8" fill="#bde4a0"/>
<circle cx="327.5" cy="295.7" r="1.8" fill="#5cb6a9"/>
<circle cx="231.0" cy="300.4" r="1.8" fill="#e2574a"/>
<circle cx="418.7" cy="326.4" r="1.8" fill="#bde4a0"/>
<circle cx="267.6" cy="303.2" r="1.8" fill="#e2574a"/>
<circle cx="237.5" cy="292.7" r="1.8" fill="#f4fabd"/>
<circle cx="421.4" cy="323.6" r="1.8" fill="#5cb6a9"/>
<circle cx="312.9" cy="306.9" r="1.8" fill="#5cb6a9"/>
<circle cx="360.2" cy="294.7" r="1.8" fill="#5cb6a9"/>
<circle cx="240.9" cy="285.3" r="1.8" fill="#bde4a0"/>
<circle cx="427.2" cy="317.2" r="1.8" fill="#bde4a0"/>
<circle cx="421.1" cy="284.3" r="1.8" fill="#bde4a0"/>
<circle cx="359.4" cy="311.6" r="1.8" fill="#e2574a"/>
<circle cx="238.7" cy="300.0" r="1.8" fill="#bde4a0"/>
<circle cx="190.1" cy="292.9" r="1.8" fill="#bde4a0"/>
<circle cx="242.3" cy="284.0" r="1.8" fill="#f4fabd"/>
<circle cx="307.3" cy="308.8" r="1.8" fill="#a10b49"/>
<circle cx="306.5" cy="303.0" r="1.8" fill="#e2574a"/>
<circle cx="229.1" cy="292.6" r="1.8" fill="#bde4a0"/>
<circle cx="262.7" cy="289.4" r="1.8" fill="#5cb6a9"/>
<circle cx="194.8" cy="294.9" r="1.8" fill="#f4fabd"/>
<circle cx="283.5" cy="304.6" r="1.8" fill="#f4fabd"/>
<circle cx="231.1" cy="281.8" r="1.8" fill="#a10b49"/>
<circle cx="220.0" cy="283.8" r="1.8" fill="#e2574a"/>
<circle cx="330.6" cy="305.2" r="1.8" fill="#f4fabd"/>
<circle cx="367.0" cy="289.7" r="1.8" fill="#bde4a0"/>
<circle cx="331.5" cy="314.4" r="1.8" fill="#ebb86c"/>
<circle cx="392.8" cy="309.5" r="1.8" fill="#bde4a0"/>
<circle cx="413.2" cy="320.3" r="1.8" fill="#f4fabd"/>
<circle cx="229.3" cy="303.9" r="1.8" fill="#a10b49"/>
<circle cx="178.6" cy="271.8" r="1.8" fill="#ebb86c"/>
<circle cx="365.5" cy="320.5" r="1.8" fill="#bde4a0"/>
<circle cx="365.6" cy="321.7" r="1.8" fill="#a10b49"/>
<circle cx="269.8" cy="292.1" r="1.8" fill="#ebb86c"/>
<circle cx="291.6" cy="309.3" r="1.8" fill="#ebb86c"/>
<circle cx="408.4" cy="304.5" r="1.8" fill="#5cb6a9"/>
<circle cx="210.2" cy="296.3" r="1.8" fill="#f4fabd"/>
<circle cx="367.3" cy="301.0" r="1.8" fill="#e2574a"/>
<circle cx="270.8" cy="302.7" r="1.8" fill="#e2574a"/>
<circle cx="429.9" cy="296.6" r="1.8" fill="#5cb6a9"/>
<circle cx="250.7" cy="302.2" r="1.8" fill="#f4fabd"/>
<circle cx="339.0" cy="301.1" r="1.8" fill="#5cb6a9"/>
<circle cx="302.9" cy="305.5" r="1.8" fill="#f4fabd"/>
<circle cx="246.9" cy="278.6" r="1.8" fill="#5cb6a9"/>
<circle cx="369.4" cy="323.3" r="1.8" fill="#e2574a"/>
<circle cx="208.5" cy="277.9" r="1.8" fill="#f4fabd"/>
<circle cx="308.4" cy="307.3" r="1.8" fill="#f4fabd"/>
<circle cx="211.5" cy="279.8" r="1.8" fill="#bde4a0"/>
<circle cx="171.9" cy="281.3" r="1.8" fill="#ebb86c"/>
<circle cx="322.8" cy="310.4" r="1.8" fill="#ebb86c"/>
<circle cx="378.6" cy="301.9" r="1.8" fill="#5cb6a9"/>
<circle cx="321.7" cy="280.2" r="1.8" fill="#5cb6a9"/>
<circle cx="235.1" cy="306.4" r="1.8" fill="#e2574a"/>
<circle cx="378.1" cy="301.4" r="1.8" fill="#ebb86c"/>
<circle cx="389.7" cy="292.3" r="1.8" fill="#ebb86c"/>
<circle cx="413.5" cy="308.9" r="1.8" fill="#ebb86c"/>
<circle cx="414.2" cy="299.3" r="1.8" fill="#5cb6a9"/>
<circle cx="437.0" cy="315.2" r="1.8" fill="#bde4a0"/>
<circle cx="286.8" cy="311.2" r="1.8" fill="#ebb86c"/>
<circle cx="282.7" cy="298.3" r="1.8" fill="#5cb6a9"/>
<circle cx="469.2" cy="334.4" r="1.8" fill="#e2574a"/>
<circle cx="220.1" cy="290.1" r="1.8" fill="#f4fabd"/>
<circle cx="405.0" cy="302.0" r="1.8" fill="#ebb86c"/>
<circle cx="226.6" cy="287.3" r="1.8" fill="#bde4a0"/>
<circle cx="190.3" cy="270.4" r="1.8" fill="#bde4a0"/>
<circle cx="178.6" cy="289.2" r="1.8" fill="#ebb86c"/>
<circle cx="416.1" cy="299.1" r="1.8" fill="#bde4a0"/>
<circle cx="233.0" cy="305.1" r="1.8" fill="#f4fabd"/>
<circle cx="382.9" cy="320.4" r="1.8" fill="#bde4a0"/>
<circle cx="273.9" cy="291.9" r="1.8" fill="#f4fabd"/>
<circle cx="256.5" cy="303.4" r="1.8" fill="#a10b49"/>
<circle cx="318.3" cy="296.8" r="1.8" fill="#e2574a"/>
<circle cx="211.9" cy="298.3" r="1.8" fill="#bde4a0"/>
<circle cx="334.0" cy="327.4" r="1.8" fill="#e2574a"/>
<circle cx="250.1" cy="280.6" r="1.8" fill="#bde4a0"/>
<circle cx="219.8" cy="290.6" r="1.8" fill="#ebb86c"/>
<circle cx="415.1" cy="323.4" r="1.8" fill="#e2574a"/>
<circle cx="261.8" cy="289.5" r="1.8" fill="#ebb86c"/>
<circle cx="343.2" cy="308.4" r="1.8" fill="#ebb86c"/>
<circle cx="235.0" cy="273.4" r="1.8" fill="#bde4a0"/>
<circle cx="332.4" cy="296.1" r="1.8" fill="#bde4a0"/>
<circle cx="281.1" cy="290.4" r="1.8" fill="#f4fabd"/>
<circle cx="183.7" cy="276.2" r="1.8" fill="#ebb86c"/>
<circle cx="186.5" cy="284.3" r="1.8" fill="#ebb86c"/>
<circle cx="284.9" cy="289.4" r="1.8" fill="#e2574a"/>
<circle cx="315.0" cy="290.1" r="1.8" fill="#ebb86c"/>
<circle cx="367.7" cy="290.6" r="1.8" fill="#5cb6a9"/>
<circle cx="224.2" cy="297.5" r="1.8" fill="#bde4a0"/>
<circle cx="357.7" cy="292.6" r="1.8" fill="#f4fabd"/>
<circle cx="458.1" cy="330.0" r="1.8" fill="#f4fabd"/>
<circle cx="225.3" cy="285.7" r="1.8" fill="#ebb86c"/>
<circle cx="266.5" cy="288.0" r="1.8" fill="#e2574a"/>
<circle cx="378.7" cy="319.9" r="1.8" fill="#a10b49"/>
<circle cx="410.5" cy="319.2" r="1.8" fill="#bde4a0"/>
<circle cx="332.0" cy="297.5" r="1.8" fill="#f4fabd"/>
<circle cx="249.7" cy="279.8" r="1.8" fill="#ebb86c"/>
<circle cx="382.4" cy="303.1" r="1.8" fill="#f4fabd"/>
<circle cx="319.8" cy="317.8" r="1.8" fill="#a10b49"/>
<circle cx="178.4" cy="275.9" r="1.8" fill="#f4fabd"/>
<circle cx="190.9" cy="289.7" r="1.8" fill="#f4fabd"/>
<circle cx="336.2" cy="304.5" r="1.8" fill="#bde4a0"/>
<circle cx="391.8" cy="324.6" r="1.8" fill="#a10b49"/>
<circle cx="346.6" cy="283.6" r="1.8" fill="#5cb6a9"/>
<circle cx="270.3" cy="289.6" r="1.8" fill="#e2574a"/>
<circle cx="345.9" cy="291.9" r="1.8" fill="#bde4a0"/>
<circle cx="446.9" cy="329.2" r="1.8" fill="#e2574a"/>
<circle cx="454.5" cy="313.3" r="1.8" fill="#5cb6a9"/>
<circle cx="308.2" cy="292.5" r="1.8" fill="#bde4a0"/>
<circle cx="339.6" cy="289.3" r="1.8" fill="#5cb6a9"/>
<circle cx="206.9" cy="303.7" r="1.8" fill="#ebb86c"/>
<circle cx="314.5" cy="313.7" r="1.8" fill="#f4fabd"/>
<circle cx="247.2" cy="299.6" r="1.8" fill="#5cb6a9"/>
<circle cx="175.4" cy="272.7" r="1.8" fill="#f4fabd"/>
<circle cx="381.8" cy="287.0" r="1.8" fill="#5cb6a9"/>
<circle cx="365.2" cy="313.1" r="1.8" fill="#bde4a0"/>
<circle cx="185.2" cy="301.0" r="1.8" fill="#ebb86c"/>
<circle cx="406.2" cy="292.4" r="1.8" fill="#5cb6a9"/>
<circle cx="354.2" cy="304.5" r="1.8" fill="#ebb86c"/>
<circle cx="411.0" cy="313.5" r="1.8" fill="#f4fabd"/>
<circle cx="193.5" cy="300.5" r="1.8" fill="#e2574a"/>
<circle cx="230.2" cy="277.5" r="1.8" fill="#f4fabd"/>
<circle cx="365.4" cy="314.4" r="1.8" fill="#ebb86c"/>
<circle cx="418.3" cy="317.1" r="1.8" fill="#f4fabd"/>
<circle cx="301.6" cy="300.0" r="1.8" fill="#e2574a"/>
<circle cx="406.4" cy="301.6" r="1.8" fill="#ebb86c"/>
<circle cx="352.3" cy="310.1" r="1.8" fill="#5cb6a9"/>
<circle cx="327.1" cy="302.9" r="1.8" fill="#5cb6a9"/>
<circle cx="290.9" cy="301.1" r="1.8" fill="#bde4a0"/>
<circle cx="402.0" cy="318.0" r="1.8" fill="#e2574a"/>
<circle cx="194.2" cy="283.5" r="1.8" fill="#f4fabd"/>
<circle cx="264.9" cy="302.7" r="1.8" fill="#bde4a0"/>
<circle cx="345.2" cy="333.7" r="1.8" fill="#e2574a"/>
<circle cx="400.1" cy="323.8" r="1.8" fill="#f4fabd"/>
<circle cx="485.8" cy="330.1" r="1.8" fill="#bde4a0"/>
<circle cx="224.2" cy="299.6" r="1.8" fill="#ebb86c"/>
<circle cx="397.1" cy="311.2" r="1.8" fill="#f4fabd"/>
<circle cx="396.3" cy="294.9" r="1.8" fill="#5cb6a9"/>
<circle cx="174.1" cy="288.9" r="1.8" fill="#f4fabd"/>
<circle cx="238.2" cy="307.3" r="1.8" fill="#a10b49"/>
<circle cx="184.5" cy="284.2" r="1.8" fill="#e2574a"/>
<circle cx="294.0" cy="282.7" r="1.8" fill="#bde4a0"/>
<circle cx="487.9" cy="322.9" r="1.8" fill="#e2574a"/>
<circle cx="336.5" cy="286.4" r="1.8" fill="#5cb6a9"/>
<circle cx="421.6" cy="319.8" r="1.8" fill="#5cb6a9"/>
<circle cx="213.9" cy="289.3" r="1.8" fill="#ebb86c"/>
<circle cx="203.9" cy="297.7" r="1.8" fill="#ebb86c"/>
<circle cx="297.1" cy="310.7" r="1.8" fill="#e2574a"/>
<circle cx="199.6" cy="289.3" r="1.8" fill="#ebb86c"/>
<circle cx="227.9" cy="294.6" r="1.8" fill="#e2574a"/>
<circle cx="476.4" cy="327.2" r="1.8" fill="#bde4a0"/>
<circle cx="464.7" cy="309.8" r="1.8" fill="#f4fabd"/>
<circle cx="262.3" cy="285.2" r="1.8" fill="#5cb6a9"/>
<circle cx="241.4" cy="289.9" r="1.8" fill="#bde4a0"/>
<circle cx="376.8" cy="312.5" r="1.8" fill="#ebb86c"/>
<circle cx="184.6" cy="287.6" r="1.8" fill="#f4fabd"/>
<circle cx="231.1" cy="301.6" r="1.8" fill="#a10b49"/>
<circle cx="351.6" cy="291.7" r="1.8" fill="#5cb6a9"/>
<circle cx="407.2" cy="312.0" r="1.8" fill="#bde4a0"/>
<circle cx="263.6" cy="278.0" r="1.8" fill="#ebb86c"/>
<circle cx="235.7" cy="294.4" r="1.8" fill="#ebb86c"/>
<circle cx="333.4" cy="311.2" r="1.8" fill="#bde4a0"/>
<circle cx="291.8" cy="290.7" r="1.8" fill="#bde4a0"/>
<circle cx="320.8" cy="342.6" r="1.8" fill="#a10b49"/>
<circle cx="253.2" cy="271.7" r="1.8" fill="#5cb6a9"/>
<circle cx="267.3" cy="281.3" r="1.8" fill="#e2574a"/>
<circle cx="319.3" cy="303.2" r="1.8" fill="#f4fabd"/>
<circle cx="201.6" cy="276.9" r="1.8" fill="#bde4a0"/>
<circle cx="301.5" cy="309.5" r="1.8" fill="#a10b49"/>
<circle cx="236.7" cy="289.0" r="1.8" fill="#ebb86c"/>
<circle cx="315.6" cy="303.6" r="1.8" fill="#bde4a0"/>
<circle cx="416.1" cy="314.4" r="1.8" fill="#bde4a0"/>
<circle cx="459.3" cy="323.3" r="1.8" fill="#5cb6a9"/>
<circle cx="251.7" cy="290.0" r="1.8" fill="#bde4a0"/>
<circle cx="256.8" cy="291.2" r="1.8" fill="#ebb86c"/>
<circle cx="462.3" cy="308.7" r="1.8" fill="#bde4a0"/>
<circle cx="262.7" cy="308.4" r="1.8" fill="#bde4a0"/>
<circle cx="447.0" cy="321.9" r="1.8" fill="#a10b49"/>
<circle cx="174.1" cy="283.8" r="1.8" fill="#ebb86c"/>
<circle cx="237.1" cy="302.9" r="1.8" fill="#bde4a0"/>
<circle cx="390.1" cy="290.6" r="1.8" fill="#5cb6a9"/>
<circle cx="287.4" cy="308.0" r="1.8" fill="#e2574a"/>
<circle cx="293.2" cy="287.5" r="1.8" fill="#5cb6a9"/>
<circle cx="323.1" cy="309.3" r="1.8" fill="#e2574a"/>
<circle cx="330.4" cy="301.5" r="1.8" fill="#f4fabd"/>
<circle cx="227.0" cy="274.3" r="1.8" fill="#bde4a0"/>
<circle cx="223.2" cy="280.8" r="1.8" fill="#ebb86c"/>
<circle cx="326.4" cy="316.5" r="1.8" fill="#a10b49"/>
<circle cx="382.8" cy="323.7" r="1.8" fill="#f4fabd"/>
<circle cx="172.9" cy="281.9" r="1.8" fill="#f4fabd"/>
<circle cx="315.0" cy="288.6" r="1.8" fill="#5cb6a9"/>
<circle cx="231.3" cy="303.5" r="1.8" fill="#f4fabd"/>
<circle cx="433.2" cy="295.3" r="1.8" fill="#ebb86c"/>
<circle cx="266.8" cy="297.4" r="1.8" fill="#a10b49"/>
<circle cx="363.3" cy="311.9" r="1.8" fill="#bde4a0"/>
<circle cx="193.2" cy="284.5" r="1.8" fill="#e2574a"/>
<circle cx="394.3" cy="299.9" r="1.8" fill="#f4fabd"/>
<circle cx="229.6" cy="297.4" r="1.8" fill="#a10b49"/>
<circle cx="227.9" cy="279.5" r="1.8" fill="#bde4a0"/>
<circle cx="190.8" cy="286.8" r="1.8" fill="#ebb86c"/>
<circle cx="492.0" cy="318.0" r="1.8" fill="#f4fabd"/>
<circle cx="382.0" cy="310.3" r="1.8" fill="#ebb86c"/>
<circle cx="325.2" cy="291.1" r="1.8" fill="#bde4a0"/>
<circle cx="339.7" cy="293.0" r="1.8" fill="#f4fabd"/>
<circle cx="223.8" cy="300.8" r="1.8" fill="#bde4a0"/>
<circle cx="332.8" cy="306.8" r="1.8" fill="#bde4a0"/>
<circle cx="190.5" cy="274.9" r="1.8" fill="#bde4a0"/>
<circle cx="336.7" cy="305.5" r="1.8" fill="#e2574a"/>
<circle cx="224.0" cy="269.8" r="1.8" fill="#ebb86c"/>
<circle cx="202.9" cy="302.7" r="1.8" fill="#ebb86c"/>
<circle cx="395.2" cy="293.2" r="1.8" fill="#5cb6a9"/>
<circle cx="368.3" cy="308.0" r="1.8" fill="#5cb6a9"/>
<circle cx="187.2" cy="282.8" r="1.8" fill="#e2574a"/>
<circle cx="299.7" cy="294.7" r="1.8" fill="#f4fabd"/>
<circle cx="343.7" cy="301.9" r="1.8" fill="#f4fabd"/>
<circle cx="444.1" cy="306.6" r="1.8" fill="#5cb6a9"/>
<circle cx="237.0" cy="295.6" r="1.8" fill="#ebb86c"/>
<circle cx="520.0" cy="309.7" r="1.8" fill="#5cb6a9"/>
<circle cx="336.7" cy="302.7" r="1.8" fill="#bde4a0"/>
<circle cx="181.2" cy="281.2" r="1.8" fill="#f4fabd"/>
<circle cx="223.3" cy="277.1" r="1.8" fill="#e2574a"/>
<circle cx="325.3" cy="297.4" r="1.8" fill="#5cb6a9"/>
<circle cx="418.7" cy="315.5" r="1.8" fill="#ebb86c"/>
<circle cx="448.0" cy="325.1" r="1.8" fill="#f4fabd"/>
<circle cx="289.1" cy="304.1" r="1.8" fill="#bde4a0"/>
<circle cx="176.6" cy="280.8" r="1.8" fill="#ebb86c"/>
<circle cx="190.7" cy="285.6" r="1.8" fill="#e2574a"/>
<circle cx="210.0" cy="270.4" r="1.8" fill="#f4fabd"/>
<circle cx="194.9" cy="277.7" r="1.8" fill="#f4fabd"/>
<circle cx="340.4" cy="316.5" r="1.8" fill="#bde4a0"/>
<circle cx="360.7" cy="291.9" r="1.8" fill="#f4fabd"/>
<circle cx="437.8" cy="320.5" r="1.8" fill="#5cb6a9"/>
<circle cx="285.8" cy="300.9" r="1.8" fill="#f4fabd"/>
<circle cx="373.8" cy="293.6" r="1.8" fill="#ebb86c"/>
<circle cx="197.6" cy="280.6" r="1.8" fill="#f4fabd"/>
<circle cx="425.6" cy="313.7" r="1.8" fill="#bde4a0"/>
<circle cx="454.1" cy="305.4" r="1.8" fill="#f4fabd"/>
<circle cx="382.5" cy="312.8" r="1.8" fill="#ebb86c"/>
<circle cx="331.2" cy="312.3" r="1.8" fill="#e2574a"/>
<circle cx="336.8" cy="300.9" r="1.8" fill="#e2574a"/>
<circle cx="171.5" cy="292.4" r="1.8" fill="#f4fabd"/>
<circle cx="294.1" cy="295.0" r="1.8" fill="#bde4a0"/>
<circle cx="351.6" cy="304.9" r="1.8" fill="#5cb6a9"/>
<circle cx="323.1" cy="304.9" r="1.8" fill="#f4fabd"/>
<circle cx="306.7" cy="299.8" r="1.8" fill="#ebb86c"/>
<circle cx="323.0" cy="309.3" r="1.8" fill="#f4fabd"/>
<circle cx="179.6" cy="292.6" r="1.8" fill="#ebb86c"/>
<circle cx="209.7" cy="283.6" r="1.8" fill="#f4fabd"/>
<circle cx="233.9" cy="305.5" r="1.8" fill="#e2574a"/>
<circle cx="241.0" cy="280.7" r="1.8" fill="#bde4a0"/>
<circle cx="291.0" cy="294.0" r="1.8" fill="#f4fabd"/>
<circle cx="353.5" cy="306.5" r="1.8" fill="#5cb6a9"/>
<circle cx="234.5" cy="301.3" r="1.8" fill="#ebb86c"/>
<circle cx="353.5" cy="312.7" r="1.8" fill="#a10b49"/>
<circle cx="280.1" cy="305.9" r="1.8" fill="#e2574a"/>
<circle cx="414.0" cy="327.3" r="1.8" fill="#5cb6a9"/>
<circle cx="380.4" cy="309.2" r="1.8" fill="#bde4a0"/>
<circle cx="275.1" cy="295.5" r="1.8" fill="#ebb86c"/>
<circle cx="367.8" cy="314.7" r="1.8" fill="#ebb86c"/>
<circle cx="216.6" cy="301.1" r="1.8" fill="#f4fabd"/>
<circle cx="348.9" cy="300.0" r="1.8" fill="#bde4a0"/>
<circle cx="367.6" cy="314.2" r="1.8" fill="#a10b49"/>
<circle cx="284.1" cy="292.4" r="1.8" fill="#bde4a0"/>
<circle cx="253.1" cy="291.5" r="1.8" fill="#5cb6a9"/>
<circle cx="197.8" cy="292.2" r="1.8" fill="#ebb86c"/>
<circle cx="299.7" cy="312.2" r="1.8" fill="#5cb6a9"/>
<circle cx="277.3" cy="308.4" r="1.8" fill="#ebb86c"/>
<circle cx="427.5" cy="320.4" r="1.8" fill="#5cb6a9"/>
<circle cx="250.8" cy="286.3" r="1.8" fill="#ebb86c"/>
<circle cx="371.7" cy="295.2" r="1.8" fill="#5cb6a9"/>
<circle cx="483.6" cy="307.9" r="1.8" fill="#f4fabd"/>
<circle cx="203.8" cy="303.6" r="1.8" fill="#ebb86c"/>
<circle cx="309.4" cy="292.6" r="1.8" fill="#ebb86c"/>
<circle cx="382.2" cy="298.2" r="1.8" fill="#bde4a0"/>
<circle cx="305.8" cy="301.7" r="1.8" fill="#5cb6a9"/>
<circle cx="273.0" cy="313.4" r="1.8" fill="#ebb86c"/>
<circle cx="243.4" cy="290.6" r="1.8" fill="#bde4a0"/>
<circle cx="208.0" cy="295.7" r="1.8" fill="#f4fabd"/>
<circle cx="349.6" cy="315.2" r="1.8" fill="#bde4a0"/>
<circle cx="399.0" cy="298.1" r="1.8" fill="#f4fabd"/>
<circle cx="285.4" cy="301.5" r="1.8" fill="#ebb86c"/>
<circle cx="330.9" cy="281.5" r="1.8" fill="#5cb6a9"/>
<circle cx="387.4" cy="306.1" r="1.8" fill="#ebb86c"/>
<circle cx="209.1" cy="285.8" r="1.8" fill="#bde4a0"/>
<circle cx="263.5" cy="291.1" r="1.8" fill="#ebb86c"/>
<circle cx="326.5" cy="288.8" r="1.8" fill="#f4fabd"/>
<circle cx="328.9" cy="298.1" r="1.8" fill="#bde4a0"/>
<circle cx="388.5" cy="306.3" r="1.8" fill="#e2574a"/>
<circle cx="308.4" cy="299.0" r="1.8" fill="#5cb6a9"/>
<circle cx="474.3" cy="327.0" r="1.8" fill="#f4fabd"/>
<circle cx="369.9" cy="303.4" r="1.8" fill="#5cb6a9"/>
<circle cx="324.4" cy="288.5" r="1.8" fill="#e2574a"/>
<circle cx="323.4" cy="305.5" r="1.8" fill="#bde4a0"/>
<circle cx="215.0" cy="277.2" r="1.8" fill="#ebb86c"/>
<circle cx="338.9" cy="301.6" r="1.8" fill="#ebb86c"/>
<circle cx="486.8" cy="328.6" r="1.8" fill="#5cb6a9"/>
<circle cx="365.9" cy="290.5" r="1.8" fill="#5cb6a9"/>
<circle cx="234.0" cy="277.1" r="1.8" fill="#bde4a0"/>
<circle cx="383.2" cy="322.2" r="1.8" fill="#e2574a"/>
<circle cx="206.5" cy="281.9" r="1.8" fill="#e2574a"/>
<circle cx="388.8" cy="318.3" r="1.8" fill="#bde4a0"/>
<circle cx="173.0" cy="277.8" r="1.8" fill="#f4fabd"/>
<circle cx="275.1" cy="301.4" r="1.8" fill="#bde4a0"/>
<circle cx="255.1" cy="282.7" r="1.8" fill="#e2574a"/>
<circle cx="350.8" cy="295.4" r="1.8" fill="#5cb6a9"/>
<circle cx="279.2" cy="316.7" r="1.8" fill="#ebb86c"/>
<circle cx="196.2" cy="298.4" r="1.8" fill="#f4fabd"/>
<circle cx="234.7" cy="293.6" r="1.8" fill="#f4fabd"/>
<circle cx="173.9" cy="267.2" r="1.8" fill="#ebb86c"/>
<circle cx="374.5" cy="302.6" r="1.8" fill="#5cb6a9"/>
<circle cx="373.8" cy="310.1" r="1.8" fill="#f4fabd"/>
<circle cx="378.0" cy="326.7" r="1.8" fill="#a10b49"/>
<circle cx="418.3" cy="310.0" r="1.8" fill="#f4fabd"/>
<circle cx="306.3" cy="285.4" r="1.8" fill="#5cb6a9"/>
<circle cx="174.3" cy="281.1" r="1.8" fill="#ebb86c"/>
<circle cx="387.7" cy="304.8" r="1.8" fill="#5cb6a9"/>
<circle cx="236.1" cy="290.0" r="1.8" fill="#ebb86c"/>
<circle cx="353.9" cy="314.0" r="1.8" fill="#f4fabd"/>
<circle cx="238.4" cy="277.2" r="1.8" fill="#f4fabd"/>
<circle cx="283.5" cy="289.9" r="1.8" fill="#5cb6a9"/>
<circle cx="355.8" cy="294.4" r="1.8" fill="#bde4a0"/>
<circle cx="277.9" cy="301.8" r="1.8" fill="#f4fabd"/>
<circle cx="372.1" cy="293.0" r="1.8" fill="#5cb6a9"/>
<circle cx="260.2" cy="279.9" r="1.8" fill="#f4fabd"/>
<circle cx="243.9" cy="291.4" r="1.8" fill="#e2574a"/>
<circle cx="181.7" cy="266.5" r="1.8" fill="#f4fabd"/>
<circle cx="232.6" cy="282.8" r="1.8" fill="#f4fabd"/>
<circle cx="367.8" cy="316.9" r="1.8" fill="#a10b49"/>
<circle cx="375.2" cy="303.0" r="1.8" fill="#5cb6a9"/>
<circle cx="386.7" cy="303.8" r="1.8" fill="#e2574a"/>
<circle cx="256.0" cy="292.6" r="1.8" fill="#5cb6a9"/>
<circle cx="257.3" cy="299.3" r="1.8" fill="#e2574a"/>
<circle cx="352.7" cy="304.8" r="1.8" fill="#f4fabd"/>
<circle cx="363.7" cy="296.8" r="1.8" fill="#ebb86c"/>
<circle cx="267.7" cy="278.0" r="1.8" fill="#bde4a0"/>
<circle cx="313.1" cy="307.4" r="1.8" fill="#e2574a"/>
<circle cx="346.8" cy="302.0" r="1.8" fill="#bde4a0"/>
<circle cx="342.7" cy="296.5" r="1.8" fill="#5cb6a9"/>
<circle cx="292.5" cy="298.5" r="1.8" fill="#e2574a"/>
<circle cx="260.2" cy="291.4" r="1.8" fill="#5cb6a9"/>
<circle cx="280.3" cy="304.9" r="1.8" fill="#5cb6a9"/>
<circle cx="235.1" cy="277.0" r="1.8" fill="#ebb86c"/>
<circle cx="207.9" cy="296.6" r="1.8" fill="#e2574a"/>
<circle cx="331.6" cy="288.3" r="1.8" fill="#bde4a0"/>
<circle cx="398.2" cy="313.5" r="1.8" fill="#5cb6a9"/>
<circle cx="219.8" cy="299.7" r="1.8" fill="#ebb86c"/>
<circle cx="266.7" cy="296.0" r="1.8" fill="#ebb86c"/>
<circle cx="447.2" cy="297.3" r="1.8" fill="#5cb6a9"/>
<circle cx="237.7" cy="286.6" r="1.8" fill="#f4fabd"/>
<circle cx="425.9" cy="307.2" r="1.8" fill="#5cb6a9"/>
<circle cx="239.8" cy="288.0" r="1.8" fill="#ebb86c"/>
<circle cx="408.9" cy="319.4" r="1.8" fill="#e2574a"/>
<circle cx="277.9" cy="309.5" r="1.8" fill="#a10b49"/>
<circle cx="379.3" cy="309.3" r="1.8" fill="#5cb6a9"/>
<circle cx="436.6" cy="330.9" r="1.8" fill="#a10b49"/>
<circle cx="294.2" cy="310.0" r="1.8" fill="#bde4a0"/>
<circle cx="320.1" cy="316.0" r="1.8" fill="#f4fabd"/>
<circle cx="222.0" cy="293.6" r="1.8" fill="#ebb86c"/>
<circle cx="312.9" cy="280.8" r="1.8" fill="#bde4a0"/>
<circle cx="304.8" cy="282.1" r="1.8" fill="#bde4a0"/>
<circle cx="205.3" cy="288.1" r="1.8" fill="#f4fabd"/>
<circle cx="319.9" cy="311.4" r="1.8" fill="#e2574a"/>
<circle cx="432.0" cy="318.9" r="1.8" fill="#f4fabd"/>
<circle cx="184.0" cy="268.2" r="1.8" fill="#ebb86c"/>
<circle cx="444.9" cy="327.1" r="1.8" fill="#ebb86c"/>
<circle cx="368.2" cy="298.6" r="1.8" fill="#5cb6a9"/>
<circle cx="430.4" cy="314.0" r="1.8" fill="#5cb6a9"/>
<circle cx="326.8" cy="289.2" r="1.8" fill="#f4fabd"/>
<circle cx="363.6" cy="311.3" r="1.8" fill="#5cb6a9"/>
<circle cx="176.9" cy="286.1" r="1.8" fill="#ebb86c"/>
<circle cx="417.4" cy="322.3" r="1.8" fill="#bde4a0"/>
<circle cx="234.0" cy="286.9" r="1.8" fill="#a10b49"/>
<circle cx="209.4" cy="294.4" r="1.8" fill="#ebb86c"/>
<circle cx="370.0" cy="319.7" r="1.8" fill="#5cb6a9"/>
<circle cx="321.2" cy="341.9" r="1.8" fill="#a10b49"/>
<circle cx="530.0" cy="330.0" r="1.8" fill="#ebb86c"/>
<circle cx="182.5" cy="297.0" r="1.8" fill="#e2574a"/>
<circle cx="229.0" cy="307.5" r="1.8" fill="#ebb86c"/>
<circle cx="265.9" cy="312.9" r="1.8" fill="#e2574a"/>
<circle cx="431.0" cy="348.4" r="1.8" fill="#a10b49"/>
<circle cx="490.0" cy="306.0" r="1.8" fill="#bde4a0"/>
<circle cx="508.6" cy="367.0" r="1.8" fill="#a10b49"/>
<circle cx="515.0" cy="316.0" r="1.8" fill="#bde4a0"/>
<circle cx="438.7" cy="357.0" r="1.8" fill="#a10b49"/>
<circle cx="182.5" cy="294.2" r="1.8" fill="#ebb86c"/>
<circle cx="294.7" cy="313.8" r="1.8" fill="#5d50a0"/>
<circle cx="424.0" cy="362.9" r="1.8" fill="#a10b49"/>
<circle cx="427.0" cy="340.9" r="1.8" fill="#e2574a"/>
<circle cx="393.6" cy="325.0" r="1.8" fill="#a10b49"/>
<circle cx="510.3" cy="335.2" r="1.8" fill="#5cb6a9"/>
<circle cx="345.7" cy="341.9" r="1.8" fill="#a10b49"/>
<line x1="194.0" y1="290.6" x2="522.5" y2="355.2" stroke="#a10b49" stroke-width="2.6" stroke-linecap="round"/>
<line x1="180.0" y1="284.8" x2="552.3" y2="344.0" stroke="#e2574a" stroke-width="2.6" stroke-linecap="round"/>
<line x1="172.0" y1="281.3" x2="537.0" y2="334.9" stroke="#f4fabd" stroke-width="2.6" stroke-linecap="round"/>
<line x1="176.0" y1="283.0" x2="538.8" y2="334.9" stroke="#ebb86c" stroke-width="2.6" stroke-linecap="round"/>
<line x1="190.0" y1="282.6" x2="500.0" y2="323.4" stroke="#bde4a0" stroke-width="2.6" stroke-linecap="round"/>
<line x1="202.0" y1="285.8" x2="524.0" y2="319.4" stroke="#5cb6a9" stroke-width="2.6" stroke-linecap="round"/>
<line x1="244.5" y1="300.0" x2="469.5" y2="313.4" stroke="#5d50a0" stroke-width="2.6" stroke-linecap="round"/>
</g>
<rect x="59.0" y="208.2" width="528.5" height="161.0" fill="none" stroke="#2b2b2b" stroke-width="1.4"/>
<path d="M55.00 369.20H59.00M59.00 369.20V373.20M55.00 328.95H59.00M191.12 369.20V373.20M55.00 288.70H59.00M323.25 369.20V373.20M55.00 248.45H59.00M455.38 369.20V373.20M55.00 208.20H59.00M587.50 369.20V373.20" stroke="#2b2b2b" stroke-width="1.3" fill="none"/>
<text transform="translate(50.6,375.60) scale(0.95,1)" font-size="18" text-anchor="end">0</text>
<text transform="translate(59.00,390.10) scale(0.95,1)" font-size="18" text-anchor="middle">0.0</text>
<text transform="translate(50.6,335.35) scale(0.95,1)" font-size="18" text-anchor="end">10</text>
<text transform="translate(191.12,390.10) scale(0.95,1)" font-size="18" text-anchor="middle">0.1</text>
<text transform="translate(50.6,295.10) scale(0.95,1)" font-size="18" text-anchor="end">20</text>
<text transform="translate(323.25,390.10) scale(0.95,1)" font-size="18" text-anchor="middle">0.2</text>
<text transform="translate(50.6,254.85) scale(0.95,1)" font-size="18" text-anchor="end">30</text>
<text transform="translate(455.38,390.10) scale(0.95,1)" font-size="18" text-anchor="middle">0.3</text>
<text transform="translate(50.6,214.60) scale(0.95,1)" font-size="18" text-anchor="end">40</text>
<text transform="translate(587.50,390.10) scale(0.95,1)" font-size="18" text-anchor="middle">0.4</text>
<text transform="translate(72.6,228.60) scale(0.94,1)" font-size="20.8" font-weight="bold">SOILSCAPE</text>
<defs><clipPath id="c2"><rect x="59.0" y="409.4" width="528.5" height="161.0"/></clipPath></defs>
<path d="M191.12 409.40V570.40M323.25 409.40V570.40M455.38 409.40V570.40M59.00 530.15H587.50M59.00 489.90H587.50M59.00 449.65H587.50" stroke="#b0b0b0" stroke-width="1" stroke-dasharray="3.6 1.5" fill="none"/>
<g clip-path="url(#c2)">
<circle cx="564.0" cy="544.4" r="1.8" fill="#a10b49"/>
<circle cx="407.7" cy="540.7" r="1.8" fill="#a10b49"/>
<circle cx="555.0" cy="520.0" r="1.8" fill="#f4fabd"/>
<circle cx="433.0" cy="523.9" r="1.8" fill="#a10b49"/>
<circle cx="479.9" cy="539.1" r="1.8" fill="#a10b49"/>
<circle cx="458.0" cy="535.6" r="1.8" fill="#ebb86c"/>
<circle cx="575.0" cy="538.0" r="1.8" fill="#e2574a"/>
<circle cx="246.7" cy="505.2" r="1.8" fill="#e2574a"/>
<circle cx="480.4" cy="539.6" r="1.8" fill="#a10b49"/>
<circle cx="570.0" cy="535.0" r="1.8" fill="#ebb86c"/>
<circle cx="393.2" cy="523.4" r="1.8" fill="#a10b49"/>
<circle cx="333.9" cy="524.6" r="1.8" fill="#e2574a"/>
<circle cx="354.2" cy="513.4" r="1.8" fill="#a10b49"/>
<circle cx="246.3" cy="510.3" r="1.8" fill="#a10b49"/>
<circle cx="336.0" cy="515.2" r="1.8" fill="#a10b49"/>
<circle cx="298.8" cy="516.2" r="1.8" fill="#ebb86c"/>
<circle cx="361.2" cy="521.1" r="1.8" fill="#a10b49"/>
<circle cx="366.4" cy="546.1" r="1.8" fill="#a10b49"/>
<circle cx="250.2" cy="508.0" r="1.8" fill="#a10b49"/>
<circle cx="469.9" cy="551.2" r="1.8" fill="#a10b49"/>
<circle cx="399.0" cy="529.7" r="1.8" fill="#e2574a"/>
<circle cx="447.6" cy="489.7" r="1.8" fill="#a10b49"/>
<circle cx="414.3" cy="523.4" r="1.8" fill="#a10b49"/>
<circle cx="580.8" cy="545.4" r="1.8" fill="#a10b49"/>
<circle cx="545.0" cy="515.0" r="1.8" fill="#bde4a0"/>
<circle cx="395.1" cy="540.2" r="1.8" fill="#a10b49"/>
<circle cx="507.5" cy="540.4" r="1.8" fill="#a10b49"/>
<circle cx="258.9" cy="509.9" r="1.8" fill="#a10b49"/>
<circle cx="248.4" cy="502.9" r="1.8" fill="#a10b49"/>
<circle cx="518.5" cy="554.9" r="1.8" fill="#a10b49"/>
<circle cx="238.1" cy="507.5" r="1.8" fill="#a10b49"/>
<circle cx="260.3" cy="502.1" r="1.8" fill="#a10b49"/>
<circle cx="290.0" cy="527.9" r="1.8" fill="#a10b49"/>
<circle cx="380.8" cy="539.8" r="1.8" fill="#a10b49"/>
<circle cx="565.3" cy="531.2" r="1.8" fill="#a10b49"/>
<circle cx="271.7" cy="508.7" r="1.8" fill="#ebb86c"/>
<circle cx="370.6" cy="546.1" r="1.8" fill="#a10b49"/>
<circle cx="415.7" cy="492.0" r="1.8" fill="#bde4a0"/>
<circle cx="345.0" cy="504.5" r="1.8" fill="#f4fabd"/>
<circle cx="321.2" cy="477.2" r="1.8" fill="#ebb86c"/>
<circle cx="274.6" cy="500.9" r="1.8" fill="#e2574a"/>
<circle cx="218.0" cy="483.1" r="1.8" fill="#f4fabd"/>
<circle cx="234.3" cy="488.6" r="1.8" fill="#f4fabd"/>
<circle cx="352.3" cy="497.4" r="1.8" fill="#f4fabd"/>
<circle cx="260.3" cy="468.3" r="1.8" fill="#bde4a0"/>
<circle cx="454.6" cy="515.5" r="1.8" fill="#ebb86c"/>
<circle cx="292.5" cy="493.4" r="1.8" fill="#f4fabd"/>
<circle cx="312.6" cy="493.8" r="1.8" fill="#ebb86c"/>
<circle cx="212.7" cy="490.4" r="1.8" fill="#bde4a0"/>
<circle cx="276.1" cy="491.3" r="1.8" fill="#bde4a0"/>
<circle cx="334.7" cy="481.6" r="1.8" fill="#ebb86c"/>
<circle cx="503.7" cy="509.1" r="1.8" fill="#f4fabd"/>
<circle cx="387.4" cy="508.8" r="1.8" fill="#e2574a"/>
<circle cx="273.4" cy="498.1" r="1.8" fill="#e2574a"/>
<circle cx="324.9" cy="493.4" r="1.8" fill="#e2574a"/>
<circle cx="275.1" cy="479.6" r="1.8" fill="#ebb86c"/>
<circle cx="333.4" cy="493.1" r="1.8" fill="#f4fabd"/>
<circle cx="398.4" cy="510.7" r="1.8" fill="#e2574a"/>
<circle cx="262.4" cy="482.8" r="1.8" fill="#ebb86c"/>
<circle cx="311.4" cy="491.0" r="1.8" fill="#ebb86c"/>
<circle cx="257.8" cy="483.3" r="1.8" fill="#5cb6a9"/>
<circle cx="366.6" cy="505.7" r="1.8" fill="#a10b49"/>
<circle cx="409.6" cy="496.1" r="1.8" fill="#f4fabd"/>
<circle cx="327.3" cy="498.0" r="1.8" fill="#ebb86c"/>
<circle cx="321.0" cy="518.0" r="1.8" fill="#ebb86c"/>
<circle cx="410.8" cy="494.4" r="1.8" fill="#5cb6a9"/>
<circle cx="271.1" cy="476.0" r="1.8" fill="#f4fabd"/>
<circle cx="431.5" cy="512.7" r="1.8" fill="#bde4a0"/>
<circle cx="313.2" cy="497.3" r="1.8" fill="#bde4a0"/>
<circle cx="285.1" cy="484.6" r="1.8" fill="#e2574a"/>
<circle cx="231.3" cy="489.6" r="1.8" fill="#e2574a"/>
<circle cx="305.4" cy="502.3" r="1.8" fill="#ebb86c"/>
<circle cx="313.0" cy="503.2" r="1.8" fill="#a10b49"/>
<circle cx="357.9" cy="499.6" r="1.8" fill="#e2574a"/>
<circle cx="324.9" cy="484.2" r="1.8" fill="#ebb86c"/>
<circle cx="293.1" cy="497.3" r="1.8" fill="#bde4a0"/>
<circle cx="345.3" cy="497.8" r="1.8" fill="#ebb86c"/>
<circle cx="232.8" cy="480.3" r="1.8" fill="#ebb86c"/>
<circle cx="273.2" cy="477.9" r="1.8" fill="#ebb86c"/>
<circle cx="283.2" cy="479.0" r="1.8" fill="#f4fabd"/>
<circle cx="415.7" cy="510.6" r="1.8" fill="#e2574a"/>
<circle cx="368.8" cy="495.2" r="1.8" fill="#5cb6a9"/>
<circle cx="277.9" cy="489.8" r="1.8" fill="#bde4a0"/>
<circle cx="394.6" cy="492.3" r="1.8" fill="#5cb6a9"/>
<circle cx="345.7" cy="489.8" r="1.8" fill="#ebb86c"/>
<circle cx="300.1" cy="493.8" r="1.8" fill="#bde4a0"/>
<circle cx="415.4" cy="535.1" r="1.8" fill="#e2574a"/>
<circle cx="464.6" cy="514.9" r="1.8" fill="#ebb86c"/>
<circle cx="306.8" cy="486.2" r="1.8" fill="#f4fabd"/>
<circle cx="327.7" cy="495.0" r="1.8" fill="#f4fabd"/>
<circle cx="311.8" cy="505.1" r="1.8" fill="#5cb6a9"/>
<circle cx="316.6" cy="491.2" r="1.8" fill="#e2574a"/>
<circle cx="435.0" cy="494.1" r="1.8" fill="#f4fabd"/>
<circle cx="408.9" cy="533.7" r="1.8" fill="#a10b49"/>
<circle cx="447.8" cy="503.7" r="1.8" fill="#5cb6a9"/>
<circle cx="231.6" cy="491.5" r="1.8" fill="#e2574a"/>
<circle cx="417.3" cy="495.4" r="1.8" fill="#bde4a0"/>
<circle cx="259.7" cy="490.0" r="1.8" fill="#ebb86c"/>
<circle cx="464.4" cy="515.1" r="1.8" fill="#ebb86c"/>
<circle cx="326.2" cy="483.1" r="1.8" fill="#bde4a0"/>
<circle cx="240.3" cy="485.7" r="1.8" fill="#f4fabd"/>
<circle cx="344.7" cy="502.1" r="1.8" fill="#f4fabd"/>
<circle cx="388.6" cy="512.3" r="1.8" fill="#a10b49"/>
<circle cx="279.0" cy="480.2" r="1.8" fill="#5cb6a9"/>
<circle cx="382.5" cy="507.9" r="1.8" fill="#ebb86c"/>
<circle cx="430.6" cy="530.2" r="1.8" fill="#ebb86c"/>
<circle cx="466.8" cy="509.0" r="1.8" fill="#bde4a0"/>
<circle cx="480.3" cy="509.7" r="1.8" fill="#5d50a0"/>
<circle cx="230.4" cy="492.3" r="1.8" fill="#f4fabd"/>
<circle cx="224.9" cy="480.9" r="1.8" fill="#f4fabd"/>
<circle cx="211.6" cy="481.0" r="1.8" fill="#bde4a0"/>
<circle cx="239.6" cy="485.4" r="1.8" fill="#ebb86c"/>
<circle cx="545.3" cy="528.4" r="1.8" fill="#ebb86c"/>
<circle cx="262.1" cy="472.5" r="1.8" fill="#bde4a0"/>
<circle cx="310.9" cy="474.0" r="1.8" fill="#f4fabd"/>
<circle cx="444.9" cy="516.7" r="1.8" fill="#f4fabd"/>
<circle cx="242.7" cy="472.6" r="1.8" fill="#bde4a0"/>
<circle cx="281.6" cy="483.8" r="1.8" fill="#f4fabd"/>
<circle cx="378.9" cy="505.7" r="1.8" fill="#ebb86c"/>
<circle cx="396.7" cy="508.7" r="1.8" fill="#ebb86c"/>
<circle cx="247.4" cy="488.7" r="1.8" fill="#bde4a0"/>
<circle cx="487.2" cy="533.4" r="1.8" fill="#e2574a"/>
<circle cx="302.6" cy="492.3" r="1.8" fill="#f4fabd"/>
<circle cx="227.0" cy="483.0" r="1.8" fill="#ebb86c"/>
<circle cx="285.5" cy="493.8" r="1.8" fill="#bde4a0"/>
<circle cx="271.8" cy="478.7" r="1.8" fill="#e2574a"/>
<circle cx="444.1" cy="519.1" r="1.8" fill="#ebb86c"/>
<circle cx="261.8" cy="488.9" r="1.8" fill="#f4fabd"/>
<circle cx="392.5" cy="483.9" r="1.8" fill="#bde4a0"/>
<circle cx="270.3" cy="503.1" r="1.8" fill="#f4fabd"/>
<circle cx="273.6" cy="485.7" r="1.8" fill="#e2574a"/>
<circle cx="355.2" cy="498.1" r="1.8" fill="#f4fabd"/>
<circle cx="371.3" cy="495.5" r="1.8" fill="#bde4a0"/>
<circle cx="371.3" cy="493.5" r="1.8" fill="#5d50a0"/>
<circle cx="573.1" cy="532.5" r="1.8" fill="#ebb86c"/>
<circle cx="268.1" cy="486.8" r="1.8" fill="#bde4a0"/>
<circle cx="273.4" cy="495.1" r="1.8" fill="#e2574a"/>
<circle cx="358.9" cy="490.6" r="1.8" fill="#ebb86c"/>
<circle cx="350.2" cy="487.4" r="1.8" fill="#f4fabd"/>
<circle cx="407.9" cy="501.6" r="1.8" fill="#f4fabd"/>
<circle cx="219.4" cy="475.6" r="1.8" fill="#ebb86c"/>
<circle cx="416.2" cy="507.3" r="1.8" fill="#f4fabd"/>
<circle cx="374.3" cy="508.8" r="1.8" fill="#a10b49"/>
<circle cx="258.5" cy="483.9" r="1.8" fill="#ebb86c"/>
<circle cx="235.9" cy="483.9" r="1.8" fill="#ebb86c"/>
<circle cx="547.1" cy="539.0" r="1.8" fill="#a10b49"/>
<circle cx="324.1" cy="481.4" r="1.8" fill="#bde4a0"/>
<circle cx="245.9" cy="491.7" r="1.8" fill="#ebb86c"/>
<circle cx="331.8" cy="481.3" r="1.8" fill="#bde4a0"/>
<circle cx="322.4" cy="485.2" r="1.8" fill="#bde4a0"/>
<circle cx="321.5" cy="512.2" r="1.8" fill="#a10b49"/>
<circle cx="239.2" cy="482.5" r="1.8" fill="#5cb6a9"/>
<circle cx="286.4" cy="496.3" r="1.8" fill="#e2574a"/>
<circle cx="392.4" cy="508.9" r="1.8" fill="#bde4a0"/>
<circle cx="245.7" cy="474.1" r="1.8" fill="#bde4a0"/>
<circle cx="411.6" cy="508.2" r="1.8" fill="#f4fabd"/>
<circle cx="224.1" cy="480.9" r="1.8" fill="#ebb86c"/>
<circle cx="312.4" cy="497.8" r="1.8" fill="#ebb86c"/>
<circle cx="241.7" cy="496.8" r="1.8" fill="#bde4a0"/>
<circle cx="231.3" cy="492.1" r="1.8" fill="#e2574a"/>
<circle cx="443.7" cy="509.3" r="1.8" fill="#bde4a0"/>
<circle cx="293.7" cy="497.3" r="1.8" fill="#ebb86c"/>
<circle cx="369.6" cy="493.1" r="1.8" fill="#bde4a0"/>
<circle cx="281.5" cy="488.1" r="1.8" fill="#e2574a"/>
<circle cx="240.0" cy="478.1" r="1.8" fill="#e2574a"/>
<circle cx="508.0" cy="518.4" r="1.8" fill="#bde4a0"/>
<circle cx="368.6" cy="513.0" r="1.8" fill="#a10b49"/>
<circle cx="459.0" cy="514.0" r="1.8" fill="#ebb86c"/>
<circle cx="233.2" cy="483.4" r="1.8" fill="#bde4a0"/>
<circle cx="388.3" cy="507.9" r="1.8" fill="#a10b49"/>
<circle cx="245.4" cy="496.2" r="1.8" fill="#e2574a"/>
<circle cx="416.2" cy="495.9" r="1.8" fill="#f4fabd"/>
<circle cx="488.7" cy="511.3" r="1.8" fill="#ebb86c"/>
<circle cx="253.5" cy="471.8" r="1.8" fill="#ebb86c"/>
<circle cx="303.0" cy="492.5" r="1.8" fill="#ebb86c"/>
<circle cx="322.5" cy="481.4" r="1.8" fill="#ebb86c"/>
<circle cx="296.5" cy="493.4" r="1.8" fill="#f4fabd"/>
<circle cx="236.9" cy="481.1" r="1.8" fill="#ebb86c"/>
<circle cx="391.4" cy="501.6" r="1.8" fill="#ebb86c"/>
<circle cx="250.3" cy="482.3" r="1.8" fill="#ebb86c"/>
<circle cx="286.1" cy="478.1" r="1.8" fill="#f4fabd"/>
<circle cx="281.9" cy="498.2" r="1.8" fill="#bde4a0"/>
<circle cx="361.7" cy="508.9" r="1.8" fill="#bde4a0"/>
<circle cx="290.1" cy="472.7" r="1.8" fill="#bde4a0"/>
<circle cx="442.2" cy="505.4" r="1.8" fill="#bde4a0"/>
<circle cx="309.9" cy="489.4" r="1.8" fill="#e2574a"/>
<circle cx="310.2" cy="493.6" r="1.8" fill="#f4fabd"/>
<circle cx="407.4" cy="502.4" r="1.8" fill="#ebb86c"/>
<circle cx="301.8" cy="483.7" r="1.8" fill="#bde4a0"/>
<circle cx="286.1" cy="475.2" r="1.8" fill="#ebb86c"/>
<circle cx="418.5" cy="506.1" r="1.8" fill="#f4fabd"/>
<circle cx="311.2" cy="482.1" r="1.8" fill="#bde4a0"/>
<circle cx="329.4" cy="504.4" r="1.8" fill="#5cb6a9"/>
<circle cx="325.2" cy="497.9" r="1.8" fill="#e2574a"/>
<circle cx="247.6" cy="479.9" r="1.8" fill="#5cb6a9"/>
<circle cx="275.1" cy="483.0" r="1.8" fill="#bde4a0"/>
<circle cx="560.0" cy="533.0" r="1.8" fill="#e2574a"/>
<circle cx="324.7" cy="499.6" r="1.8" fill="#f4fabd"/>
<circle cx="219.8" cy="489.8" r="1.8" fill="#f4fabd"/>
<circle cx="408.0" cy="508.5" r="1.8" fill="#bde4a0"/>
<circle cx="416.5" cy="504.0" r="1.8" fill="#bde4a0"/>
<circle cx="386.8" cy="494.0" r="1.8" fill="#ebb86c"/>
<circle cx="331.4" cy="489.7" r="1.8" fill="#bde4a0"/>
<circle cx="269.6" cy="483.1" r="1.8" fill="#bde4a0"/>
<circle cx="262.2" cy="491.6" r="1.8" fill="#f4fabd"/>
<circle cx="436.5" cy="494.4" r="1.8" fill="#bde4a0"/>
<circle cx="308.3" cy="490.1" r="1.8" fill="#ebb86c"/>
<circle cx="216.3" cy="485.6" r="1.8" fill="#ebb86c"/>
<circle cx="227.2" cy="473.9" r="1.8" fill="#bde4a0"/>
<circle cx="306.0" cy="488.6" r="1.8" fill="#ebb86c"/>
<circle cx="356.0" cy="490.7" r="1.8" fill="#5cb6a9"/>
<circle cx="435.4" cy="508.4" r="1.8" fill="#5cb6a9"/>
<circle cx="248.0" cy="468.6" r="1.8" fill="#ebb86c"/>
<circle cx="237.1" cy="485.1" r="1.8" fill="#f4fabd"/>
<circle cx="228.7" cy="479.0" r="1.8" fill="#f4fabd"/>
<circle cx="297.2" cy="474.4" r="1.8" fill="#5cb6a9"/>
<circle cx="482.9" cy="513.2" r="1.8" fill="#bde4a0"/>
<circle cx="462.2" cy="517.6" r="1.8" fill="#f4fabd"/>
<circle cx="240.0" cy="486.3" r="1.8" fill="#ebb86c"/>
<circle cx="493.0" cy="517.2" r="1.8" fill="#bde4a0"/>
<circle cx="312.3" cy="497.8" r="1.8" fill="#bde4a0"/>
<circle cx="402.8" cy="497.6" r="1.8" fill="#e2574a"/>
<circle cx="261.3" cy="484.4" r="1.8" fill="#ebb86c"/>
<circle cx="261.5" cy="485.2" r="1.8" fill="#e2574a"/>
<circle cx="310.3" cy="502.5" r="1.8" fill="#a10b49"/>
<circle cx="339.6" cy="508.6" r="1.8" fill="#f4fabd"/>
<circle cx="317.1" cy="484.5" r="1.8" fill="#ebb86c"/>
<circle cx="260.4" cy="491.9" r="1.8" fill="#f4fabd"/>
<circle cx="304.1" cy="483.9" r="1.8" fill="#f4fabd"/>
<circle cx="570.7" cy="531.4" r="1.8" fill="#ebb86c"/>
<circle cx="274.0" cy="480.6" r="1.8" fill="#bde4a0"/>
<circle cx="304.1" cy="508.1" r="1.8" fill="#a10b49"/>
<circle cx="235.9" cy="474.2" r="1.8" fill="#ebb86c"/>
<circle cx="237.4" cy="485.7" r="1.8" fill="#bde4a0"/>
<circle cx="365.6" cy="493.1" r="1.8" fill="#bde4a0"/>
<circle cx="313.2" cy="502.3" r="1.8" fill="#ebb86c"/>
<circle cx="295.0" cy="484.9" r="1.8" fill="#ebb86c"/>
<circle cx="374.7" cy="496.8" r="1.8" fill="#f4fabd"/>
<circle cx="545.6" cy="527.8" r="1.8" fill="#a10b49"/>
<circle cx="329.0" cy="475.8" r="1.8" fill="#5cb6a9"/>
<circle cx="263.7" cy="476.2" r="1.8" fill="#bde4a0"/>
<circle cx="279.3" cy="501.2" r="1.8" fill="#ebb86c"/>
<circle cx="239.0" cy="494.9" r="1.8" fill="#ebb86c"/>
<circle cx="301.6" cy="476.3" r="1.8" fill="#ebb86c"/>
<circle cx="368.0" cy="504.9" r="1.8" fill="#bde4a0"/>
<circle cx="542.9" cy="530.3" r="1.8" fill="#e2574a"/>
<circle cx="494.5" cy="526.4" r="1.8" fill="#a10b49"/>
<circle cx="494.0" cy="511.6" r="1.8" fill="#bde4a0"/>
<circle cx="216.0" cy="487.4" r="1.8" fill="#ebb86c"/>
<circle cx="483.7" cy="515.7" r="1.8" fill="#ebb86c"/>
<circle cx="330.7" cy="483.8" r="1.8" fill="#f4fabd"/>
<circle cx="385.2" cy="500.0" r="1.8" fill="#bde4a0"/>
<circle cx="264.6" cy="489.1" r="1.8" fill="#ebb86c"/>
<circle cx="285.6" cy="470.5" r="1.8" fill="#bde4a0"/>
<circle cx="422.6" cy="520.1" r="1.8" fill="#bde4a0"/>
<circle cx="291.8" cy="478.2" r="1.8" fill="#bde4a0"/>
<circle cx="233.0" cy="471.9" r="1.8" fill="#ebb86c"/>
<circle cx="456.3" cy="523.5" r="1.8" fill="#ebb86c"/>
<circle cx="333.0" cy="487.8" r="1.8" fill="#bde4a0"/>
<circle cx="235.7" cy="491.6" r="1.8" fill="#f4fabd"/>
<circle cx="347.5" cy="497.9" r="1.8" fill="#bde4a0"/>
<circle cx="280.3" cy="486.9" r="1.8" fill="#bde4a0"/>
<circle cx="227.5" cy="475.6" r="1.8" fill="#ebb86c"/>
<circle cx="353.2" cy="503.0" r="1.8" fill="#bde4a0"/>
<circle cx="315.4" cy="490.3" r="1.8" fill="#ebb86c"/>
<circle cx="337.2" cy="483.5" r="1.8" fill="#bde4a0"/>
<circle cx="347.8" cy="502.0" r="1.8" fill="#5cb6a9"/>
<circle cx="529.3" cy="510.7" r="1.8" fill="#f4fabd"/>
<circle cx="414.1" cy="499.1" r="1.8" fill="#f4fabd"/>
<circle cx="280.1" cy="475.1" r="1.8" fill="#f4fabd"/>
<circle cx="368.9" cy="504.3" r="1.8" fill="#a10b49"/>
<circle cx="269.5" cy="485.6" r="1.8" fill="#e2574a"/>
<circle cx="411.8" cy="510.8" r="1.8" fill="#bde4a0"/>
<circle cx="256.3" cy="469.8" r="1.8" fill="#f4fabd"/>
<circle cx="279.2" cy="486.2" r="1.8" fill="#bde4a0"/>
<circle cx="219.7" cy="487.7" r="1.8" fill="#ebb86c"/>
<circle cx="300.3" cy="489.6" r="1.8" fill="#f4fabd"/>
<circle cx="242.1" cy="518.0" r="1.8" fill="#a10b49"/>
<circle cx="237.7" cy="494.0" r="1.8" fill="#bde4a0"/>
<circle cx="239.2" cy="490.1" r="1.8" fill="#bde4a0"/>
<circle cx="297.5" cy="485.8" r="1.8" fill="#bde4a0"/>
<circle cx="512.8" cy="518.6" r="1.8" fill="#f4fabd"/>
<circle cx="453.8" cy="515.9" r="1.8" fill="#f4fabd"/>
<circle cx="437.8" cy="516.0" r="1.8" fill="#e2574a"/>
<circle cx="297.5" cy="494.9" r="1.8" fill="#e2574a"/>
<circle cx="317.6" cy="480.9" r="1.8" fill="#bde4a0"/>
<circle cx="261.3" cy="485.9" r="1.8" fill="#e2574a"/>
<circle cx="243.7" cy="483.8" r="1.8" fill="#bde4a0"/>
<circle cx="271.7" cy="483.2" r="1.8" fill="#ebb86c"/>
<circle cx="273.3" cy="497.6" r="1.8" fill="#bde4a0"/>
<circle cx="418.9" cy="522.2" r="1.8" fill="#e2574a"/>
<circle cx="248.8" cy="486.9" r="1.8" fill="#e2574a"/>
<circle cx="226.6" cy="482.4" r="1.8" fill="#ebb86c"/>
<circle cx="229.2" cy="498.2" r="1.8" fill="#f4fabd"/>
<circle cx="485.0" cy="507.6" r="1.8" fill="#bde4a0"/>
<circle cx="246.9" cy="474.6" r="1.8" fill="#bde4a0"/>
<circle cx="343.6" cy="499.5" r="1.8" fill="#ebb86c"/>
<circle cx="430.9" cy="518.7" r="1.8" fill="#f4fabd"/>
<circle cx="343.5" cy="492.9" r="1.8" fill="#5d50a0"/>
<circle cx="420.7" cy="499.1" r="1.8" fill="#bde4a0"/>
<circle cx="246.7" cy="492.6" r="1.8" fill="#e2574a"/>
<circle cx="284.2" cy="486.0" r="1.8" fill="#e2574a"/>
<circle cx="379.4" cy="511.9" r="1.8" fill="#ebb86c"/>
<circle cx="253.7" cy="498.4" r="1.8" fill="#ebb86c"/>
<circle cx="241.1" cy="495.1" r="1.8" fill="#f4fabd"/>
<circle cx="310.8" cy="494.7" r="1.8" fill="#f4fabd"/>
<circle cx="365.1" cy="508.9" r="1.8" fill="#a10b49"/>
<circle cx="295.3" cy="496.7" r="1.8" fill="#bde4a0"/>
<circle cx="256.9" cy="480.2" r="1.8" fill="#f4fabd"/>
<circle cx="225.9" cy="481.2" r="1.8" fill="#ebb86c"/>
<circle cx="349.1" cy="488.6" r="1.8" fill="#f4fabd"/>
<circle cx="552.7" cy="529.1" r="1.8" fill="#f4fabd"/>
<circle cx="260.0" cy="474.6" r="1.8" fill="#5cb6a9"/>
<circle cx="285.4" cy="492.9" r="1.8" fill="#e2574a"/>
<circle cx="240.9" cy="482.7" r="1.8" fill="#5cb6a9"/>
<circle cx="225.7" cy="484.8" r="1.8" fill="#bde4a0"/>
<circle cx="308.3" cy="502.5" r="1.8" fill="#f4fabd"/>
<circle cx="240.2" cy="492.6" r="1.8" fill="#bde4a0"/>
<circle cx="216.6" cy="475.6" r="1.8" fill="#ebb86c"/>
<circle cx="410.0" cy="501.1" r="1.8" fill="#e2574a"/>
<circle cx="369.4" cy="495.9" r="1.8" fill="#bde4a0"/>
<circle cx="251.1" cy="482.0" r="1.8" fill="#bde4a0"/>
<circle cx="427.3" cy="516.2" r="1.8" fill="#f4fabd"/>
<circle cx="328.4" cy="498.8" r="1.8" fill="#e2574a"/>
<circle cx="371.2" cy="495.9" r="1.8" fill="#bde4a0"/>
<circle cx="281.2" cy="480.9" r="1.8" fill="#bde4a0"/>
<circle cx="312.7" cy="493.4" r="1.8" fill="#ebb86c"/>
<circle cx="364.0" cy="498.2" r="1.8" fill="#5d50a0"/>
<circle cx="328.3" cy="482.8" r="1.8" fill="#ebb86c"/>
<circle cx="258.1" cy="481.0" r="1.8" fill="#ebb86c"/>
<circle cx="381.6" cy="506.6" r="1.8" fill="#e2574a"/>
<circle cx="279.7" cy="488.2" r="1.8" fill="#5cb6a9"/>
<circle cx="297.1" cy="490.1" r="1.8" fill="#5cb6a9"/>
<circle cx="482.4" cy="516.4" r="1.8" fill="#e2574a"/>
<circle cx="469.7" cy="514.9" r="1.8" fill="#bde4a0"/>
<circle cx="346.9" cy="483.3" r="1.8" fill="#bde4a0"/>
<circle cx="253.0" cy="483.8" r="1.8" fill="#5cb6a9"/>
<circle cx="302.7" cy="484.4" r="1.8" fill="#bde4a0"/>
<circle cx="303.0" cy="487.0" r="1.8" fill="#bde4a0"/>
<circle cx="260.5" cy="470.7" r="1.8" fill="#bde4a0"/>
<circle cx="438.7" cy="519.3" r="1.8" fill="#ebb86c"/>
<circle cx="327.2" cy="503.5" r="1.8" fill="#bde4a0"/>
<circle cx="311.7" cy="487.9" r="1.8" fill="#f4fabd"/>
<circle cx="344.1" cy="504.6" r="1.8" fill="#ebb86c"/>
<circle cx="250.7" cy="469.6" r="1.8" fill="#bde4a0"/>
<circle cx="224.7" cy="487.2" r="1.8" fill="#bde4a0"/>
<circle cx="418.1" cy="498.0" r="1.8" fill="#bde4a0"/>
<circle cx="413.7" cy="516.6" r="1.8" fill="#ebb86c"/>
<circle cx="514.0" cy="516.2" r="1.8" fill="#f4fabd"/>
<circle cx="320.3" cy="485.1" r="1.8" fill="#ebb86c"/>
<circle cx="332.3" cy="508.5" r="1.8" fill="#f4fabd"/>
<circle cx="255.9" cy="479.9" r="1.8" fill="#ebb86c"/>
<circle cx="255.8" cy="470.1" r="1.8" fill="#ebb86c"/>
<circle cx="401.2" cy="493.3" r="1.8" fill="#bde4a0"/>
<circle cx="401.3" cy="497.7" r="1.8" fill="#ebb86c"/>
<circle cx="414.2" cy="502.3" r="1.8" fill="#f4fabd"/>
<circle cx="541.6" cy="521.5" r="1.8" fill="#bde4a0"/>
<circle cx="274.3" cy="489.4" r="1.8" fill="#bde4a0"/>
<circle cx="315.0" cy="495.8" r="1.8" fill="#5cb6a9"/>
<circle cx="530.0" cy="512.0" r="1.8" fill="#bde4a0"/>
<circle cx="467.6" cy="504.6" r="1.8" fill="#f4fabd"/>
<circle cx="447.5" cy="523.2" r="1.8" fill="#bde4a0"/>
<circle cx="372.8" cy="516.1" r="1.8" fill="#a10b49"/>
<circle cx="234.7" cy="485.7" r="1.8" fill="#f4fabd"/>
<circle cx="406.1" cy="489.6" r="1.8" fill="#ebb86c"/>
<circle cx="320.0" cy="488.5" r="1.8" fill="#bde4a0"/>
<circle cx="519.4" cy="528.7" r="1.8" fill="#a10b49"/>
<circle cx="295.9" cy="477.0" r="1.8" fill="#bde4a0"/>
<circle cx="430.2" cy="496.2" r="1.8" fill="#f4fabd"/>
<circle cx="298.4" cy="498.5" r="1.8" fill="#e2574a"/>
<circle cx="241.0" cy="492.7" r="1.8" fill="#f4fabd"/>
<circle cx="268.1" cy="495.1" r="1.8" fill="#ebb86c"/>
<circle cx="349.4" cy="489.5" r="1.8" fill="#f4fabd"/>
<circle cx="251.4" cy="479.5" r="1.8" fill="#bde4a0"/>
<circle cx="356.4" cy="504.0" r="1.8" fill="#f4fabd"/>
<circle cx="317.1" cy="491.1" r="1.8" fill="#bde4a0"/>
<circle cx="329.5" cy="490.0" r="1.8" fill="#5cb6a9"/>
<circle cx="399.2" cy="505.8" r="1.8" fill="#bde4a0"/>
<circle cx="421.5" cy="501.6" r="1.8" fill="#ebb86c"/>
<circle cx="265.6" cy="484.6" r="1.8" fill="#ebb86c"/>
<circle cx="351.3" cy="485.8" r="1.8" fill="#bde4a0"/>
<circle cx="278.5" cy="477.6" r="1.8" fill="#bde4a0"/>
<circle cx="288.9" cy="469.8" r="1.8" fill="#f4fabd"/>
<circle cx="225.4" cy="483.1" r="1.8" fill="#f4fabd"/>
<circle cx="263.1" cy="495.7" r="1.8" fill="#ebb86c"/>
<circle cx="254.8" cy="487.7" r="1.8" fill="#ebb86c"/>
<circle cx="376.4" cy="487.6" r="1.8" fill="#bde4a0"/>
<circle cx="409.7" cy="504.7" r="1.8" fill="#bde4a0"/>
<circle cx="447.0" cy="521.9" r="1.8" fill="#ebb86c"/>
<circle cx="366.1" cy="500.2" r="1.8" fill="#e2574a"/>
<circle cx="434.4" cy="513.0" r="1.8" fill="#5d50a0"/>
<circle cx="314.2" cy="489.5" r="1.8" fill="#bde4a0"/>
<circle cx="228.7" cy="476.7" r="1.8" fill="#ebb86c"/>
<circle cx="305.9" cy="500.1" r="1.8" fill="#a10b49"/>
<circle cx="269.5" cy="481.6" r="1.8" fill="#f4fabd"/>
<circle cx="453.3" cy="516.9" r="1.8" fill="#bde4a0"/>
<circle cx="224.8" cy="480.0" r="1.8" fill="#ebb86c"/>
<circle cx="271.1" cy="468.7" r="1.8" fill="#bde4a0"/>
<circle cx="247.5" cy="473.3" r="1.8" fill="#bde4a0"/>
<circle cx="468.9" cy="511.4" r="1.8" fill="#bde4a0"/>
<circle cx="451.5" cy="497.3" r="1.8" fill="#ebb86c"/>
<circle cx="225.2" cy="492.2" r="1.8" fill="#f4fabd"/>
<circle cx="260.1" cy="484.5" r="1.8" fill="#5cb6a9"/>
<circle cx="278.4" cy="485.4" r="1.8" fill="#f4fabd"/>
<circle cx="274.3" cy="492.9" r="1.8" fill="#5cb6a9"/>
<circle cx="338.6" cy="508.7" r="1.8" fill="#ebb86c"/>
<circle cx="475.4" cy="507.4" r="1.8" fill="#ebb86c"/>
<circle cx="412.6" cy="511.4" r="1.8" fill="#bde4a0"/>
<circle cx="278.3" cy="478.4" r="1.8" fill="#5cb6a9"/>
<circle cx="330.6" cy="498.3" r="1.8" fill="#a10b49"/>
<circle cx="282.7" cy="473.5" r="1.8" fill="#f4fabd"/>
<circle cx="230.7" cy="488.9" r="1.8" fill="#f4fabd"/>
<circle cx="400.4" cy="498.4" r="1.8" fill="#f4fabd"/>
<circle cx="245.0" cy="477.1" r="1.8" fill="#f4fabd"/>
<circle cx="234.9" cy="480.9" r="1.8" fill="#f4fabd"/>
<circle cx="365.9" cy="491.0" r="1.8" fill="#5cb6a9"/>
<circle cx="240.1" cy="471.4" r="1.8" fill="#bde4a0"/>
<circle cx="217.8" cy="493.2" r="1.8" fill="#bde4a0"/>
<circle cx="349.5" cy="490.3" r="1.8" fill="#bde4a0"/>
<circle cx="580.0" cy="530.0" r="1.8" fill="#f4fabd"/>
<circle cx="297.5" cy="489.5" r="1.8" fill="#ebb86c"/>
<circle cx="253.6" cy="474.9" r="1.8" fill="#bde4a0"/>
<circle cx="237.6" cy="478.8" r="1.8" fill="#ebb86c"/>
<circle cx="268.5" cy="484.4" r="1.8" fill="#ebb86c"/>
<circle cx="329.9" cy="496.3" r="1.8" fill="#e2574a"/>
<circle cx="459.7" cy="519.6" r="1.8" fill="#a10b49"/>
<circle cx="248.2" cy="494.9" r="1.8" fill="#ebb86c"/>
<circle cx="257.3" cy="482.3" r="1.8" fill="#f4fabd"/>
<circle cx="278.3" cy="470.3" r="1.8" fill="#bde4a0"/>
<circle cx="244.7" cy="479.7" r="1.8" fill="#e2574a"/>
<circle cx="369.1" cy="497.7" r="1.8" fill="#bde4a0"/>
<circle cx="216.4" cy="482.1" r="1.8" fill="#bde4a0"/>
<circle cx="458.2" cy="492.0" r="1.8" fill="#ebb86c"/>
<circle cx="283.5" cy="493.0" r="1.8" fill="#bde4a0"/>
<circle cx="287.3" cy="478.4" r="1.8" fill="#ebb86c"/>
<circle cx="239.6" cy="476.9" r="1.8" fill="#bde4a0"/>
<circle cx="299.3" cy="490.3" r="1.8" fill="#ebb86c"/>
<circle cx="266.7" cy="493.0" r="1.8" fill="#f4fabd"/>
<circle cx="345.8" cy="489.9" r="1.8" fill="#5cb6a9"/>
<circle cx="229.1" cy="483.0" r="1.8" fill="#ebb86c"/>
<circle cx="277.5" cy="494.9" r="1.8" fill="#ebb86c"/>
<circle cx="345.3" cy="500.2" r="1.8" fill="#f4fabd"/>
<circle cx="286.6" cy="494.3" r="1.8" fill="#f4fabd"/>
<circle cx="325.9" cy="501.4" r="1.8" fill="#e2574a"/>
<circle cx="249.4" cy="496.2" r="1.8" fill="#ebb86c"/>
<circle cx="368.2" cy="506.4" r="1.8" fill="#ebb86c"/>
<circle cx="371.3" cy="500.7" r="1.8" fill="#ebb86c"/>
<circle cx="217.2" cy="483.8" r="1.8" fill="#bde4a0"/>
<circle cx="272.5" cy="495.6" r="1.8" fill="#bde4a0"/>
<circle cx="222.2" cy="477.3" r="1.8" fill="#bde4a0"/>
<circle cx="398.7" cy="493.1" r="1.8" fill="#bde4a0"/>
<circle cx="283.7" cy="494.7" r="1.8" fill="#f4fabd"/>
<circle cx="225.7" cy="477.7" r="1.8" fill="#bde4a0"/>
<circle cx="381.5" cy="502.8" r="1.8" fill="#ebb86c"/>
<circle cx="220.7" cy="495.2" r="1.8" fill="#bde4a0"/>
<circle cx="225.1" cy="498.4" r="1.8" fill="#bde4a0"/>
<circle cx="266.1" cy="503.6" r="1.8" fill="#ebb86c"/>
<circle cx="248.4" cy="489.1" r="1.8" fill="#5cb6a9"/>
<circle cx="318.1" cy="488.9" r="1.8" fill="#ebb86c"/>
<circle cx="227.6" cy="494.2" r="1.8" fill="#bde4a0"/>
<circle cx="315.0" cy="504.8" r="1.8" fill="#e2574a"/>
<circle cx="404.1" cy="487.9" r="1.8" fill="#ebb86c"/>
<circle cx="409.3" cy="498.2" r="1.8" fill="#5cb6a9"/>
<circle cx="265.4" cy="486.7" r="1.8" fill="#f4fabd"/>
<circle cx="434.1" cy="508.5" r="1.8" fill="#ebb86c"/>
<circle cx="248.2" cy="487.7" r="1.8" fill="#f4fabd"/>
<circle cx="417.2" cy="519.8" r="1.8" fill="#ebb86c"/>
<circle cx="388.5" cy="496.6" r="1.8" fill="#f4fabd"/>
<circle cx="390.1" cy="500.6" r="1.8" fill="#bde4a0"/>
<circle cx="352.6" cy="508.2" r="1.8" fill="#e2574a"/>
<circle cx="236.5" cy="475.9" r="1.8" fill="#bde4a0"/>
<circle cx="446.5" cy="522.1" r="1.8" fill="#e2574a"/>
<circle cx="353.5" cy="497.8" r="1.8" fill="#bde4a0"/>
<circle cx="298.0" cy="488.8" r="1.8" fill="#bde4a0"/>
<circle cx="312.4" cy="500.2" r="1.8" fill="#f4fabd"/>
<circle cx="219.6" cy="478.6" r="1.8" fill="#ebb86c"/>
<circle cx="344.5" cy="503.2" r="1.8" fill="#bde4a0"/>
<circle cx="354.7" cy="507.1" r="1.8" fill="#bde4a0"/>
<circle cx="264.8" cy="499.6" r="1.8" fill="#e2574a"/>
<circle cx="242.3" cy="478.9" r="1.8" fill="#bde4a0"/>
<circle cx="241.2" cy="475.6" r="1.8" fill="#5cb6a9"/>
<circle cx="404.1" cy="506.8" r="1.8" fill="#ebb86c"/>
<circle cx="289.4" cy="488.1" r="1.8" fill="#f4fabd"/>
<circle cx="235.3" cy="481.8" r="1.8" fill="#bde4a0"/>
<circle cx="464.5" cy="532.1" r="1.8" fill="#e2574a"/>
<circle cx="365.8" cy="496.4" r="1.8" fill="#ebb86c"/>
<circle cx="326.4" cy="495.3" r="1.8" fill="#bde4a0"/>
<circle cx="235.4" cy="476.2" r="1.8" fill="#bde4a0"/>
<circle cx="421.1" cy="503.6" r="1.8" fill="#bde4a0"/>
<circle cx="286.5" cy="484.0" r="1.8" fill="#5cb6a9"/>
<circle cx="392.7" cy="518.8" r="1.8" fill="#e2574a"/>
<circle cx="239.2" cy="494.4" r="1.8" fill="#ebb86c"/>
<circle cx="308.5" cy="488.0" r="1.8" fill="#bde4a0"/>
<circle cx="241.1" cy="477.5" r="1.8" fill="#bde4a0"/>
<circle cx="290.4" cy="483.8" r="1.8" fill="#bde4a0"/>
<circle cx="267.6" cy="469.2" r="1.8" fill="#ebb86c"/>
<circle cx="261.7" cy="482.1" r="1.8" fill="#f4fabd"/>
<circle cx="217.7" cy="484.7" r="1.8" fill="#bde4a0"/>
<circle cx="342.7" cy="492.8" r="1.8" fill="#5d50a0"/>
<circle cx="314.9" cy="483.1" r="1.8" fill="#5cb6a9"/>
<circle cx="216.1" cy="486.0" r="1.8" fill="#ebb86c"/>
<circle cx="269.7" cy="493.3" r="1.8" fill="#e2574a"/>
<circle cx="282.3" cy="499.1" r="1.8" fill="#bde4a0"/>
<circle cx="330.4" cy="493.8" r="1.8" fill="#bde4a0"/>
<circle cx="228.6" cy="481.6" r="1.8" fill="#ebb86c"/>
<circle cx="312.8" cy="492.4" r="1.8" fill="#ebb86c"/>
<circle cx="437.4" cy="509.6" r="1.8" fill="#bde4a0"/>
<circle cx="326.9" cy="499.5" r="1.8" fill="#ebb86c"/>
<circle cx="249.3" cy="486.5" r="1.8" fill="#e2574a"/>
<circle cx="529.0" cy="539.6" r="1.8" fill="#a10b49"/>
<circle cx="270.3" cy="483.6" r="1.8" fill="#bde4a0"/>
<circle cx="274.9" cy="498.9" r="1.8" fill="#ebb86c"/>
<circle cx="332.8" cy="500.1" r="1.8" fill="#a10b49"/>
<circle cx="247.3" cy="484.6" r="1.8" fill="#bde4a0"/>
<circle cx="488.6" cy="528.8" r="1.8" fill="#e2574a"/>
<circle cx="341.5" cy="489.4" r="1.8" fill="#bde4a0"/>
<circle cx="422.7" cy="500.9" r="1.8" fill="#bde4a0"/>
<circle cx="416.2" cy="511.5" r="1.8" fill="#ebb86c"/>
<circle cx="215.9" cy="479.6" r="1.8" fill="#f4fabd"/>
<circle cx="236.7" cy="480.2" r="1.8" fill="#ebb86c"/>
<circle cx="350.1" cy="509.2" r="1.8" fill="#f4fabd"/>
<circle cx="350.2" cy="481.4" r="1.8" fill="#bde4a0"/>
<circle cx="217.4" cy="481.0" r="1.8" fill="#bde4a0"/>
<circle cx="284.8" cy="479.3" r="1.8" fill="#bde4a0"/>
<circle cx="235.0" cy="487.2" r="1.8" fill="#ebb86c"/>
<circle cx="503.1" cy="529.3" r="1.8" fill="#ebb86c"/>
<circle cx="259.5" cy="483.6" r="1.8" fill="#5cb6a9"/>
<circle cx="262.7" cy="485.1" r="1.8" fill="#ebb86c"/>
<circle cx="247.7" cy="479.4" r="1.8" fill="#5cb6a9"/>
<circle cx="341.1" cy="480.5" r="1.8" fill="#f4fabd"/>
<circle cx="295.8" cy="487.7" r="1.8" fill="#f4fabd"/>
<circle cx="550.9" cy="534.4" r="1.8" fill="#e2574a"/>
<circle cx="278.2" cy="476.6" r="1.8" fill="#bde4a0"/>
<circle cx="340.7" cy="498.9" r="1.8" fill="#e2574a"/>
<circle cx="498.1" cy="520.3" r="1.8" fill="#e2574a"/>
<circle cx="242.4" cy="495.2" r="1.8" fill="#e2574a"/>
<circle cx="289.1" cy="488.1" r="1.8" fill="#f4fabd"/>
<circle cx="516.9" cy="520.5" r="1.8" fill="#e2574a"/>
<circle cx="219.1" cy="491.5" r="1.8" fill="#f4fabd"/>
<circle cx="230.8" cy="471.4" r="1.8" fill="#bde4a0"/>
<circle cx="348.4" cy="477.7" r="1.8" fill="#f4fabd"/>
<circle cx="235.1" cy="485.7" r="1.8" fill="#f4fabd"/>
<circle cx="302.0" cy="487.6" r="1.8" fill="#f4fabd"/>
<circle cx="270.7" cy="482.2" r="1.8" fill="#ebb86c"/>
<circle cx="240.0" cy="488.8" r="1.8" fill="#bde4a0"/>
<circle cx="257.9" cy="481.6" r="1.8" fill="#ebb86c"/>
<circle cx="410.8" cy="501.3" r="1.8" fill="#f4fabd"/>
<circle cx="224.6" cy="492.3" r="1.8" fill="#ebb86c"/>
<circle cx="423.8" cy="501.9" r="1.8" fill="#bde4a0"/>
<circle cx="261.0" cy="480.6" r="1.8" fill="#ebb86c"/>
<circle cx="319.1" cy="485.7" r="1.8" fill="#f4fabd"/>
<circle cx="367.8" cy="512.5" r="1.8" fill="#bde4a0"/>
<circle cx="403.9" cy="489.9" r="1.8" fill="#f4fabd"/>
<circle cx="322.9" cy="492.6" r="1.8" fill="#bde4a0"/>
<circle cx="475.1" cy="523.4" r="1.8" fill="#bde4a0"/>
<circle cx="283.9" cy="486.7" r="1.8" fill="#e2574a"/>
<circle cx="286.0" cy="492.7" r="1.8" fill="#f4fabd"/>
<circle cx="234.9" cy="472.9" r="1.8" fill="#bde4a0"/>
<circle cx="337.9" cy="491.5" r="1.8" fill="#ebb86c"/>
<circle cx="328.3" cy="505.5" r="1.8" fill="#a10b49"/>
<circle cx="442.1" cy="508.4" r="1.8" fill="#bde4a0"/>
<circle cx="418.6" cy="511.8" r="1.8" fill="#f4fabd"/>
<circle cx="253.2" cy="482.5" r="1.8" fill="#f4fabd"/>
<circle cx="266.9" cy="484.2" r="1.8" fill="#bde4a0"/>
<circle cx="328.1" cy="475.3" r="1.8" fill="#bde4a0"/>
<circle cx="294.7" cy="496.2" r="1.8" fill="#f4fabd"/>
<circle cx="308.8" cy="489.8" r="1.8" fill="#bde4a0"/>
<circle cx="323.0" cy="491.0" r="1.8" fill="#f4fabd"/>
<circle cx="254.7" cy="487.8" r="1.8" fill="#ebb86c"/>
<circle cx="412.6" cy="489.7" r="1.8" fill="#f4fabd"/>
<circle cx="368.8" cy="504.4" r="1.8" fill="#5cb6a9"/>
<circle cx="475.0" cy="524.5" r="1.8" fill="#f4fabd"/>
<circle cx="304.6" cy="494.3" r="1.8" fill="#e2574a"/>
<circle cx="510.1" cy="532.6" r="1.8" fill="#a10b49"/>
<circle cx="429.2" cy="486.5" r="1.8" fill="#bde4a0"/>
<circle cx="389.2" cy="487.7" r="1.8" fill="#bde4a0"/>
<circle cx="455.0" cy="524.6" r="1.8" fill="#ebb86c"/>
<circle cx="289.4" cy="492.2" r="1.8" fill="#bde4a0"/>
<circle cx="543.1" cy="508.9" r="1.8" fill="#f4fabd"/>
<circle cx="244.2" cy="478.5" r="1.8" fill="#ebb86c"/>
<circle cx="309.7" cy="499.7" r="1.8" fill="#ebb86c"/>
<circle cx="529.4" cy="510.8" r="1.8" fill="#bde4a0"/>
<circle cx="274.9" cy="486.8" r="1.8" fill="#f4fabd"/>
<circle cx="501.3" cy="514.1" r="1.8" fill="#bde4a0"/>
<circle cx="267.0" cy="498.7" r="1.8" fill="#bde4a0"/>
<circle cx="342.5" cy="483.4" r="1.8" fill="#f4fabd"/>
<circle cx="491.9" cy="520.3" r="1.8" fill="#ebb86c"/>
<circle cx="211.8" cy="483.5" r="1.8" fill="#ebb86c"/>
<circle cx="229.0" cy="476.6" r="1.8" fill="#ebb86c"/>
<circle cx="253.3" cy="486.0" r="1.8" fill="#ebb86c"/>
<circle cx="565.1" cy="522.0" r="1.8" fill="#5cb6a9"/>
<circle cx="459.6" cy="519.4" r="1.8" fill="#ebb86c"/>
<circle cx="287.4" cy="484.9" r="1.8" fill="#5cb6a9"/>
<circle cx="351.9" cy="500.1" r="1.8" fill="#a10b49"/>
<circle cx="392.7" cy="499.7" r="1.8" fill="#ebb86c"/>
<circle cx="484.4" cy="528.4" r="1.8" fill="#a10b49"/>
<circle cx="492.1" cy="526.2" r="1.8" fill="#f4fabd"/>
<circle cx="438.3" cy="522.8" r="1.8" fill="#f4fabd"/>
<circle cx="319.0" cy="509.3" r="1.8" fill="#a10b49"/>
<circle cx="408.0" cy="510.6" r="1.8" fill="#bde4a0"/>
<circle cx="357.4" cy="495.0" r="1.8" fill="#bde4a0"/>
<circle cx="291.9" cy="481.2" r="1.8" fill="#bde4a0"/>
<circle cx="450.4" cy="526.7" r="1.8" fill="#e2574a"/>
<circle cx="231.3" cy="477.9" r="1.8" fill="#bde4a0"/>
<circle cx="364.3" cy="493.5" r="1.8" fill="#f4fabd"/>
<circle cx="396.0" cy="503.6" r="1.8" fill="#f4fabd"/>
<circle cx="281.3" cy="479.1" r="1.8" fill="#ebb86c"/>
<circle cx="242.3" cy="483.0" r="1.8" fill="#bde4a0"/>
<circle cx="252.6" cy="472.4" r="1.8" fill="#ebb86c"/>
<circle cx="304.5" cy="494.0" r="1.8" fill="#e2574a"/>
<circle cx="466.7" cy="512.3" r="1.8" fill="#ebb86c"/>
<circle cx="248.1" cy="493.9" r="1.8" fill="#ebb86c"/>
<circle cx="259.1" cy="474.5" r="1.8" fill="#ebb86c"/>
<circle cx="267.3" cy="497.8" r="1.8" fill="#e2574a"/>
<circle cx="462.0" cy="518.1" r="1.8" fill="#bde4a0"/>
<circle cx="304.5" cy="503.1" r="1.8" fill="#ebb86c"/>
<circle cx="288.9" cy="484.6" r="1.8" fill="#f4fabd"/>
<circle cx="398.8" cy="507.5" r="1.8" fill="#f4fabd"/>
<circle cx="272.0" cy="494.4" r="1.8" fill="#ebb86c"/>
<circle cx="538.9" cy="508.6" r="1.8" fill="#5cb6a9"/>
<circle cx="315.2" cy="498.1" r="1.8" fill="#ebb86c"/>
<circle cx="406.1" cy="506.0" r="1.8" fill="#ebb86c"/>
<circle cx="299.9" cy="494.7" r="1.8" fill="#a10b49"/>
<circle cx="313.9" cy="497.7" r="1.8" fill="#e2574a"/>
<circle cx="214.2" cy="479.5" r="1.8" fill="#bde4a0"/>
<circle cx="399.7" cy="490.6" r="1.8" fill="#bde4a0"/>
<circle cx="269.9" cy="490.4" r="1.8" fill="#ebb86c"/>
<circle cx="353.1" cy="503.1" r="1.8" fill="#e2574a"/>
<circle cx="283.7" cy="495.1" r="1.8" fill="#e2574a"/>
<circle cx="394.5" cy="512.3" r="1.8" fill="#f4fabd"/>
<circle cx="253.5" cy="493.5" r="1.8" fill="#f4fabd"/>
<circle cx="518.0" cy="527.1" r="1.8" fill="#f4fabd"/>
<circle cx="257.9" cy="475.2" r="1.8" fill="#f4fabd"/>
<circle cx="470.7" cy="512.4" r="1.8" fill="#bde4a0"/>
<circle cx="471.4" cy="512.8" r="1.8" fill="#f4fabd"/>
<circle cx="335.3" cy="491.2" r="1.8" fill="#bde4a0"/>
<circle cx="251.9" cy="530.9" r="1.8" fill="#a10b49"/>
<circle cx="252.6" cy="495.4" r="1.8" fill="#e2574a"/>
<circle cx="292.7" cy="490.9" r="1.8" fill="#ebb86c"/>
<circle cx="227.5" cy="490.6" r="1.8" fill="#ebb86c"/>
<circle cx="431.9" cy="509.2" r="1.8" fill="#e2574a"/>
<circle cx="264.3" cy="497.3" r="1.8" fill="#e2574a"/>
<circle cx="251.2" cy="491.4" r="1.8" fill="#5cb6a9"/>
<circle cx="307.6" cy="485.6" r="1.8" fill="#bde4a0"/>
<circle cx="252.2" cy="489.4" r="1.8" fill="#e2574a"/>
<circle cx="284.1" cy="474.9" r="1.8" fill="#bde4a0"/>
<circle cx="234.4" cy="480.7" r="1.8" fill="#bde4a0"/>
<circle cx="259.9" cy="484.0" r="1.8" fill="#bde4a0"/>
<circle cx="338.9" cy="494.1" r="1.8" fill="#ebb86c"/>
<circle cx="232.1" cy="489.9" r="1.8" fill="#f4fabd"/>
<circle cx="220.9" cy="478.2" r="1.8" fill="#bde4a0"/>
<circle cx="228.0" cy="486.1" r="1.8" fill="#bde4a0"/>
<circle cx="281.9" cy="476.4" r="1.8" fill="#f4fabd"/>
<circle cx="306.4" cy="472.8" r="1.8" fill="#f4fabd"/>
<circle cx="362.5" cy="495.6" r="1.8" fill="#f4fabd"/>
<circle cx="326.0" cy="502.8" r="1.8" fill="#ebb86c"/>
<circle cx="259.9" cy="486.9" r="1.8" fill="#f4fabd"/>
<circle cx="255.2" cy="489.3" r="1.8" fill="#bde4a0"/>
<circle cx="344.9" cy="482.0" r="1.8" fill="#f4fabd"/>
<circle cx="381.3" cy="501.5" r="1.8" fill="#f4fabd"/>
<circle cx="419.1" cy="503.5" r="1.8" fill="#f4fabd"/>
<circle cx="432.3" cy="487.9" r="1.8" fill="#bde4a0"/>
<circle cx="442.1" cy="516.4" r="1.8" fill="#e2574a"/>
<circle cx="319.3" cy="479.9" r="1.8" fill="#f4fabd"/>
<circle cx="265.0" cy="494.3" r="1.8" fill="#5cb6a9"/>
<circle cx="362.3" cy="500.1" r="1.8" fill="#f4fabd"/>
<circle cx="341.5" cy="488.1" r="1.8" fill="#5cb6a9"/>
<circle cx="341.7" cy="498.3" r="1.8" fill="#5d50a0"/>
<circle cx="476.1" cy="511.1" r="1.8" fill="#bde4a0"/>
<circle cx="583.6" cy="546.5" r="1.8" fill="#e2574a"/>
<circle cx="329.5" cy="481.4" r="1.8" fill="#bde4a0"/>
<circle cx="376.0" cy="505.6" r="1.8" fill="#ebb86c"/>
<circle cx="253.3" cy="472.7" r="1.8" fill="#f4fabd"/>
<circle cx="277.5" cy="470.7" r="1.8" fill="#f4fabd"/>
<circle cx="530.6" cy="512.2" r="1.8" fill="#bde4a0"/>
<circle cx="274.5" cy="477.5" r="1.8" fill="#bde4a0"/>
<circle cx="537.1" cy="520.4" r="1.8" fill="#bde4a0"/>
<circle cx="303.1" cy="479.0" r="1.8" fill="#bde4a0"/>
<circle cx="326.7" cy="490.9" r="1.8" fill="#f4fabd"/>
<circle cx="277.2" cy="481.8" r="1.8" fill="#bde4a0"/>
<circle cx="280.0" cy="475.2" r="1.8" fill="#ebb86c"/>
<circle cx="334.1" cy="483.9" r="1.8" fill="#f4fabd"/>
<circle cx="457.1" cy="502.6" r="1.8" fill="#bde4a0"/>
<circle cx="450.2" cy="519.3" r="1.8" fill="#ebb86c"/>
<circle cx="293.1" cy="490.2" r="1.8" fill="#ebb86c"/>
<circle cx="442.2" cy="510.7" r="1.8" fill="#f4fabd"/>
<circle cx="334.1" cy="491.7" r="1.8" fill="#bde4a0"/>
<circle cx="252.4" cy="492.5" r="1.8" fill="#e2574a"/>
<circle cx="327.0" cy="490.3" r="1.8" fill="#bde4a0"/>
<circle cx="216.2" cy="476.7" r="1.8" fill="#ebb86c"/>
<circle cx="326.1" cy="494.5" r="1.8" fill="#e2574a"/>
<circle cx="286.1" cy="504.5" r="1.8" fill="#a10b49"/>
<circle cx="349.9" cy="505.4" r="1.8" fill="#bde4a0"/>
<circle cx="369.7" cy="488.4" r="1.8" fill="#bde4a0"/>
<circle cx="516.9" cy="527.0" r="1.8" fill="#ebb86c"/>
<circle cx="395.5" cy="487.5" r="1.8" fill="#bde4a0"/>
<circle cx="288.2" cy="503.3" r="1.8" fill="#a10b49"/>
<circle cx="341.1" cy="493.2" r="1.8" fill="#bde4a0"/>
<circle cx="308.5" cy="503.2" r="1.8" fill="#a10b49"/>
<circle cx="482.3" cy="512.2" r="1.8" fill="#ebb86c"/>
<circle cx="298.9" cy="490.3" r="1.8" fill="#5cb6a9"/>
<circle cx="423.1" cy="491.3" r="1.8" fill="#f4fabd"/>
<circle cx="486.7" cy="502.2" r="1.8" fill="#bde4a0"/>
<circle cx="507.3" cy="531.2" r="1.8" fill="#e2574a"/>
<circle cx="211.0" cy="485.4" r="1.8" fill="#bde4a0"/>
<circle cx="285.0" cy="492.5" r="1.8" fill="#bde4a0"/>
<circle cx="304.6" cy="498.0" r="1.8" fill="#e2574a"/>
<circle cx="440.0" cy="504.1" r="1.8" fill="#f4fabd"/>
<circle cx="263.7" cy="498.5" r="1.8" fill="#ebb86c"/>
<circle cx="293.5" cy="513.4" r="1.8" fill="#a10b49"/>
<circle cx="293.4" cy="494.9" r="1.8" fill="#ebb86c"/>
<circle cx="262.8" cy="478.2" r="1.8" fill="#5cb6a9"/>
<circle cx="262.2" cy="477.4" r="1.8" fill="#e2574a"/>
<circle cx="256.5" cy="500.9" r="1.8" fill="#ebb86c"/>
<circle cx="218.4" cy="479.7" r="1.8" fill="#ebb86c"/>
<circle cx="393.7" cy="514.6" r="1.8" fill="#f4fabd"/>
<circle cx="421.6" cy="508.2" r="1.8" fill="#bde4a0"/>
<circle cx="393.5" cy="511.7" r="1.8" fill="#e2574a"/>
<circle cx="326.4" cy="484.5" r="1.8" fill="#ebb86c"/>
<circle cx="281.6" cy="495.8" r="1.8" fill="#e2574a"/>
<circle cx="285.0" cy="493.8" r="1.8" fill="#bde4a0"/>
<circle cx="480.8" cy="527.1" r="1.8" fill="#f4fabd"/>
<circle cx="341.3" cy="488.1" r="1.8" fill="#bde4a0"/>
<circle cx="304.3" cy="484.2" r="1.8" fill="#f4fabd"/>
<circle cx="215.3" cy="482.6" r="1.8" fill="#ebb86c"/>
<circle cx="332.9" cy="501.3" r="1.8" fill="#f4fabd"/>
<circle cx="222.6" cy="476.0" r="1.8" fill="#bde4a0"/>
<circle cx="221.1" cy="492.8" r="1.8" fill="#bde4a0"/>
<circle cx="374.9" cy="494.5" r="1.8" fill="#e2574a"/>
<circle cx="451.6" cy="503.5" r="1.8" fill="#bde4a0"/>
<circle cx="461.4" cy="510.1" r="1.8" fill="#5cb6a9"/>
<circle cx="572.0" cy="526.4" r="1.8" fill="#bde4a0"/>
<circle cx="223.1" cy="479.0" r="1.8" fill="#bde4a0"/>
<circle cx="513.1" cy="520.8" r="1.8" fill="#ebb86c"/>
<circle cx="362.6" cy="495.4" r="1.8" fill="#ebb86c"/>
<circle cx="338.7" cy="502.6" r="1.8" fill="#bde4a0"/>
<circle cx="300.4" cy="506.8" r="1.8" fill="#ebb86c"/>
<circle cx="292.3" cy="491.5" r="1.8" fill="#ebb86c"/>
<circle cx="361.6" cy="505.5" r="1.8" fill="#e2574a"/>
<circle cx="403.8" cy="503.8" r="1.8" fill="#bde4a0"/>
<circle cx="221.1" cy="476.8" r="1.8" fill="#f4fabd"/>
<circle cx="476.3" cy="512.2" r="1.8" fill="#f4fabd"/>
<circle cx="480.1" cy="544.4" r="1.8" fill="#e2574a"/>
<circle cx="258.6" cy="497.4" r="1.8" fill="#e2574a"/>
<circle cx="342.1" cy="502.9" r="1.8" fill="#a10b49"/>
<circle cx="465.5" cy="502.9" r="1.8" fill="#bde4a0"/>
<circle cx="290.6" cy="495.1" r="1.8" fill="#ebb86c"/>
<circle cx="327.9" cy="491.0" r="1.8" fill="#5cb6a9"/>
<circle cx="401.6" cy="488.9" r="1.8" fill="#f4fabd"/>
<circle cx="229.8" cy="481.5" r="1.8" fill="#ebb86c"/>
<circle cx="293.7" cy="488.0" r="1.8" fill="#f4fabd"/>
<circle cx="212.6" cy="489.3" r="1.8" fill="#bde4a0"/>
<circle cx="313.3" cy="494.9" r="1.8" fill="#f4fabd"/>
<circle cx="259.8" cy="481.4" r="1.8" fill="#ebb86c"/>
<circle cx="313.2" cy="492.4" r="1.8" fill="#ebb86c"/>
<circle cx="251.3" cy="482.5" r="1.8" fill="#f4fabd"/>
<circle cx="431.2" cy="508.3" r="1.8" fill="#f4fabd"/>
<circle cx="304.2" cy="491.8" r="1.8" fill="#ebb86c"/>
<circle cx="464.0" cy="521.4" r="1.8" fill="#bde4a0"/>
<circle cx="292.3" cy="486.0" r="1.8" fill="#bde4a0"/>
<circle cx="442.5" cy="521.6" r="1.8" fill="#f4fabd"/>
<circle cx="245.8" cy="482.1" r="1.8" fill="#f4fabd"/>
<circle cx="234.7" cy="482.9" r="1.8" fill="#f4fabd"/>
<circle cx="467.3" cy="521.7" r="1.8" fill="#ebb86c"/>
<circle cx="447.0" cy="527.9" r="1.8" fill="#e2574a"/>
<circle cx="289.9" cy="486.8" r="1.8" fill="#f4fabd"/>
<circle cx="334.4" cy="506.4" r="1.8" fill="#f4fabd"/>
<circle cx="257.1" cy="477.1" r="1.8" fill="#ebb86c"/>
<circle cx="485.1" cy="516.1" r="1.8" fill="#bde4a0"/>
<circle cx="383.1" cy="503.0" r="1.8" fill="#5cb6a9"/>
<circle cx="288.6" cy="502.4" r="1.8" fill="#ebb86c"/>
<circle cx="270.1" cy="491.3" r="1.8" fill="#ebb86c"/>
<circle cx="271.7" cy="473.9" r="1.8" fill="#ebb86c"/>
<circle cx="285.9" cy="491.5" r="1.8" fill="#ebb86c"/>
<circle cx="289.7" cy="490.4" r="1.8" fill="#bde4a0"/>
<circle cx="354.7" cy="483.7" r="1.8" fill="#f4fabd"/>
<circle cx="225.4" cy="483.0" r="1.8" fill="#f4fabd"/>
<circle cx="295.2" cy="489.5" r="1.8" fill="#bde4a0"/>
<circle cx="271.1" cy="483.7" r="1.8" fill="#bde4a0"/>
<circle cx="416.5" cy="496.9" r="1.8" fill="#bde4a0"/>
<circle cx="456.4" cy="502.1" r="1.8" fill="#ebb86c"/>
<circle cx="295.3" cy="499.3" r="1.8" fill="#bde4a0"/>
<circle cx="285.6" cy="494.1" r="1.8" fill="#ebb86c"/>
<circle cx="406.2" cy="496.0" r="1.8" fill="#bde4a0"/>
<circle cx="487.8" cy="518.1" r="1.8" fill="#ebb86c"/>
<circle cx="295.9" cy="489.0" r="1.8" fill="#bde4a0"/>
<circle cx="218.6" cy="476.5" r="1.8" fill="#ebb86c"/>
<circle cx="321.3" cy="487.9" r="1.8" fill="#bde4a0"/>
<circle cx="211.6" cy="484.7" r="1.8" fill="#ebb86c"/>
<circle cx="216.3" cy="488.1" r="1.8" fill="#ebb86c"/>
<circle cx="451.5" cy="524.9" r="1.8" fill="#bde4a0"/>
<circle cx="353.4" cy="501.5" r="1.8" fill="#5cb6a9"/>
<circle cx="351.4" cy="497.8" r="1.8" fill="#ebb86c"/>
<circle cx="552.0" cy="512.4" r="1.8" fill="#bde4a0"/>
<circle cx="236.6" cy="476.6" r="1.8" fill="#bde4a0"/>
<circle cx="374.9" cy="496.6" r="1.8" fill="#ebb86c"/>
<circle cx="240.6" cy="485.9" r="1.8" fill="#bde4a0"/>
<circle cx="226.3" cy="492.4" r="1.8" fill="#ebb86c"/>
<circle cx="520.5" cy="529.3" r="1.8" fill="#e2574a"/>
<circle cx="329.8" cy="494.2" r="1.8" fill="#5cb6a9"/>
<circle cx="446.3" cy="510.2" r="1.8" fill="#bde4a0"/>
<circle cx="348.8" cy="484.8" r="1.8" fill="#bde4a0"/>
<circle cx="401.8" cy="518.9" r="1.8" fill="#ebb86c"/>
<circle cx="246.0" cy="477.1" r="1.8" fill="#bde4a0"/>
<circle cx="233.8" cy="486.5" r="1.8" fill="#e2574a"/>
<circle cx="229.1" cy="473.9" r="1.8" fill="#bde4a0"/>
<circle cx="467.4" cy="526.1" r="1.8" fill="#e2574a"/>
<circle cx="325.3" cy="497.5" r="1.8" fill="#a10b49"/>
<circle cx="355.4" cy="495.9" r="1.8" fill="#f4fabd"/>
<circle cx="316.8" cy="487.7" r="1.8" fill="#f4fabd"/>
<circle cx="257.5" cy="490.4" r="1.8" fill="#5cb6a9"/>
<circle cx="397.5" cy="511.2" r="1.8" fill="#a10b49"/>
<circle cx="338.1" cy="497.2" r="1.8" fill="#ebb86c"/>
<circle cx="312.2" cy="487.1" r="1.8" fill="#bde4a0"/>
<circle cx="451.8" cy="515.5" r="1.8" fill="#f4fabd"/>
<circle cx="300.6" cy="502.0" r="1.8" fill="#e2574a"/>
<circle cx="269.5" cy="471.9" r="1.8" fill="#5cb6a9"/>
<circle cx="352.3" cy="476.5" r="1.8" fill="#bde4a0"/>
<circle cx="392.6" cy="500.6" r="1.8" fill="#ebb86c"/>
<circle cx="244.8" cy="482.6" r="1.8" fill="#e2574a"/>
<circle cx="452.6" cy="519.5" r="1.8" fill="#e2574a"/>
<circle cx="212.9" cy="485.6" r="1.8" fill="#ebb86c"/>
<circle cx="342.6" cy="494.6" r="1.8" fill="#5cb6a9"/>
<circle cx="307.8" cy="484.7" r="1.8" fill="#bde4a0"/>
<circle cx="435.6" cy="497.9" r="1.8" fill="#bde4a0"/>
<circle cx="334.3" cy="502.3" r="1.8" fill="#bde4a0"/>
<circle cx="340.5" cy="505.3" r="1.8" fill="#ebb86c"/>
<circle cx="433.9" cy="504.3" r="1.8" fill="#ebb86c"/>
<circle cx="345.9" cy="489.8" r="1.8" fill="#f4fabd"/>
<circle cx="584.7" cy="531.1" r="1.8" fill="#ebb86c"/>
<circle cx="213.3" cy="484.2" r="1.8" fill="#f4fabd"/>
<circle cx="214.0" cy="477.2" r="1.8" fill="#f4fabd"/>
<circle cx="370.8" cy="494.4" r="1.8" fill="#bde4a0"/>
<circle cx="470.5" cy="519.4" r="1.8" fill="#e2574a"/>
<circle cx="449.0" cy="500.6" r="1.8" fill="#bde4a0"/>
<circle cx="343.8" cy="501.4" r="1.8" fill="#a10b49"/>
<circle cx="370.8" cy="512.0" r="1.8" fill="#bde4a0"/>
<circle cx="272.1" cy="492.7" r="1.8" fill="#ebb86c"/>
<circle cx="312.3" cy="489.5" r="1.8" fill="#bde4a0"/>
<circle cx="310.3" cy="489.9" r="1.8" fill="#ebb86c"/>
<circle cx="448.1" cy="519.3" r="1.8" fill="#e2574a"/>
<circle cx="307.8" cy="499.9" r="1.8" fill="#a10b49"/>
<circle cx="323.7" cy="503.4" r="1.8" fill="#e2574a"/>
<circle cx="309.1" cy="479.4" r="1.8" fill="#f4fabd"/>
<circle cx="452.0" cy="496.2" r="1.8" fill="#bde4a0"/>
<circle cx="417.0" cy="510.9" r="1.8" fill="#a10b49"/>
<circle cx="332.1" cy="498.3" r="1.8" fill="#ebb86c"/>
<circle cx="244.6" cy="489.3" r="1.8" fill="#ebb86c"/>
<circle cx="274.4" cy="477.2" r="1.8" fill="#bde4a0"/>
<circle cx="314.2" cy="487.7" r="1.8" fill="#bde4a0"/>
<circle cx="314.1" cy="497.7" r="1.8" fill="#bde4a0"/>
<circle cx="348.3" cy="491.1" r="1.8" fill="#bde4a0"/>
<circle cx="370.4" cy="503.4" r="1.8" fill="#ebb86c"/>
<circle cx="267.3" cy="483.8" r="1.8" fill="#f4fabd"/>
<circle cx="278.5" cy="490.1" r="1.8" fill="#f4fabd"/>
<circle cx="233.1" cy="481.6" r="1.8" fill="#e2574a"/>
<circle cx="344.3" cy="496.2" r="1.8" fill="#5cb6a9"/>
<circle cx="370.7" cy="495.9" r="1.8" fill="#f4fabd"/>
<circle cx="265.2" cy="487.3" r="1.8" fill="#ebb86c"/>
<circle cx="342.9" cy="498.8" r="1.8" fill="#ebb86c"/>
<circle cx="309.9" cy="476.5" r="1.8" fill="#f4fabd"/>
<circle cx="394.0" cy="510.8" r="1.8" fill="#bde4a0"/>
<circle cx="306.7" cy="489.0" r="1.8" fill="#f4fabd"/>
<circle cx="446.4" cy="509.9" r="1.8" fill="#ebb86c"/>
<circle cx="252.3" cy="501.2" r="1.8" fill="#e2574a"/>
<circle cx="273.6" cy="478.3" r="1.8" fill="#f4fabd"/>
<circle cx="246.0" cy="489.5" r="1.8" fill="#ebb86c"/>
<circle cx="344.2" cy="491.6" r="1.8" fill="#f4fabd"/>
<circle cx="267.2" cy="479.9" r="1.8" fill="#f4fabd"/>
<circle cx="307.8" cy="481.3" r="1.8" fill="#bde4a0"/>
<circle cx="256.8" cy="479.3" r="1.8" fill="#5cb6a9"/>
<circle cx="283.7" cy="479.9" r="1.8" fill="#bde4a0"/>
<circle cx="232.9" cy="485.4" r="1.8" fill="#ebb86c"/>
<circle cx="314.4" cy="493.5" r="1.8" fill="#f4fabd"/>
<circle cx="211.5" cy="481.8" r="1.8" fill="#bde4a0"/>
<circle cx="403.7" cy="486.7" r="1.8" fill="#ebb86c"/>
<circle cx="386.2" cy="493.4" r="1.8" fill="#bde4a0"/>
<circle cx="319.3" cy="498.4" r="1.8" fill="#f4fabd"/>
<circle cx="228.3" cy="478.8" r="1.8" fill="#ebb86c"/>
<circle cx="447.3" cy="512.7" r="1.8" fill="#bde4a0"/>
<circle cx="464.0" cy="520.2" r="1.8" fill="#ebb86c"/>
<circle cx="226.2" cy="487.4" r="1.8" fill="#bde4a0"/>
<circle cx="257.1" cy="493.3" r="1.8" fill="#bde4a0"/>
<circle cx="366.3" cy="510.9" r="1.8" fill="#a10b49"/>
<circle cx="269.5" cy="489.4" r="1.8" fill="#ebb86c"/>
<circle cx="341.0" cy="508.4" r="1.8" fill="#bde4a0"/>
<circle cx="289.9" cy="483.0" r="1.8" fill="#ebb86c"/>
<circle cx="232.6" cy="477.7" r="1.8" fill="#bde4a0"/>
<circle cx="249.3" cy="494.8" r="1.8" fill="#ebb86c"/>
<circle cx="223.6" cy="477.5" r="1.8" fill="#bde4a0"/>
<circle cx="290.0" cy="493.8" r="1.8" fill="#e2574a"/>
<circle cx="262.0" cy="486.6" r="1.8" fill="#ebb86c"/>
<circle cx="296.7" cy="491.9" r="1.8" fill="#f4fabd"/>
<circle cx="240.1" cy="479.5" r="1.8" fill="#bde4a0"/>
<circle cx="379.8" cy="503.3" r="1.8" fill="#bde4a0"/>
<circle cx="527.7" cy="542.3" r="1.8" fill="#a10b49"/>
<circle cx="272.2" cy="474.1" r="1.8" fill="#f4fabd"/>
<circle cx="281.4" cy="488.9" r="1.8" fill="#e2574a"/>
<circle cx="464.2" cy="519.4" r="1.8" fill="#ebb86c"/>
<circle cx="322.6" cy="505.9" r="1.8" fill="#bde4a0"/>
<circle cx="214.9" cy="483.1" r="1.8" fill="#f4fabd"/>
<circle cx="396.9" cy="508.9" r="1.8" fill="#e2574a"/>
<circle cx="278.1" cy="481.2" r="1.8" fill="#bde4a0"/>
<circle cx="289.4" cy="481.0" r="1.8" fill="#f4fabd"/>
<circle cx="320.9" cy="503.0" r="1.8" fill="#ebb86c"/>
<circle cx="273.1" cy="485.5" r="1.8" fill="#5cb6a9"/>
<circle cx="343.1" cy="506.9" r="1.8" fill="#ebb86c"/>
<circle cx="242.0" cy="475.4" r="1.8" fill="#bde4a0"/>
<circle cx="356.5" cy="499.3" r="1.8" fill="#f4fabd"/>
<circle cx="294.3" cy="481.8" r="1.8" fill="#bde4a0"/>
<circle cx="449.7" cy="496.3" r="1.8" fill="#5cb6a9"/>
<circle cx="410.0" cy="512.9" r="1.8" fill="#bde4a0"/>
<circle cx="401.8" cy="485.8" r="1.8" fill="#f4fabd"/>
<circle cx="214.1" cy="491.9" r="1.8" fill="#ebb86c"/>
<circle cx="225.9" cy="491.6" r="1.8" fill="#ebb86c"/>
<circle cx="347.8" cy="491.3" r="1.8" fill="#ebb86c"/>
<circle cx="418.9" cy="508.1" r="1.8" fill="#e2574a"/>
<circle cx="326.0" cy="502.2" r="1.8" fill="#a10b49"/>
<circle cx="247.1" cy="483.9" r="1.8" fill="#bde4a0"/>
<circle cx="490.2" cy="505.5" r="1.8" fill="#bde4a0"/>
<circle cx="306.7" cy="478.7" r="1.8" fill="#bde4a0"/>
<circle cx="316.6" cy="507.2" r="1.8" fill="#bde4a0"/>
<circle cx="308.3" cy="491.8" r="1.8" fill="#e2574a"/>
<circle cx="538.8" cy="548.8" r="1.8" fill="#ebb86c"/>
<circle cx="235.6" cy="478.6" r="1.8" fill="#f4fabd"/>
<circle cx="241.0" cy="484.0" r="1.8" fill="#bde4a0"/>
<circle cx="470.2" cy="513.4" r="1.8" fill="#ebb86c"/>
<circle cx="268.3" cy="502.5" r="1.8" fill="#e2574a"/>
<circle cx="285.4" cy="492.6" r="1.8" fill="#ebb86c"/>
<circle cx="355.4" cy="493.6" r="1.8" fill="#ebb86c"/>
<circle cx="424.4" cy="488.0" r="1.8" fill="#bde4a0"/>
<circle cx="375.2" cy="508.9" r="1.8" fill="#e2574a"/>
<circle cx="262.4" cy="494.6" r="1.8" fill="#ebb86c"/>
<circle cx="257.8" cy="479.1" r="1.8" fill="#ebb86c"/>
<circle cx="318.3" cy="505.3" r="1.8" fill="#ebb86c"/>
<circle cx="258.8" cy="483.6" r="1.8" fill="#bde4a0"/>
<circle cx="242.6" cy="486.6" r="1.8" fill="#bde4a0"/>
<circle cx="364.0" cy="503.8" r="1.8" fill="#ebb86c"/>
<circle cx="428.1" cy="526.8" r="1.8" fill="#ebb86c"/>
<circle cx="213.5" cy="480.1" r="1.8" fill="#ebb86c"/>
<circle cx="265.0" cy="481.6" r="1.8" fill="#bde4a0"/>
<circle cx="574.4" cy="536.2" r="1.8" fill="#ebb86c"/>
<circle cx="384.9" cy="496.1" r="1.8" fill="#ebb86c"/>
<circle cx="381.6" cy="506.6" r="1.8" fill="#bde4a0"/>
<circle cx="376.7" cy="489.2" r="1.8" fill="#bde4a0"/>
<circle cx="349.3" cy="492.9" r="1.8" fill="#e2574a"/>
<circle cx="254.0" cy="482.4" r="1.8" fill="#bde4a0"/>
<circle cx="260.6" cy="478.8" r="1.8" fill="#ebb86c"/>
<circle cx="216.5" cy="486.4" r="1.8" fill="#bde4a0"/>
<circle cx="428.6" cy="510.9" r="1.8" fill="#bde4a0"/>
<circle cx="317.3" cy="499.8" r="1.8" fill="#f4fabd"/>
<circle cx="369.3" cy="502.3" r="1.8" fill="#e2574a"/>
<circle cx="296.0" cy="471.4" r="1.8" fill="#f4fabd"/>
<circle cx="321.2" cy="486.6" r="1.8" fill="#ebb86c"/>
<circle cx="260.5" cy="486.4" r="1.8" fill="#5cb6a9"/>
<circle cx="476.1" cy="520.1" r="1.8" fill="#f4fabd"/>
<circle cx="363.5" cy="488.1" r="1.8" fill="#ebb86c"/>
<circle cx="374.7" cy="496.9" r="1.8" fill="#ebb86c"/>
<circle cx="333.4" cy="489.4" r="1.8" fill="#ebb86c"/>
<circle cx="320.0" cy="484.9" r="1.8" fill="#ebb86c"/>
<circle cx="254.0" cy="492.7" r="1.8" fill="#ebb86c"/>
<circle cx="309.8" cy="498.4" r="1.8" fill="#f4fabd"/>
<circle cx="520.1" cy="514.8" r="1.8" fill="#ebb86c"/>
<circle cx="236.1" cy="473.9" r="1.8" fill="#ebb86c"/>
<circle cx="253.8" cy="500.0" r="1.8" fill="#f4fabd"/>
<circle cx="309.1" cy="483.3" r="1.8" fill="#ebb86c"/>
<circle cx="391.5" cy="501.1" r="1.8" fill="#f4fabd"/>
<circle cx="404.9" cy="525.0" r="1.8" fill="#ebb86c"/>
<circle cx="509.3" cy="519.0" r="1.8" fill="#ebb86c"/>
<circle cx="248.1" cy="483.6" r="1.8" fill="#bde4a0"/>
<circle cx="397.9" cy="499.9" r="1.8" fill="#e2574a"/>
<circle cx="238.5" cy="487.5" r="1.8" fill="#e2574a"/>
<circle cx="382.7" cy="498.3" r="1.8" fill="#bde4a0"/>
<circle cx="406.0" cy="508.9" r="1.8" fill="#e2574a"/>
<circle cx="272.3" cy="485.0" r="1.8" fill="#ebb86c"/>
<circle cx="258.8" cy="496.7" r="1.8" fill="#f4fabd"/>
<circle cx="482.7" cy="526.6" r="1.8" fill="#e2574a"/>
<circle cx="251.5" cy="473.0" r="1.8" fill="#ebb86c"/>
<circle cx="219.5" cy="473.8" r="1.8" fill="#bde4a0"/>
<circle cx="261.4" cy="487.2" r="1.8" fill="#ebb86c"/>
<circle cx="218.7" cy="484.4" r="1.8" fill="#bde4a0"/>
<circle cx="230.3" cy="483.0" r="1.8" fill="#ebb86c"/>
<circle cx="220.5" cy="477.8" r="1.8" fill="#ebb86c"/>
<circle cx="404.7" cy="512.6" r="1.8" fill="#ebb86c"/>
<circle cx="311.6" cy="491.9" r="1.8" fill="#e2574a"/>
<circle cx="459.7" cy="496.8" r="1.8" fill="#f4fabd"/>
<circle cx="327.2" cy="491.2" r="1.8" fill="#e2574a"/>
<circle cx="293.1" cy="486.3" r="1.8" fill="#bde4a0"/>
<circle cx="392.3" cy="511.5" r="1.8" fill="#a10b49"/>
<circle cx="342.9" cy="504.4" r="1.8" fill="#ebb86c"/>
<circle cx="567.8" cy="530.7" r="1.8" fill="#bde4a0"/>
<circle cx="465.3" cy="504.4" r="1.8" fill="#ebb86c"/>
<circle cx="258.0" cy="501.9" r="1.8" fill="#ebb86c"/>
<circle cx="415.0" cy="541.4" r="1.8" fill="#a10b49"/>
<circle cx="457.1" cy="526.7" r="1.8" fill="#f4fabd"/>
<circle cx="327.1" cy="492.2" r="1.8" fill="#f4fabd"/>
<circle cx="376.5" cy="496.1" r="1.8" fill="#bde4a0"/>
<circle cx="464.7" cy="510.3" r="1.8" fill="#e2574a"/>
<circle cx="503.9" cy="507.9" r="1.8" fill="#bde4a0"/>
<circle cx="221.3" cy="477.7" r="1.8" fill="#f4fabd"/>
<circle cx="316.5" cy="486.1" r="1.8" fill="#f4fabd"/>
<circle cx="360.8" cy="487.8" r="1.8" fill="#bde4a0"/>
<circle cx="307.9" cy="492.1" r="1.8" fill="#bde4a0"/>
<circle cx="211.1" cy="486.6" r="1.8" fill="#ebb86c"/>
<circle cx="374.7" cy="488.5" r="1.8" fill="#bde4a0"/>
<circle cx="425.8" cy="521.9" r="1.8" fill="#f4fabd"/>
<circle cx="226.8" cy="482.2" r="1.8" fill="#f4fabd"/>
<circle cx="272.1" cy="479.6" r="1.8" fill="#ebb86c"/>
<circle cx="438.8" cy="536.3" r="1.8" fill="#e2574a"/>
<circle cx="445.0" cy="501.4" r="1.8" fill="#ebb86c"/>
<circle cx="253.5" cy="489.6" r="1.8" fill="#f4fabd"/>
<circle cx="571.8" cy="530.8" r="1.8" fill="#bde4a0"/>
<circle cx="332.3" cy="481.4" r="1.8" fill="#f4fabd"/>
<circle cx="375.8" cy="510.7" r="1.8" fill="#f4fabd"/>
<circle cx="213.6" cy="484.3" r="1.8" fill="#bde4a0"/>
<circle cx="516.2" cy="521.2" r="1.8" fill="#a10b49"/>
<circle cx="325.0" cy="505.2" r="1.8" fill="#e2574a"/>
<circle cx="329.3" cy="505.3" r="1.8" fill="#a10b49"/>
<circle cx="388.2" cy="506.3" r="1.8" fill="#5cb6a9"/>
<circle cx="376.7" cy="511.9" r="1.8" fill="#e2574a"/>
<circle cx="256.5" cy="485.2" r="1.8" fill="#ebb86c"/>
<circle cx="334.3" cy="499.1" r="1.8" fill="#5cb6a9"/>
<circle cx="260.7" cy="476.3" r="1.8" fill="#e2574a"/>
<circle cx="548.0" cy="528.0" r="1.8" fill="#ebb86c"/>
<circle cx="289.9" cy="477.2" r="1.8" fill="#f4fabd"/>
<circle cx="349.0" cy="475.7" r="1.8" fill="#bde4a0"/>
<circle cx="229.9" cy="474.3" r="1.8" fill="#bde4a0"/>
<circle cx="516.1" cy="509.2" r="1.8" fill="#bde4a0"/>
<circle cx="477.4" cy="516.3" r="1.8" fill="#ebb86c"/>
<circle cx="296.2" cy="494.2" r="1.8" fill="#bde4a0"/>
<circle cx="451.8" cy="498.1" r="1.8" fill="#bde4a0"/>
<circle cx="271.7" cy="521.1" r="1.8" fill="#a10b49"/>
<circle cx="238.0" cy="477.9" r="1.8" fill="#bde4a0"/>
<circle cx="281.0" cy="485.4" r="1.8" fill="#5cb6a9"/>
<circle cx="382.8" cy="499.6" r="1.8" fill="#5d50a0"/>
<circle cx="459.4" cy="507.3" r="1.8" fill="#bde4a0"/>
<circle cx="289.8" cy="471.6" r="1.8" fill="#bde4a0"/>
<circle cx="227.6" cy="484.0" r="1.8" fill="#f4fabd"/>
<circle cx="400.5" cy="518.3" r="1.8" fill="#a10b49"/>
<circle cx="353.1" cy="508.3" r="1.8" fill="#a10b49"/>
<circle cx="402.7" cy="492.1" r="1.8" fill="#f4fabd"/>
<circle cx="229.7" cy="486.0" r="1.8" fill="#f4fabd"/>
<circle cx="211.2" cy="478.6" r="1.8" fill="#ebb86c"/>
<circle cx="266.2" cy="492.6" r="1.8" fill="#ebb86c"/>
<circle cx="382.1" cy="504.4" r="1.8" fill="#e2574a"/>
<circle cx="368.0" cy="512.7" r="1.8" fill="#ebb86c"/>
<circle cx="296.6" cy="502.4" r="1.8" fill="#f4fabd"/>
<circle cx="302.8" cy="495.1" r="1.8" fill="#f4fabd"/>
<circle cx="388.6" cy="506.2" r="1.8" fill="#ebb86c"/>
<circle cx="393.3" cy="504.2" r="1.8" fill="#5cb6a9"/>
<circle cx="214.5" cy="477.8" r="1.8" fill="#f4fabd"/>
<circle cx="222.1" cy="487.9" r="1.8" fill="#ebb86c"/>
<circle cx="288.5" cy="494.7" r="1.8" fill="#ebb86c"/>
<circle cx="299.0" cy="488.7" r="1.8" fill="#f4fabd"/>
<circle cx="296.6" cy="496.7" r="1.8" fill="#ebb86c"/>
<circle cx="500.7" cy="515.6" r="1.8" fill="#5d50a0"/>
<circle cx="407.1" cy="492.3" r="1.8" fill="#5cb6a9"/>
<circle cx="212.7" cy="483.9" r="1.8" fill="#bde4a0"/>
<circle cx="212.4" cy="486.3" r="1.8" fill="#f4fabd"/>
<circle cx="342.3" cy="479.6" r="1.8" fill="#bde4a0"/>
<line x1="212.0" y1="490.9" x2="580.8" y2="543.0" stroke="#a10b49" stroke-width="2.6" stroke-linecap="round"/>
<line x1="213.0" y1="482.0" x2="562.0" y2="532.0" stroke="#ebb86c" stroke-width="2.6" stroke-linecap="round"/>
<line x1="212.0" y1="481.0" x2="563.0" y2="528.3" stroke="#f4fabd" stroke-width="2.6" stroke-linecap="round"/>
<line x1="215.0" y1="483.0" x2="587.0" y2="537.0" stroke="#e2574a" stroke-width="2.6" stroke-linecap="round"/>
<line x1="212.0" y1="480.5" x2="543.5" y2="524.4" stroke="#bde4a0" stroke-width="2.6" stroke-linecap="round"/>
<line x1="242.8" y1="484.8" x2="537.0" y2="520.0" stroke="#5cb6a9" stroke-width="2.6" stroke-linecap="round"/>
</g>
<rect x="59.0" y="409.4" width="528.5" height="161.0" fill="none" stroke="#2b2b2b" stroke-width="1.4"/>
<path d="M55.00 570.40H59.00M59.00 570.40V574.40M55.00 530.15H59.00M191.12 570.40V574.40M55.00 489.90H59.00M323.25 570.40V574.40M55.00 449.65H59.00M455.38 570.40V574.40M55.00 409.40H59.00M587.50 570.40V574.40" stroke="#2b2b2b" stroke-width="1.3" fill="none"/>
<text transform="translate(50.6,576.80) scale(0.95,1)" font-size="18" text-anchor="end">0</text>
<text transform="translate(59.00,591.30) scale(0.95,1)" font-size="18" text-anchor="middle">0.0</text>
<text transform="translate(50.6,536.55) scale(0.95,1)" font-size="18" text-anchor="end">10</text>
<text transform="translate(191.12,591.30) scale(0.95,1)" font-size="18" text-anchor="middle">0.1</text>
<text transform="translate(50.6,496.30) scale(0.95,1)" font-size="18" text-anchor="end">20</text>
<text transform="translate(323.25,591.30) scale(0.95,1)" font-size="18" text-anchor="middle">0.2</text>
<text transform="translate(50.6,456.05) scale(0.95,1)" font-size="18" text-anchor="end">30</text>
<text transform="translate(455.38,591.30) scale(0.95,1)" font-size="18" text-anchor="middle">0.3</text>
<text transform="translate(50.6,415.80) scale(0.95,1)" font-size="18" text-anchor="end">40</text>
<text transform="translate(587.50,591.30) scale(0.95,1)" font-size="18" text-anchor="middle">0.4</text>
<text transform="translate(72.6,429.80) scale(0.94,1)" font-size="20.8" font-weight="bold">TxSON</text>
<g font-size="19.5" font-weight="bold"><text transform="translate(15.4,427.6) rotate(-90)">Temperature</text><text transform="translate(15.4,313.4) rotate(-90)" letter-spacing="-0.2">Difference (K)</text></g>
<g font-size="20" font-weight="bold"><text x="249.6" y="641.3">Soil<tspan dx="-0.5" letter-spacing="-0.13">&#160;Moisture</tspan></text><text x="365.5" y="641.3">(</text><text x="372.6" y="641.3">m</text><text x="397.4" y="641.3">/</text><text x="402.4" y="641.3">m</text><text x="426.8" y="641.3" font-size="21">)</text></g>
<g font-size="13.5"><text x="389.2" y="631.7">3</text><text x="419.2" y="631.7">3</text></g>
<path d="M622.6 446.73V501.6L627.80 519.8L633.0 501.6V446.73Z" fill="#a10b49"/>
<rect x="622.6" y="391.86" width="10.40" height="55.17" fill="#e2574a"/>
<rect x="622.6" y="336.99" width="10.40" height="55.17" fill="#ebb86c"/>
<rect x="622.6" y="282.11" width="10.40" height="55.17" fill="#f4fabd"/>
<rect x="622.6" y="227.24" width="10.40" height="55.17" fill="#bde4a0"/>
<rect x="622.6" y="172.37" width="10.40" height="55.17" fill="#5cb6a9"/>
<path d="M622.6 172.67V117.5L627.80 99.8L633.0 117.5V172.67Z" fill="#5d50a0"/>
<path d="M622.6 117.5L627.80 99.8L633.0 117.5V501.6L627.80 519.8L622.6 501.6Z" fill="none" stroke="#222" stroke-width="1.1"/>
<text x="641.8" y="506.80" font-size="15">0.0</text>
<text x="641.8" y="451.93" font-size="15">0.1</text>
<text x="641.8" y="397.06" font-size="15">0.2</text>
<text x="641.8" y="342.19" font-size="15">0.3</text>
<text x="641.8" y="287.31" font-size="15">0.4</text>
<text x="641.8" y="232.44" font-size="15">0.5</text>
<text x="641.8" y="177.57" font-size="15">0.6</text>
<text x="641.8" y="122.70" font-size="15">0.7</text>
<path d="M633.0 501.60H636.8M633.0 446.73H636.8M633.0 391.86H636.8M633.0 336.99H636.8M633.0 282.11H636.8M633.0 227.24H636.8M633.0 172.37H636.8M633.0 117.50H636.8" stroke="#222" stroke-width="1.1"/>
<text transform="translate(683.6,310.5) rotate(-90) scale(0.95,1)" font-size="18.5" font-weight="bold" text-anchor="middle">NDVI</text>
</svg></body></html>
